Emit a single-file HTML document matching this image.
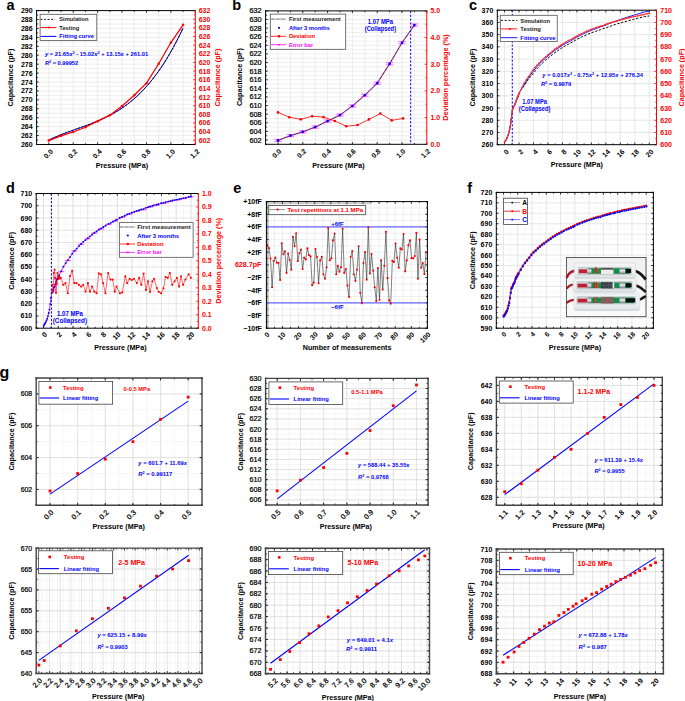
<!DOCTYPE html>
<html><head><meta charset="utf-8"><style>
html,body{margin:0;padding:0;background:#fff;}
svg{display:block;font-family:"Liberation Sans", sans-serif;}
</style></head><body>
<svg width="685" height="701" viewBox="0 0 685 701">
<rect width="685" height="701" fill="#fff"/>
<line x1="48.81" y1="10.6" x2="48.81" y2="144.5" stroke="#e2e2e2" stroke-width="0.6"/>
<line x1="61.02" y1="10.6" x2="61.02" y2="144.5" stroke="#e2e2e2" stroke-width="0.6"/>
<line x1="73.22" y1="10.6" x2="73.22" y2="144.5" stroke="#e2e2e2" stroke-width="0.6"/>
<line x1="85.43" y1="10.6" x2="85.43" y2="144.5" stroke="#e2e2e2" stroke-width="0.6"/>
<line x1="97.64" y1="10.6" x2="97.64" y2="144.5" stroke="#e2e2e2" stroke-width="0.6"/>
<line x1="109.85" y1="10.6" x2="109.85" y2="144.5" stroke="#e2e2e2" stroke-width="0.6"/>
<line x1="122.05" y1="10.6" x2="122.05" y2="144.5" stroke="#e2e2e2" stroke-width="0.6"/>
<line x1="134.26" y1="10.6" x2="134.26" y2="144.5" stroke="#e2e2e2" stroke-width="0.6"/>
<line x1="146.47" y1="10.6" x2="146.47" y2="144.5" stroke="#e2e2e2" stroke-width="0.6"/>
<line x1="158.68" y1="10.6" x2="158.68" y2="144.5" stroke="#e2e2e2" stroke-width="0.6"/>
<line x1="170.88" y1="10.6" x2="170.88" y2="144.5" stroke="#e2e2e2" stroke-width="0.6"/>
<line x1="183.09" y1="10.6" x2="183.09" y2="144.5" stroke="#e2e2e2" stroke-width="0.6"/>
<line x1="36.6" y1="140.04" x2="195.3" y2="140.04" stroke="#e2e2e2" stroke-width="0.6"/>
<line x1="36.6" y1="135.57" x2="195.3" y2="135.57" stroke="#e2e2e2" stroke-width="0.6"/>
<line x1="36.6" y1="131.11" x2="195.3" y2="131.11" stroke="#e2e2e2" stroke-width="0.6"/>
<line x1="36.6" y1="126.65" x2="195.3" y2="126.65" stroke="#e2e2e2" stroke-width="0.6"/>
<line x1="36.6" y1="122.18" x2="195.3" y2="122.18" stroke="#e2e2e2" stroke-width="0.6"/>
<line x1="36.6" y1="117.72" x2="195.3" y2="117.72" stroke="#e2e2e2" stroke-width="0.6"/>
<line x1="36.6" y1="113.26" x2="195.3" y2="113.26" stroke="#e2e2e2" stroke-width="0.6"/>
<line x1="36.6" y1="108.79" x2="195.3" y2="108.79" stroke="#e2e2e2" stroke-width="0.6"/>
<line x1="36.6" y1="104.33" x2="195.3" y2="104.33" stroke="#e2e2e2" stroke-width="0.6"/>
<line x1="36.6" y1="99.87" x2="195.3" y2="99.87" stroke="#e2e2e2" stroke-width="0.6"/>
<line x1="36.6" y1="95.4" x2="195.3" y2="95.4" stroke="#e2e2e2" stroke-width="0.6"/>
<line x1="36.6" y1="90.94" x2="195.3" y2="90.94" stroke="#e2e2e2" stroke-width="0.6"/>
<line x1="36.6" y1="86.48" x2="195.3" y2="86.48" stroke="#e2e2e2" stroke-width="0.6"/>
<line x1="36.6" y1="82.01" x2="195.3" y2="82.01" stroke="#e2e2e2" stroke-width="0.6"/>
<line x1="36.6" y1="77.55" x2="195.3" y2="77.55" stroke="#e2e2e2" stroke-width="0.6"/>
<line x1="36.6" y1="73.09" x2="195.3" y2="73.09" stroke="#e2e2e2" stroke-width="0.6"/>
<line x1="36.6" y1="68.62" x2="195.3" y2="68.62" stroke="#e2e2e2" stroke-width="0.6"/>
<line x1="36.6" y1="64.16" x2="195.3" y2="64.16" stroke="#e2e2e2" stroke-width="0.6"/>
<line x1="36.6" y1="59.7" x2="195.3" y2="59.7" stroke="#e2e2e2" stroke-width="0.6"/>
<line x1="36.6" y1="55.23" x2="195.3" y2="55.23" stroke="#e2e2e2" stroke-width="0.6"/>
<line x1="36.6" y1="50.77" x2="195.3" y2="50.77" stroke="#e2e2e2" stroke-width="0.6"/>
<line x1="36.6" y1="46.31" x2="195.3" y2="46.31" stroke="#e2e2e2" stroke-width="0.6"/>
<line x1="36.6" y1="41.84" x2="195.3" y2="41.84" stroke="#e2e2e2" stroke-width="0.6"/>
<line x1="36.6" y1="37.38" x2="195.3" y2="37.38" stroke="#e2e2e2" stroke-width="0.6"/>
<line x1="36.6" y1="32.92" x2="195.3" y2="32.92" stroke="#e2e2e2" stroke-width="0.6"/>
<line x1="36.6" y1="28.45" x2="195.3" y2="28.45" stroke="#e2e2e2" stroke-width="0.6"/>
<line x1="36.6" y1="23.99" x2="195.3" y2="23.99" stroke="#e2e2e2" stroke-width="0.6"/>
<line x1="36.6" y1="19.53" x2="195.3" y2="19.53" stroke="#e2e2e2" stroke-width="0.6"/>
<line x1="36.6" y1="15.06" x2="195.3" y2="15.06" stroke="#e2e2e2" stroke-width="0.6"/>
<line x1="48.81" y1="144.5" x2="48.81" y2="142.3" stroke="#000" stroke-width="0.8"/>
<line x1="48.81" y1="10.6" x2="48.81" y2="12.8" stroke="#000" stroke-width="0.8"/>
<line x1="73.22" y1="144.5" x2="73.22" y2="142.3" stroke="#000" stroke-width="0.8"/>
<line x1="73.22" y1="10.6" x2="73.22" y2="12.8" stroke="#000" stroke-width="0.8"/>
<line x1="97.64" y1="144.5" x2="97.64" y2="142.3" stroke="#000" stroke-width="0.8"/>
<line x1="97.64" y1="10.6" x2="97.64" y2="12.8" stroke="#000" stroke-width="0.8"/>
<line x1="122.05" y1="144.5" x2="122.05" y2="142.3" stroke="#000" stroke-width="0.8"/>
<line x1="122.05" y1="10.6" x2="122.05" y2="12.8" stroke="#000" stroke-width="0.8"/>
<line x1="146.47" y1="144.5" x2="146.47" y2="142.3" stroke="#000" stroke-width="0.8"/>
<line x1="146.47" y1="10.6" x2="146.47" y2="12.8" stroke="#000" stroke-width="0.8"/>
<line x1="170.88" y1="144.5" x2="170.88" y2="142.3" stroke="#000" stroke-width="0.8"/>
<line x1="170.88" y1="10.6" x2="170.88" y2="12.8" stroke="#000" stroke-width="0.8"/>
<line x1="195.3" y1="144.5" x2="195.3" y2="142.3" stroke="#000" stroke-width="0.8"/>
<line x1="195.3" y1="10.6" x2="195.3" y2="12.8" stroke="#000" stroke-width="0.8"/>
<line x1="61.02" y1="144.5" x2="61.02" y2="143.2" stroke="#000" stroke-width="0.8"/>
<line x1="61.02" y1="10.6" x2="61.02" y2="11.9" stroke="#000" stroke-width="0.8"/>
<line x1="85.43" y1="144.5" x2="85.43" y2="143.2" stroke="#000" stroke-width="0.8"/>
<line x1="85.43" y1="10.6" x2="85.43" y2="11.9" stroke="#000" stroke-width="0.8"/>
<line x1="109.85" y1="144.5" x2="109.85" y2="143.2" stroke="#000" stroke-width="0.8"/>
<line x1="109.85" y1="10.6" x2="109.85" y2="11.9" stroke="#000" stroke-width="0.8"/>
<line x1="134.26" y1="144.5" x2="134.26" y2="143.2" stroke="#000" stroke-width="0.8"/>
<line x1="134.26" y1="10.6" x2="134.26" y2="11.9" stroke="#000" stroke-width="0.8"/>
<line x1="158.68" y1="144.5" x2="158.68" y2="143.2" stroke="#000" stroke-width="0.8"/>
<line x1="158.68" y1="10.6" x2="158.68" y2="11.9" stroke="#000" stroke-width="0.8"/>
<line x1="183.09" y1="144.5" x2="183.09" y2="143.2" stroke="#000" stroke-width="0.8"/>
<line x1="183.09" y1="10.6" x2="183.09" y2="11.9" stroke="#000" stroke-width="0.8"/>
<line x1="36.6" y1="144.5" x2="38.8" y2="144.5" stroke="#000" stroke-width="0.8"/>
<line x1="36.6" y1="135.57" x2="38.8" y2="135.57" stroke="#000" stroke-width="0.8"/>
<line x1="36.6" y1="126.65" x2="38.8" y2="126.65" stroke="#000" stroke-width="0.8"/>
<line x1="36.6" y1="117.72" x2="38.8" y2="117.72" stroke="#000" stroke-width="0.8"/>
<line x1="36.6" y1="108.79" x2="38.8" y2="108.79" stroke="#000" stroke-width="0.8"/>
<line x1="36.6" y1="99.87" x2="38.8" y2="99.87" stroke="#000" stroke-width="0.8"/>
<line x1="36.6" y1="90.94" x2="38.8" y2="90.94" stroke="#000" stroke-width="0.8"/>
<line x1="36.6" y1="82.01" x2="38.8" y2="82.01" stroke="#000" stroke-width="0.8"/>
<line x1="36.6" y1="73.09" x2="38.8" y2="73.09" stroke="#000" stroke-width="0.8"/>
<line x1="36.6" y1="64.16" x2="38.8" y2="64.16" stroke="#000" stroke-width="0.8"/>
<line x1="36.6" y1="55.23" x2="38.8" y2="55.23" stroke="#000" stroke-width="0.8"/>
<line x1="36.6" y1="46.31" x2="38.8" y2="46.31" stroke="#000" stroke-width="0.8"/>
<line x1="36.6" y1="37.38" x2="38.8" y2="37.38" stroke="#000" stroke-width="0.8"/>
<line x1="36.6" y1="28.45" x2="38.8" y2="28.45" stroke="#000" stroke-width="0.8"/>
<line x1="36.6" y1="19.53" x2="38.8" y2="19.53" stroke="#000" stroke-width="0.8"/>
<line x1="36.6" y1="10.6" x2="38.8" y2="10.6" stroke="#000" stroke-width="0.8"/>
<line x1="36.6" y1="140.04" x2="37.9" y2="140.04" stroke="#000" stroke-width="0.8"/>
<line x1="36.6" y1="131.11" x2="37.9" y2="131.11" stroke="#000" stroke-width="0.8"/>
<line x1="36.6" y1="122.18" x2="37.9" y2="122.18" stroke="#000" stroke-width="0.8"/>
<line x1="36.6" y1="113.26" x2="37.9" y2="113.26" stroke="#000" stroke-width="0.8"/>
<line x1="36.6" y1="104.33" x2="37.9" y2="104.33" stroke="#000" stroke-width="0.8"/>
<line x1="36.6" y1="95.4" x2="37.9" y2="95.4" stroke="#000" stroke-width="0.8"/>
<line x1="36.6" y1="86.48" x2="37.9" y2="86.48" stroke="#000" stroke-width="0.8"/>
<line x1="36.6" y1="77.55" x2="37.9" y2="77.55" stroke="#000" stroke-width="0.8"/>
<line x1="36.6" y1="68.62" x2="37.9" y2="68.62" stroke="#000" stroke-width="0.8"/>
<line x1="36.6" y1="59.7" x2="37.9" y2="59.7" stroke="#000" stroke-width="0.8"/>
<line x1="36.6" y1="50.77" x2="37.9" y2="50.77" stroke="#000" stroke-width="0.8"/>
<line x1="36.6" y1="41.84" x2="37.9" y2="41.84" stroke="#000" stroke-width="0.8"/>
<line x1="36.6" y1="32.92" x2="37.9" y2="32.92" stroke="#000" stroke-width="0.8"/>
<line x1="36.6" y1="23.99" x2="37.9" y2="23.99" stroke="#000" stroke-width="0.8"/>
<line x1="36.6" y1="15.06" x2="37.9" y2="15.06" stroke="#000" stroke-width="0.8"/>
<line x1="195.3" y1="140.18" x2="193.1" y2="140.18" stroke="#ff0000" stroke-width="0.8"/>
<line x1="195.3" y1="131.54" x2="193.1" y2="131.54" stroke="#ff0000" stroke-width="0.8"/>
<line x1="195.3" y1="122.9" x2="193.1" y2="122.9" stroke="#ff0000" stroke-width="0.8"/>
<line x1="195.3" y1="114.26" x2="193.1" y2="114.26" stroke="#ff0000" stroke-width="0.8"/>
<line x1="195.3" y1="105.63" x2="193.1" y2="105.63" stroke="#ff0000" stroke-width="0.8"/>
<line x1="195.3" y1="96.99" x2="193.1" y2="96.99" stroke="#ff0000" stroke-width="0.8"/>
<line x1="195.3" y1="88.35" x2="193.1" y2="88.35" stroke="#ff0000" stroke-width="0.8"/>
<line x1="195.3" y1="79.71" x2="193.1" y2="79.71" stroke="#ff0000" stroke-width="0.8"/>
<line x1="195.3" y1="71.07" x2="193.1" y2="71.07" stroke="#ff0000" stroke-width="0.8"/>
<line x1="195.3" y1="62.43" x2="193.1" y2="62.43" stroke="#ff0000" stroke-width="0.8"/>
<line x1="195.3" y1="53.79" x2="193.1" y2="53.79" stroke="#ff0000" stroke-width="0.8"/>
<line x1="195.3" y1="45.15" x2="193.1" y2="45.15" stroke="#ff0000" stroke-width="0.8"/>
<line x1="195.3" y1="36.52" x2="193.1" y2="36.52" stroke="#ff0000" stroke-width="0.8"/>
<line x1="195.3" y1="27.88" x2="193.1" y2="27.88" stroke="#ff0000" stroke-width="0.8"/>
<line x1="195.3" y1="19.24" x2="193.1" y2="19.24" stroke="#ff0000" stroke-width="0.8"/>
<line x1="195.3" y1="10.6" x2="193.1" y2="10.6" stroke="#ff0000" stroke-width="0.8"/>
<line x1="195.3" y1="144.5" x2="194" y2="144.5" stroke="#ff0000" stroke-width="0.8"/>
<line x1="195.3" y1="135.86" x2="194" y2="135.86" stroke="#ff0000" stroke-width="0.8"/>
<line x1="195.3" y1="127.22" x2="194" y2="127.22" stroke="#ff0000" stroke-width="0.8"/>
<line x1="195.3" y1="118.58" x2="194" y2="118.58" stroke="#ff0000" stroke-width="0.8"/>
<line x1="195.3" y1="109.95" x2="194" y2="109.95" stroke="#ff0000" stroke-width="0.8"/>
<line x1="195.3" y1="101.31" x2="194" y2="101.31" stroke="#ff0000" stroke-width="0.8"/>
<line x1="195.3" y1="92.67" x2="194" y2="92.67" stroke="#ff0000" stroke-width="0.8"/>
<line x1="195.3" y1="84.03" x2="194" y2="84.03" stroke="#ff0000" stroke-width="0.8"/>
<line x1="195.3" y1="75.39" x2="194" y2="75.39" stroke="#ff0000" stroke-width="0.8"/>
<line x1="195.3" y1="66.75" x2="194" y2="66.75" stroke="#ff0000" stroke-width="0.8"/>
<line x1="195.3" y1="58.11" x2="194" y2="58.11" stroke="#ff0000" stroke-width="0.8"/>
<line x1="195.3" y1="49.47" x2="194" y2="49.47" stroke="#ff0000" stroke-width="0.8"/>
<line x1="195.3" y1="40.84" x2="194" y2="40.84" stroke="#ff0000" stroke-width="0.8"/>
<line x1="195.3" y1="32.2" x2="194" y2="32.2" stroke="#ff0000" stroke-width="0.8"/>
<line x1="195.3" y1="23.56" x2="194" y2="23.56" stroke="#ff0000" stroke-width="0.8"/>
<line x1="195.3" y1="14.92" x2="194" y2="14.92" stroke="#ff0000" stroke-width="0.8"/>
<polyline points="48.81,139.99 51.25,138.84 53.69,137.75 56.13,136.69 58.57,135.68 61.02,134.7 63.46,133.75 65.9,132.82 68.34,131.92 70.78,131.04 73.22,130.16 75.66,129.3 78.11,128.43 80.55,127.57 82.99,126.69 85.43,125.81 87.87,124.91 90.31,123.99 92.76,123.04 95.2,122.07 97.64,121.06 100.08,120.01 102.52,118.91 104.96,117.77 107.4,116.58 109.85,115.33 112.29,114.01 114.73,112.63 117.17,111.18 119.61,109.65 122.05,108.04 124.5,106.34 126.94,104.56 129.38,102.68 131.82,100.7 134.26,98.61 136.7,96.42 139.14,94.11 141.59,91.69 144.03,89.14 146.47,86.47 148.91,83.66 151.35,80.72 153.79,77.64 156.24,74.41 158.68,71.03 161.12,67.49 163.56,63.8 166,59.94 168.44,55.91 170.88,51.71 173.33,47.33 175.77,42.76 178.21,38.01 180.65,33.07 183.09,27.93" fill="none" stroke="#0000ff" stroke-width="1" stroke-linejoin="round"/>
<polyline points="48.81,139.99 51.25,138.84 53.69,137.75 56.13,136.69 58.57,135.68 61.02,134.7 63.46,133.75 65.9,132.82 68.34,131.92 70.78,131.04 73.22,130.16 75.66,129.3 78.11,128.43 80.55,127.57 82.99,126.69 85.43,125.81 87.87,124.91 90.31,123.99 92.76,123.04 95.2,122.07 97.64,121.06 100.08,120.01 102.52,118.91 104.96,117.77 107.4,116.58 109.85,115.33 112.29,114.01 114.73,112.63 117.17,111.18 119.61,109.65 122.05,108.04 124.5,106.34 126.94,104.56 129.38,102.68 131.82,100.7 134.26,98.61 136.7,96.42 139.14,94.11 141.59,91.69 144.03,89.14 146.47,86.47 148.91,83.66 151.35,80.72 153.79,77.64 156.24,74.41 158.68,71.03 161.12,67.49 163.56,63.8 166,59.94 168.44,55.91 170.88,51.71 173.33,47.33 175.77,42.76 178.21,38.01 180.65,33.07 183.09,27.93" fill="none" stroke="#000" stroke-width="0.9" stroke-linejoin="round" stroke-dasharray="2,1.5"/>
<polyline points="48.81,140.61 61.02,135.86 73.22,131.97 85.43,127.22 97.64,121.18 109.85,115.13 122.05,106.06 134.26,95.26 146.47,83.17 158.68,63.73 170.88,42.56 183.09,24.85" fill="none" stroke="#ff0000" stroke-width="1.25" stroke-linejoin="round"/>
<circle cx="48.81" cy="140.61" r="1.25" fill="#ff0000"/>
<circle cx="61.02" cy="135.86" r="1.25" fill="#ff0000"/>
<circle cx="73.22" cy="131.97" r="1.25" fill="#ff0000"/>
<circle cx="85.43" cy="127.22" r="1.25" fill="#ff0000"/>
<circle cx="97.64" cy="121.18" r="1.25" fill="#ff0000"/>
<circle cx="109.85" cy="115.13" r="1.25" fill="#ff0000"/>
<circle cx="122.05" cy="106.06" r="1.25" fill="#ff0000"/>
<circle cx="134.26" cy="95.26" r="1.25" fill="#ff0000"/>
<circle cx="146.47" cy="83.17" r="1.25" fill="#ff0000"/>
<circle cx="158.68" cy="63.73" r="1.25" fill="#ff0000"/>
<circle cx="170.88" cy="42.56" r="1.25" fill="#ff0000"/>
<circle cx="183.09" cy="24.85" r="1.25" fill="#ff0000"/>
<line x1="36.6" y1="144.5" x2="195.3" y2="144.5" stroke="#000" stroke-width="1" stroke-linecap="square"/>
<line x1="36.6" y1="10.6" x2="36.6" y2="144.5" stroke="#000" stroke-width="1" stroke-linecap="square"/>
<line x1="36.6" y1="10.6" x2="195.3" y2="10.6" stroke="#000" stroke-width="1" stroke-linecap="square"/>
<line x1="195.3" y1="10.6" x2="195.3" y2="144.5" stroke="#ff0000" stroke-width="1" stroke-linecap="square"/>
<text x="32.6" y="147.02" font-size="7" font-weight="bold" text-anchor="end">260</text>
<text x="32.6" y="138.09" font-size="7" font-weight="bold" text-anchor="end">262</text>
<text x="32.6" y="129.17" font-size="7" font-weight="bold" text-anchor="end">264</text>
<text x="32.6" y="120.24" font-size="7" font-weight="bold" text-anchor="end">266</text>
<text x="32.6" y="111.31" font-size="7" font-weight="bold" text-anchor="end">268</text>
<text x="32.6" y="102.39" font-size="7" font-weight="bold" text-anchor="end">270</text>
<text x="32.6" y="93.46" font-size="7" font-weight="bold" text-anchor="end">272</text>
<text x="32.6" y="84.53" font-size="7" font-weight="bold" text-anchor="end">274</text>
<text x="32.6" y="75.61" font-size="7" font-weight="bold" text-anchor="end">276</text>
<text x="32.6" y="66.68" font-size="7" font-weight="bold" text-anchor="end">278</text>
<text x="32.6" y="57.75" font-size="7" font-weight="bold" text-anchor="end">280</text>
<text x="32.6" y="48.83" font-size="7" font-weight="bold" text-anchor="end">282</text>
<text x="32.6" y="39.9" font-size="7" font-weight="bold" text-anchor="end">284</text>
<text x="32.6" y="30.97" font-size="7" font-weight="bold" text-anchor="end">286</text>
<text x="32.6" y="22.05" font-size="7" font-weight="bold" text-anchor="end">288</text>
<text x="32.6" y="13.12" font-size="7" font-weight="bold" text-anchor="end">290</text>
<text x="198.7" y="142.7" font-size="7" font-weight="bold" fill="#ff0000">602</text>
<text x="198.7" y="134.06" font-size="7" font-weight="bold" fill="#ff0000">604</text>
<text x="198.7" y="125.42" font-size="7" font-weight="bold" fill="#ff0000">606</text>
<text x="198.7" y="116.78" font-size="7" font-weight="bold" fill="#ff0000">608</text>
<text x="198.7" y="108.15" font-size="7" font-weight="bold" fill="#ff0000">610</text>
<text x="198.7" y="99.51" font-size="7" font-weight="bold" fill="#ff0000">612</text>
<text x="198.7" y="90.87" font-size="7" font-weight="bold" fill="#ff0000">614</text>
<text x="198.7" y="82.23" font-size="7" font-weight="bold" fill="#ff0000">616</text>
<text x="198.7" y="73.59" font-size="7" font-weight="bold" fill="#ff0000">618</text>
<text x="198.7" y="64.95" font-size="7" font-weight="bold" fill="#ff0000">620</text>
<text x="198.7" y="56.31" font-size="7" font-weight="bold" fill="#ff0000">622</text>
<text x="198.7" y="47.67" font-size="7" font-weight="bold" fill="#ff0000">624</text>
<text x="198.7" y="39.04" font-size="7" font-weight="bold" fill="#ff0000">626</text>
<text x="198.7" y="30.4" font-size="7" font-weight="bold" fill="#ff0000">628</text>
<text x="198.7" y="21.76" font-size="7" font-weight="bold" fill="#ff0000">630</text>
<text x="198.7" y="13.12" font-size="7" font-weight="bold" fill="#ff0000">632</text>
<text x="51.71" y="150.3" font-size="7" font-weight="bold" text-anchor="end" dominant-baseline="central" transform="rotate(-45 51.71 150.3)">0.0</text>
<text x="76.12" y="150.3" font-size="7" font-weight="bold" text-anchor="end" dominant-baseline="central" transform="rotate(-45 76.12 150.3)">0.2</text>
<text x="100.54" y="150.3" font-size="7" font-weight="bold" text-anchor="end" dominant-baseline="central" transform="rotate(-45 100.54 150.3)">0.4</text>
<text x="124.95" y="150.3" font-size="7" font-weight="bold" text-anchor="end" dominant-baseline="central" transform="rotate(-45 124.95 150.3)">0.6</text>
<text x="149.37" y="150.3" font-size="7" font-weight="bold" text-anchor="end" dominant-baseline="central" transform="rotate(-45 149.37 150.3)">0.8</text>
<text x="173.78" y="150.3" font-size="7" font-weight="bold" text-anchor="end" dominant-baseline="central" transform="rotate(-45 173.78 150.3)">1.0</text>
<text x="198.2" y="150.3" font-size="7" font-weight="bold" text-anchor="end" dominant-baseline="central" transform="rotate(-45 198.2 150.3)">1.2</text>
<text x="13.2" y="77.6" font-size="7.2" font-weight="bold" text-anchor="middle" transform="rotate(-90 13.2 77.6)">Capacitance (pF)</text>
<text x="219.7" y="77.6" font-size="7.2" font-weight="bold" fill="#ff0000" text-anchor="middle" transform="rotate(-90 219.7 77.6)">Capacitance (pF)</text>
<text x="121.9" y="168.3" font-size="7.2" font-weight="bold" text-anchor="middle">Pressure (MPa)</text>
<rect x="40.1" y="14.3" width="56.7" height="26.2" fill="#fff" stroke="#555" stroke-width="0.8"/>
<line x1="40.6" y1="19.4" x2="55" y2="19.4" stroke="#000" stroke-width="0.9" stroke-dasharray="2,1.5"/>
<text x="59.3" y="21.4" font-size="5.8" font-weight="bold" fill="#222" textLength="29.3" lengthAdjust="spacingAndGlyphs">Simulation</text>
<line x1="40.6" y1="27.6" x2="56.4" y2="27.6" stroke="#ff0000" stroke-width="1"/>
<circle cx="48.8" cy="27.6" r="1" fill="#ff0000"/>
<text x="59.3" y="29.6" font-size="5.8" font-weight="bold" fill="#222" textLength="20.1" lengthAdjust="spacingAndGlyphs">Testing</text>
<line x1="40.6" y1="36.4" x2="56.4" y2="36.4" stroke="#0000ff" stroke-width="1"/>
<text x="59.3" y="38.4" font-size="5.8" font-weight="bold" fill="#0000ff" textLength="34.7" lengthAdjust="spacingAndGlyphs">Fitting curve</text>
<text x="44.9" y="55.6" font-size="5.6" font-weight="bold" fill="#0000ff" textLength="103.3" lengthAdjust="spacingAndGlyphs"><tspan font-style="italic">y</tspan> = 21.65<tspan font-style="italic">x</tspan><tspan font-size="3.6" dy="-2">3</tspan><tspan dy="2"> - 15.02</tspan><tspan font-style="italic">x</tspan><tspan font-size="3.6" dy="-2">2</tspan><tspan dy="2"> + 13.15</tspan><tspan font-style="italic">x</tspan> + 261.01</text>
<text x="44.9" y="65.4" font-size="5.6" font-weight="bold" fill="#0000ff" textLength="33.3" lengthAdjust="spacingAndGlyphs"><tspan font-style="italic">R</tspan><tspan font-size="3.6" dy="-2">2</tspan><tspan dy="2"> = 0.99952</tspan></text>
<text x="6.4" y="10.2" font-size="14.5" font-weight="bold">a</text>
<line x1="278" y1="10.9" x2="278" y2="144.3" stroke="#e2e2e2" stroke-width="0.6"/>
<line x1="290.4" y1="10.9" x2="290.4" y2="144.3" stroke="#e2e2e2" stroke-width="0.6"/>
<line x1="302.8" y1="10.9" x2="302.8" y2="144.3" stroke="#e2e2e2" stroke-width="0.6"/>
<line x1="315.2" y1="10.9" x2="315.2" y2="144.3" stroke="#e2e2e2" stroke-width="0.6"/>
<line x1="327.6" y1="10.9" x2="327.6" y2="144.3" stroke="#e2e2e2" stroke-width="0.6"/>
<line x1="340" y1="10.9" x2="340" y2="144.3" stroke="#e2e2e2" stroke-width="0.6"/>
<line x1="352.4" y1="10.9" x2="352.4" y2="144.3" stroke="#e2e2e2" stroke-width="0.6"/>
<line x1="364.8" y1="10.9" x2="364.8" y2="144.3" stroke="#e2e2e2" stroke-width="0.6"/>
<line x1="377.2" y1="10.9" x2="377.2" y2="144.3" stroke="#e2e2e2" stroke-width="0.6"/>
<line x1="389.6" y1="10.9" x2="389.6" y2="144.3" stroke="#e2e2e2" stroke-width="0.6"/>
<line x1="402" y1="10.9" x2="402" y2="144.3" stroke="#e2e2e2" stroke-width="0.6"/>
<line x1="414.4" y1="10.9" x2="414.4" y2="144.3" stroke="#e2e2e2" stroke-width="0.6"/>
<line x1="265.6" y1="140" x2="426.8" y2="140" stroke="#e2e2e2" stroke-width="0.6"/>
<line x1="265.6" y1="135.69" x2="426.8" y2="135.69" stroke="#e2e2e2" stroke-width="0.6"/>
<line x1="265.6" y1="131.39" x2="426.8" y2="131.39" stroke="#e2e2e2" stroke-width="0.6"/>
<line x1="265.6" y1="127.09" x2="426.8" y2="127.09" stroke="#e2e2e2" stroke-width="0.6"/>
<line x1="265.6" y1="122.78" x2="426.8" y2="122.78" stroke="#e2e2e2" stroke-width="0.6"/>
<line x1="265.6" y1="118.48" x2="426.8" y2="118.48" stroke="#e2e2e2" stroke-width="0.6"/>
<line x1="265.6" y1="114.18" x2="426.8" y2="114.18" stroke="#e2e2e2" stroke-width="0.6"/>
<line x1="265.6" y1="109.87" x2="426.8" y2="109.87" stroke="#e2e2e2" stroke-width="0.6"/>
<line x1="265.6" y1="105.57" x2="426.8" y2="105.57" stroke="#e2e2e2" stroke-width="0.6"/>
<line x1="265.6" y1="101.27" x2="426.8" y2="101.27" stroke="#e2e2e2" stroke-width="0.6"/>
<line x1="265.6" y1="96.96" x2="426.8" y2="96.96" stroke="#e2e2e2" stroke-width="0.6"/>
<line x1="265.6" y1="92.66" x2="426.8" y2="92.66" stroke="#e2e2e2" stroke-width="0.6"/>
<line x1="265.6" y1="88.36" x2="426.8" y2="88.36" stroke="#e2e2e2" stroke-width="0.6"/>
<line x1="265.6" y1="84.05" x2="426.8" y2="84.05" stroke="#e2e2e2" stroke-width="0.6"/>
<line x1="265.6" y1="79.75" x2="426.8" y2="79.75" stroke="#e2e2e2" stroke-width="0.6"/>
<line x1="265.6" y1="75.45" x2="426.8" y2="75.45" stroke="#e2e2e2" stroke-width="0.6"/>
<line x1="265.6" y1="71.15" x2="426.8" y2="71.15" stroke="#e2e2e2" stroke-width="0.6"/>
<line x1="265.6" y1="66.84" x2="426.8" y2="66.84" stroke="#e2e2e2" stroke-width="0.6"/>
<line x1="265.6" y1="62.54" x2="426.8" y2="62.54" stroke="#e2e2e2" stroke-width="0.6"/>
<line x1="265.6" y1="58.24" x2="426.8" y2="58.24" stroke="#e2e2e2" stroke-width="0.6"/>
<line x1="265.6" y1="53.93" x2="426.8" y2="53.93" stroke="#e2e2e2" stroke-width="0.6"/>
<line x1="265.6" y1="49.63" x2="426.8" y2="49.63" stroke="#e2e2e2" stroke-width="0.6"/>
<line x1="265.6" y1="45.33" x2="426.8" y2="45.33" stroke="#e2e2e2" stroke-width="0.6"/>
<line x1="265.6" y1="41.02" x2="426.8" y2="41.02" stroke="#e2e2e2" stroke-width="0.6"/>
<line x1="265.6" y1="36.72" x2="426.8" y2="36.72" stroke="#e2e2e2" stroke-width="0.6"/>
<line x1="265.6" y1="32.42" x2="426.8" y2="32.42" stroke="#e2e2e2" stroke-width="0.6"/>
<line x1="265.6" y1="28.11" x2="426.8" y2="28.11" stroke="#e2e2e2" stroke-width="0.6"/>
<line x1="265.6" y1="23.81" x2="426.8" y2="23.81" stroke="#e2e2e2" stroke-width="0.6"/>
<line x1="265.6" y1="19.51" x2="426.8" y2="19.51" stroke="#e2e2e2" stroke-width="0.6"/>
<line x1="265.6" y1="15.2" x2="426.8" y2="15.2" stroke="#e2e2e2" stroke-width="0.6"/>
<line x1="278" y1="144.3" x2="278" y2="142.1" stroke="#000" stroke-width="0.8"/>
<line x1="278" y1="10.9" x2="278" y2="13.1" stroke="#000" stroke-width="0.8"/>
<line x1="302.8" y1="144.3" x2="302.8" y2="142.1" stroke="#000" stroke-width="0.8"/>
<line x1="302.8" y1="10.9" x2="302.8" y2="13.1" stroke="#000" stroke-width="0.8"/>
<line x1="327.6" y1="144.3" x2="327.6" y2="142.1" stroke="#000" stroke-width="0.8"/>
<line x1="327.6" y1="10.9" x2="327.6" y2="13.1" stroke="#000" stroke-width="0.8"/>
<line x1="352.4" y1="144.3" x2="352.4" y2="142.1" stroke="#000" stroke-width="0.8"/>
<line x1="352.4" y1="10.9" x2="352.4" y2="13.1" stroke="#000" stroke-width="0.8"/>
<line x1="377.2" y1="144.3" x2="377.2" y2="142.1" stroke="#000" stroke-width="0.8"/>
<line x1="377.2" y1="10.9" x2="377.2" y2="13.1" stroke="#000" stroke-width="0.8"/>
<line x1="402" y1="144.3" x2="402" y2="142.1" stroke="#000" stroke-width="0.8"/>
<line x1="402" y1="10.9" x2="402" y2="13.1" stroke="#000" stroke-width="0.8"/>
<line x1="426.8" y1="144.3" x2="426.8" y2="142.1" stroke="#000" stroke-width="0.8"/>
<line x1="426.8" y1="10.9" x2="426.8" y2="13.1" stroke="#000" stroke-width="0.8"/>
<line x1="290.4" y1="144.3" x2="290.4" y2="143" stroke="#000" stroke-width="0.8"/>
<line x1="290.4" y1="10.9" x2="290.4" y2="12.2" stroke="#000" stroke-width="0.8"/>
<line x1="315.2" y1="144.3" x2="315.2" y2="143" stroke="#000" stroke-width="0.8"/>
<line x1="315.2" y1="10.9" x2="315.2" y2="12.2" stroke="#000" stroke-width="0.8"/>
<line x1="340" y1="144.3" x2="340" y2="143" stroke="#000" stroke-width="0.8"/>
<line x1="340" y1="10.9" x2="340" y2="12.2" stroke="#000" stroke-width="0.8"/>
<line x1="364.8" y1="144.3" x2="364.8" y2="143" stroke="#000" stroke-width="0.8"/>
<line x1="364.8" y1="10.9" x2="364.8" y2="12.2" stroke="#000" stroke-width="0.8"/>
<line x1="389.6" y1="144.3" x2="389.6" y2="143" stroke="#000" stroke-width="0.8"/>
<line x1="389.6" y1="10.9" x2="389.6" y2="12.2" stroke="#000" stroke-width="0.8"/>
<line x1="414.4" y1="144.3" x2="414.4" y2="143" stroke="#000" stroke-width="0.8"/>
<line x1="414.4" y1="10.9" x2="414.4" y2="12.2" stroke="#000" stroke-width="0.8"/>
<line x1="265.6" y1="140" x2="267.8" y2="140" stroke="#000" stroke-width="0.8"/>
<line x1="265.6" y1="131.39" x2="267.8" y2="131.39" stroke="#000" stroke-width="0.8"/>
<line x1="265.6" y1="122.78" x2="267.8" y2="122.78" stroke="#000" stroke-width="0.8"/>
<line x1="265.6" y1="114.18" x2="267.8" y2="114.18" stroke="#000" stroke-width="0.8"/>
<line x1="265.6" y1="105.57" x2="267.8" y2="105.57" stroke="#000" stroke-width="0.8"/>
<line x1="265.6" y1="96.96" x2="267.8" y2="96.96" stroke="#000" stroke-width="0.8"/>
<line x1="265.6" y1="88.36" x2="267.8" y2="88.36" stroke="#000" stroke-width="0.8"/>
<line x1="265.6" y1="79.75" x2="267.8" y2="79.75" stroke="#000" stroke-width="0.8"/>
<line x1="265.6" y1="71.15" x2="267.8" y2="71.15" stroke="#000" stroke-width="0.8"/>
<line x1="265.6" y1="62.54" x2="267.8" y2="62.54" stroke="#000" stroke-width="0.8"/>
<line x1="265.6" y1="53.93" x2="267.8" y2="53.93" stroke="#000" stroke-width="0.8"/>
<line x1="265.6" y1="45.33" x2="267.8" y2="45.33" stroke="#000" stroke-width="0.8"/>
<line x1="265.6" y1="36.72" x2="267.8" y2="36.72" stroke="#000" stroke-width="0.8"/>
<line x1="265.6" y1="28.11" x2="267.8" y2="28.11" stroke="#000" stroke-width="0.8"/>
<line x1="265.6" y1="19.51" x2="267.8" y2="19.51" stroke="#000" stroke-width="0.8"/>
<line x1="265.6" y1="10.9" x2="267.8" y2="10.9" stroke="#000" stroke-width="0.8"/>
<line x1="265.6" y1="144.3" x2="266.9" y2="144.3" stroke="#000" stroke-width="0.8"/>
<line x1="265.6" y1="135.69" x2="266.9" y2="135.69" stroke="#000" stroke-width="0.8"/>
<line x1="265.6" y1="127.09" x2="266.9" y2="127.09" stroke="#000" stroke-width="0.8"/>
<line x1="265.6" y1="118.48" x2="266.9" y2="118.48" stroke="#000" stroke-width="0.8"/>
<line x1="265.6" y1="109.87" x2="266.9" y2="109.87" stroke="#000" stroke-width="0.8"/>
<line x1="265.6" y1="101.27" x2="266.9" y2="101.27" stroke="#000" stroke-width="0.8"/>
<line x1="265.6" y1="92.66" x2="266.9" y2="92.66" stroke="#000" stroke-width="0.8"/>
<line x1="265.6" y1="84.05" x2="266.9" y2="84.05" stroke="#000" stroke-width="0.8"/>
<line x1="265.6" y1="75.45" x2="266.9" y2="75.45" stroke="#000" stroke-width="0.8"/>
<line x1="265.6" y1="66.84" x2="266.9" y2="66.84" stroke="#000" stroke-width="0.8"/>
<line x1="265.6" y1="58.24" x2="266.9" y2="58.24" stroke="#000" stroke-width="0.8"/>
<line x1="265.6" y1="49.63" x2="266.9" y2="49.63" stroke="#000" stroke-width="0.8"/>
<line x1="265.6" y1="41.02" x2="266.9" y2="41.02" stroke="#000" stroke-width="0.8"/>
<line x1="265.6" y1="32.42" x2="266.9" y2="32.42" stroke="#000" stroke-width="0.8"/>
<line x1="265.6" y1="23.81" x2="266.9" y2="23.81" stroke="#000" stroke-width="0.8"/>
<line x1="265.6" y1="15.2" x2="266.9" y2="15.2" stroke="#000" stroke-width="0.8"/>
<line x1="426.8" y1="144.3" x2="424.6" y2="144.3" stroke="#ff0000" stroke-width="0.8"/>
<line x1="426.8" y1="117.62" x2="424.6" y2="117.62" stroke="#ff0000" stroke-width="0.8"/>
<line x1="426.8" y1="90.94" x2="424.6" y2="90.94" stroke="#ff0000" stroke-width="0.8"/>
<line x1="426.8" y1="64.26" x2="424.6" y2="64.26" stroke="#ff0000" stroke-width="0.8"/>
<line x1="426.8" y1="37.58" x2="424.6" y2="37.58" stroke="#ff0000" stroke-width="0.8"/>
<line x1="426.8" y1="10.9" x2="424.6" y2="10.9" stroke="#ff0000" stroke-width="0.8"/>
<line x1="426.8" y1="130.96" x2="425.5" y2="130.96" stroke="#ff0000" stroke-width="0.8"/>
<line x1="426.8" y1="104.28" x2="425.5" y2="104.28" stroke="#ff0000" stroke-width="0.8"/>
<line x1="426.8" y1="77.6" x2="425.5" y2="77.6" stroke="#ff0000" stroke-width="0.8"/>
<line x1="426.8" y1="50.92" x2="425.5" y2="50.92" stroke="#ff0000" stroke-width="0.8"/>
<line x1="426.8" y1="24.24" x2="425.5" y2="24.24" stroke="#ff0000" stroke-width="0.8"/>
<line x1="410.68" y1="10.9" x2="410.68" y2="144.3" stroke="#0000ff" stroke-width="1" stroke-dasharray="2.2,1.6"/>
<polyline points="278,140.43 290.4,135.69 302.8,131.82 315.2,127.09 327.6,121.06 340,115.04 352.4,106 364.8,95.24 377.2,83.19 389.6,63.83 402,42.74 414.4,25.1" fill="none" stroke="#ff00ff" stroke-width="1.4" stroke-linejoin="round" opacity="0.45"/>
<polyline points="278,140.43 290.4,135.69 302.8,131.82 315.2,127.09 327.6,121.06 340,115.04 352.4,106 364.8,95.24 377.2,83.19 389.6,63.83 402,42.74 414.4,25.1" fill="none" stroke="#111" stroke-width="0.95" stroke-linejoin="round" stroke-dasharray="1.2,0.35"/>
<line x1="274.3" y1="139.33" x2="281.7" y2="139.33" stroke="#ff00ff" stroke-width="0.7" opacity="0.85"/>
<line x1="274.3" y1="141.53" x2="281.7" y2="141.53" stroke="#ff00ff" stroke-width="0.7" opacity="0.85"/>
<line x1="286.7" y1="134.59" x2="294.1" y2="134.59" stroke="#ff00ff" stroke-width="0.7" opacity="0.85"/>
<line x1="286.7" y1="136.79" x2="294.1" y2="136.79" stroke="#ff00ff" stroke-width="0.7" opacity="0.85"/>
<line x1="299.1" y1="130.72" x2="306.5" y2="130.72" stroke="#ff00ff" stroke-width="0.7" opacity="0.85"/>
<line x1="299.1" y1="132.92" x2="306.5" y2="132.92" stroke="#ff00ff" stroke-width="0.7" opacity="0.85"/>
<line x1="311.5" y1="125.99" x2="318.9" y2="125.99" stroke="#ff00ff" stroke-width="0.7" opacity="0.85"/>
<line x1="311.5" y1="128.19" x2="318.9" y2="128.19" stroke="#ff00ff" stroke-width="0.7" opacity="0.85"/>
<line x1="323.9" y1="119.96" x2="331.3" y2="119.96" stroke="#ff00ff" stroke-width="0.7" opacity="0.85"/>
<line x1="323.9" y1="122.16" x2="331.3" y2="122.16" stroke="#ff00ff" stroke-width="0.7" opacity="0.85"/>
<line x1="336.3" y1="113.94" x2="343.7" y2="113.94" stroke="#ff00ff" stroke-width="0.7" opacity="0.85"/>
<line x1="336.3" y1="116.14" x2="343.7" y2="116.14" stroke="#ff00ff" stroke-width="0.7" opacity="0.85"/>
<line x1="348.7" y1="104.9" x2="356.1" y2="104.9" stroke="#ff00ff" stroke-width="0.7" opacity="0.85"/>
<line x1="348.7" y1="107.1" x2="356.1" y2="107.1" stroke="#ff00ff" stroke-width="0.7" opacity="0.85"/>
<line x1="361.1" y1="94.14" x2="368.5" y2="94.14" stroke="#ff00ff" stroke-width="0.7" opacity="0.85"/>
<line x1="361.1" y1="96.34" x2="368.5" y2="96.34" stroke="#ff00ff" stroke-width="0.7" opacity="0.85"/>
<line x1="373.5" y1="82.09" x2="380.9" y2="82.09" stroke="#ff00ff" stroke-width="0.7" opacity="0.85"/>
<line x1="373.5" y1="84.29" x2="380.9" y2="84.29" stroke="#ff00ff" stroke-width="0.7" opacity="0.85"/>
<line x1="385.9" y1="62.73" x2="393.3" y2="62.73" stroke="#ff00ff" stroke-width="0.7" opacity="0.85"/>
<line x1="385.9" y1="64.93" x2="393.3" y2="64.93" stroke="#ff00ff" stroke-width="0.7" opacity="0.85"/>
<line x1="398.3" y1="41.64" x2="405.7" y2="41.64" stroke="#ff00ff" stroke-width="0.7" opacity="0.85"/>
<line x1="398.3" y1="43.84" x2="405.7" y2="43.84" stroke="#ff00ff" stroke-width="0.7" opacity="0.85"/>
<line x1="410.7" y1="24" x2="418.1" y2="24" stroke="#ff00ff" stroke-width="0.7" opacity="0.85"/>
<line x1="410.7" y1="26.2" x2="418.1" y2="26.2" stroke="#ff00ff" stroke-width="0.7" opacity="0.85"/>
<circle cx="278" cy="140.43" r="1.35" fill="#0000ff"/>
<circle cx="290.4" cy="135.69" r="1.35" fill="#0000ff"/>
<circle cx="302.8" cy="131.82" r="1.35" fill="#0000ff"/>
<circle cx="315.2" cy="127.09" r="1.35" fill="#0000ff"/>
<circle cx="327.6" cy="121.06" r="1.35" fill="#0000ff"/>
<circle cx="340" cy="115.04" r="1.35" fill="#0000ff"/>
<circle cx="352.4" cy="106" r="1.35" fill="#0000ff"/>
<circle cx="364.8" cy="95.24" r="1.35" fill="#0000ff"/>
<circle cx="377.2" cy="83.19" r="1.35" fill="#0000ff"/>
<circle cx="389.6" cy="63.83" r="1.35" fill="#0000ff"/>
<circle cx="402" cy="42.74" r="1.35" fill="#0000ff"/>
<circle cx="414.4" cy="25.1" r="1.35" fill="#0000ff"/>
<polyline points="278,112.39 289.37,117.22 300.74,119.33 312.11,116.21 323.48,117.11 334.85,121.04 346.22,126.18 357.6,125.06 368.97,119.38 380.34,113.54 391.71,120.39 403.08,118.42" fill="none" stroke="#ff0000" stroke-width="0.8" stroke-linejoin="round"/>
<circle cx="278" cy="112.39" r="1.3" fill="#ff0000"/>
<circle cx="289.37" cy="117.22" r="1.3" fill="#ff0000"/>
<circle cx="300.74" cy="119.33" r="1.3" fill="#ff0000"/>
<circle cx="312.11" cy="116.21" r="1.3" fill="#ff0000"/>
<circle cx="323.48" cy="117.11" r="1.3" fill="#ff0000"/>
<circle cx="334.85" cy="121.04" r="1.3" fill="#ff0000"/>
<circle cx="346.22" cy="126.18" r="1.3" fill="#ff0000"/>
<circle cx="357.6" cy="125.06" r="1.3" fill="#ff0000"/>
<circle cx="368.97" cy="119.38" r="1.3" fill="#ff0000"/>
<circle cx="380.34" cy="113.54" r="1.3" fill="#ff0000"/>
<circle cx="391.71" cy="120.39" r="1.3" fill="#ff0000"/>
<circle cx="403.08" cy="118.42" r="1.3" fill="#ff0000"/>
<line x1="265.6" y1="144.3" x2="426.8" y2="144.3" stroke="#000" stroke-width="1" stroke-linecap="square"/>
<line x1="265.6" y1="10.9" x2="265.6" y2="144.3" stroke="#000" stroke-width="1" stroke-linecap="square"/>
<line x1="265.6" y1="10.9" x2="426.8" y2="10.9" stroke="#000" stroke-width="1" stroke-linecap="square"/>
<line x1="426.8" y1="10.9" x2="426.8" y2="144.3" stroke="#ff0000" stroke-width="1" stroke-linecap="square"/>
<text x="261.6" y="142.52" font-size="7" stroke="#000" stroke-width="0.22" text-anchor="end" textLength="12.2" lengthAdjust="spacingAndGlyphs">602</text>
<text x="261.6" y="133.91" font-size="7" stroke="#000" stroke-width="0.22" text-anchor="end" textLength="12.2" lengthAdjust="spacingAndGlyphs">604</text>
<text x="261.6" y="125.3" font-size="7" stroke="#000" stroke-width="0.22" text-anchor="end" textLength="12.2" lengthAdjust="spacingAndGlyphs">606</text>
<text x="261.6" y="116.7" font-size="7" stroke="#000" stroke-width="0.22" text-anchor="end" textLength="12.2" lengthAdjust="spacingAndGlyphs">608</text>
<text x="261.6" y="108.09" font-size="7" stroke="#000" stroke-width="0.22" text-anchor="end" textLength="12.2" lengthAdjust="spacingAndGlyphs">610</text>
<text x="261.6" y="99.48" font-size="7" stroke="#000" stroke-width="0.22" text-anchor="end" textLength="12.2" lengthAdjust="spacingAndGlyphs">612</text>
<text x="261.6" y="90.88" font-size="7" stroke="#000" stroke-width="0.22" text-anchor="end" textLength="12.2" lengthAdjust="spacingAndGlyphs">614</text>
<text x="261.6" y="82.27" font-size="7" stroke="#000" stroke-width="0.22" text-anchor="end" textLength="12.2" lengthAdjust="spacingAndGlyphs">616</text>
<text x="261.6" y="73.67" font-size="7" stroke="#000" stroke-width="0.22" text-anchor="end" textLength="12.2" lengthAdjust="spacingAndGlyphs">618</text>
<text x="261.6" y="65.06" font-size="7" stroke="#000" stroke-width="0.22" text-anchor="end" textLength="12.2" lengthAdjust="spacingAndGlyphs">620</text>
<text x="261.6" y="56.45" font-size="7" stroke="#000" stroke-width="0.22" text-anchor="end" textLength="12.2" lengthAdjust="spacingAndGlyphs">622</text>
<text x="261.6" y="47.85" font-size="7" stroke="#000" stroke-width="0.22" text-anchor="end" textLength="12.2" lengthAdjust="spacingAndGlyphs">624</text>
<text x="261.6" y="39.24" font-size="7" stroke="#000" stroke-width="0.22" text-anchor="end" textLength="12.2" lengthAdjust="spacingAndGlyphs">626</text>
<text x="261.6" y="30.63" font-size="7" stroke="#000" stroke-width="0.22" text-anchor="end" textLength="12.2" lengthAdjust="spacingAndGlyphs">628</text>
<text x="261.6" y="22.03" font-size="7" stroke="#000" stroke-width="0.22" text-anchor="end" textLength="12.2" lengthAdjust="spacingAndGlyphs">630</text>
<text x="261.6" y="13.42" font-size="7" stroke="#000" stroke-width="0.22" text-anchor="end" textLength="12.2" lengthAdjust="spacingAndGlyphs">632</text>
<text x="430.4" y="146.82" font-size="7" font-weight="bold" fill="#ff0000">0.0</text>
<text x="430.4" y="120.14" font-size="7" font-weight="bold" fill="#ff0000">1.0</text>
<text x="430.4" y="93.46" font-size="7" font-weight="bold" fill="#ff0000">2.0</text>
<text x="430.4" y="66.78" font-size="7" font-weight="bold" fill="#ff0000">3.0</text>
<text x="430.4" y="40.1" font-size="7" font-weight="bold" fill="#ff0000">4.0</text>
<text x="430.4" y="13.42" font-size="7" font-weight="bold" fill="#ff0000">5.0</text>
<text x="280.1" y="149.9" font-size="7" font-weight="bold" text-anchor="end" dominant-baseline="central" transform="rotate(-45 280.1 149.9)">0.0</text>
<text x="304.9" y="149.9" font-size="7" font-weight="bold" text-anchor="end" dominant-baseline="central" transform="rotate(-45 304.9 149.9)">0.2</text>
<text x="329.7" y="149.9" font-size="7" font-weight="bold" text-anchor="end" dominant-baseline="central" transform="rotate(-45 329.7 149.9)">0.4</text>
<text x="354.5" y="149.9" font-size="7" font-weight="bold" text-anchor="end" dominant-baseline="central" transform="rotate(-45 354.5 149.9)">0.6</text>
<text x="379.3" y="149.9" font-size="7" font-weight="bold" text-anchor="end" dominant-baseline="central" transform="rotate(-45 379.3 149.9)">0.8</text>
<text x="404.1" y="149.9" font-size="7" font-weight="bold" text-anchor="end" dominant-baseline="central" transform="rotate(-45 404.1 149.9)">1.0</text>
<text x="428.9" y="149.9" font-size="7" font-weight="bold" text-anchor="end" dominant-baseline="central" transform="rotate(-45 428.9 149.9)">1.2</text>
<text x="242.3" y="77.1" font-size="7.2" font-weight="bold" text-anchor="middle" transform="rotate(-90 242.3 77.1)">Capacitance (pF)</text>
<text x="448.4" y="77.5" font-size="7.2" font-weight="bold" fill="#ff0000" text-anchor="middle" transform="rotate(-90 448.4 77.5)" textLength="86.5" lengthAdjust="spacingAndGlyphs">Deviation percentage (%)</text>
<text x="338.5" y="168.3" font-size="7.2" font-weight="bold" text-anchor="middle">Pressure (MPa)</text>
<rect x="270.3" y="14.1" width="75.4" height="35.2" fill="#fff" stroke="#555" stroke-width="0.8"/>
<line x1="270.8" y1="19.1" x2="286" y2="19.1" stroke="#000" stroke-width="0.9" stroke-dasharray="0.7,0.55"/>
<text x="288.9" y="21.1" font-size="5.8" font-weight="bold" fill="#222" textLength="51.8" lengthAdjust="spacingAndGlyphs">First measurement</text>
<circle cx="279" cy="27.8" r="1.1" fill="#0000ff"/>
<text x="288.9" y="29.8" font-size="5.8" font-weight="bold" fill="#0000ff" textLength="40.9" lengthAdjust="spacingAndGlyphs">After 3 months</text>
<line x1="270.8" y1="36.3" x2="286" y2="36.3" stroke="#ff0000" stroke-width="0.8"/>
<circle cx="279" cy="36.3" r="1.3" fill="#ff0000"/>
<text x="288.9" y="38.3" font-size="5.8" font-weight="bold" fill="#ff0000" textLength="26.1" lengthAdjust="spacingAndGlyphs">Deviation</text>
<line x1="270.8" y1="44.7" x2="286" y2="44.7" stroke="#ff00ff" stroke-width="0.8"/>
<circle cx="279" cy="44.7" r="0.9" fill="#ff00ff"/>
<text x="288.9" y="46.7" font-size="5.8" font-weight="bold" fill="#ff00ff" textLength="24.2" lengthAdjust="spacingAndGlyphs">Error bar</text>
<text x="380.4" y="23.8" font-size="6.3" font-weight="bold" fill="#0000ff" text-anchor="middle" textLength="25.1" lengthAdjust="spacingAndGlyphs">1.07 MPa</text>
<text x="380.4" y="30.6" font-size="6.3" font-weight="bold" fill="#0000ff" text-anchor="middle" textLength="31.3" lengthAdjust="spacingAndGlyphs">(Collapsed)</text>
<text x="232.3" y="10.4" font-size="14.5" font-weight="bold">b</text>
<line x1="504.54" y1="10.2" x2="504.54" y2="144.7" stroke="#dcdcdc" stroke-width="0.7"/>
<line x1="519.01" y1="10.2" x2="519.01" y2="144.7" stroke="#dcdcdc" stroke-width="0.7"/>
<line x1="533.48" y1="10.2" x2="533.48" y2="144.7" stroke="#dcdcdc" stroke-width="0.7"/>
<line x1="547.95" y1="10.2" x2="547.95" y2="144.7" stroke="#dcdcdc" stroke-width="0.7"/>
<line x1="562.43" y1="10.2" x2="562.43" y2="144.7" stroke="#dcdcdc" stroke-width="0.7"/>
<line x1="576.9" y1="10.2" x2="576.9" y2="144.7" stroke="#dcdcdc" stroke-width="0.7"/>
<line x1="591.37" y1="10.2" x2="591.37" y2="144.7" stroke="#dcdcdc" stroke-width="0.7"/>
<line x1="605.85" y1="10.2" x2="605.85" y2="144.7" stroke="#dcdcdc" stroke-width="0.7"/>
<line x1="620.32" y1="10.2" x2="620.32" y2="144.7" stroke="#dcdcdc" stroke-width="0.7"/>
<line x1="634.79" y1="10.2" x2="634.79" y2="144.7" stroke="#dcdcdc" stroke-width="0.7"/>
<line x1="649.26" y1="10.2" x2="649.26" y2="144.7" stroke="#dcdcdc" stroke-width="0.7"/>
<line x1="497.3" y1="132.47" x2="656.5" y2="132.47" stroke="#dcdcdc" stroke-width="0.7"/>
<line x1="497.3" y1="120.25" x2="656.5" y2="120.25" stroke="#dcdcdc" stroke-width="0.7"/>
<line x1="497.3" y1="108.02" x2="656.5" y2="108.02" stroke="#dcdcdc" stroke-width="0.7"/>
<line x1="497.3" y1="95.79" x2="656.5" y2="95.79" stroke="#dcdcdc" stroke-width="0.7"/>
<line x1="497.3" y1="83.56" x2="656.5" y2="83.56" stroke="#dcdcdc" stroke-width="0.7"/>
<line x1="497.3" y1="71.34" x2="656.5" y2="71.34" stroke="#dcdcdc" stroke-width="0.7"/>
<line x1="497.3" y1="59.11" x2="656.5" y2="59.11" stroke="#dcdcdc" stroke-width="0.7"/>
<line x1="497.3" y1="46.88" x2="656.5" y2="46.88" stroke="#dcdcdc" stroke-width="0.7"/>
<line x1="497.3" y1="34.65" x2="656.5" y2="34.65" stroke="#dcdcdc" stroke-width="0.7"/>
<line x1="497.3" y1="22.43" x2="656.5" y2="22.43" stroke="#dcdcdc" stroke-width="0.7"/>
<line x1="504.54" y1="144.7" x2="504.54" y2="142.5" stroke="#000" stroke-width="0.8"/>
<line x1="504.54" y1="10.2" x2="504.54" y2="12.4" stroke="#000" stroke-width="0.8"/>
<line x1="519.01" y1="144.7" x2="519.01" y2="142.5" stroke="#000" stroke-width="0.8"/>
<line x1="519.01" y1="10.2" x2="519.01" y2="12.4" stroke="#000" stroke-width="0.8"/>
<line x1="533.48" y1="144.7" x2="533.48" y2="142.5" stroke="#000" stroke-width="0.8"/>
<line x1="533.48" y1="10.2" x2="533.48" y2="12.4" stroke="#000" stroke-width="0.8"/>
<line x1="547.95" y1="144.7" x2="547.95" y2="142.5" stroke="#000" stroke-width="0.8"/>
<line x1="547.95" y1="10.2" x2="547.95" y2="12.4" stroke="#000" stroke-width="0.8"/>
<line x1="562.43" y1="144.7" x2="562.43" y2="142.5" stroke="#000" stroke-width="0.8"/>
<line x1="562.43" y1="10.2" x2="562.43" y2="12.4" stroke="#000" stroke-width="0.8"/>
<line x1="576.9" y1="144.7" x2="576.9" y2="142.5" stroke="#000" stroke-width="0.8"/>
<line x1="576.9" y1="10.2" x2="576.9" y2="12.4" stroke="#000" stroke-width="0.8"/>
<line x1="591.37" y1="144.7" x2="591.37" y2="142.5" stroke="#000" stroke-width="0.8"/>
<line x1="591.37" y1="10.2" x2="591.37" y2="12.4" stroke="#000" stroke-width="0.8"/>
<line x1="605.85" y1="144.7" x2="605.85" y2="142.5" stroke="#000" stroke-width="0.8"/>
<line x1="605.85" y1="10.2" x2="605.85" y2="12.4" stroke="#000" stroke-width="0.8"/>
<line x1="620.32" y1="144.7" x2="620.32" y2="142.5" stroke="#000" stroke-width="0.8"/>
<line x1="620.32" y1="10.2" x2="620.32" y2="12.4" stroke="#000" stroke-width="0.8"/>
<line x1="634.79" y1="144.7" x2="634.79" y2="142.5" stroke="#000" stroke-width="0.8"/>
<line x1="634.79" y1="10.2" x2="634.79" y2="12.4" stroke="#000" stroke-width="0.8"/>
<line x1="649.26" y1="144.7" x2="649.26" y2="142.5" stroke="#000" stroke-width="0.8"/>
<line x1="649.26" y1="10.2" x2="649.26" y2="12.4" stroke="#000" stroke-width="0.8"/>
<line x1="497.3" y1="144.7" x2="497.3" y2="143.4" stroke="#000" stroke-width="0.8"/>
<line x1="497.3" y1="10.2" x2="497.3" y2="11.5" stroke="#000" stroke-width="0.8"/>
<line x1="511.77" y1="144.7" x2="511.77" y2="143.4" stroke="#000" stroke-width="0.8"/>
<line x1="511.77" y1="10.2" x2="511.77" y2="11.5" stroke="#000" stroke-width="0.8"/>
<line x1="526.25" y1="144.7" x2="526.25" y2="143.4" stroke="#000" stroke-width="0.8"/>
<line x1="526.25" y1="10.2" x2="526.25" y2="11.5" stroke="#000" stroke-width="0.8"/>
<line x1="540.72" y1="144.7" x2="540.72" y2="143.4" stroke="#000" stroke-width="0.8"/>
<line x1="540.72" y1="10.2" x2="540.72" y2="11.5" stroke="#000" stroke-width="0.8"/>
<line x1="555.19" y1="144.7" x2="555.19" y2="143.4" stroke="#000" stroke-width="0.8"/>
<line x1="555.19" y1="10.2" x2="555.19" y2="11.5" stroke="#000" stroke-width="0.8"/>
<line x1="569.66" y1="144.7" x2="569.66" y2="143.4" stroke="#000" stroke-width="0.8"/>
<line x1="569.66" y1="10.2" x2="569.66" y2="11.5" stroke="#000" stroke-width="0.8"/>
<line x1="584.14" y1="144.7" x2="584.14" y2="143.4" stroke="#000" stroke-width="0.8"/>
<line x1="584.14" y1="10.2" x2="584.14" y2="11.5" stroke="#000" stroke-width="0.8"/>
<line x1="598.61" y1="144.7" x2="598.61" y2="143.4" stroke="#000" stroke-width="0.8"/>
<line x1="598.61" y1="10.2" x2="598.61" y2="11.5" stroke="#000" stroke-width="0.8"/>
<line x1="613.08" y1="144.7" x2="613.08" y2="143.4" stroke="#000" stroke-width="0.8"/>
<line x1="613.08" y1="10.2" x2="613.08" y2="11.5" stroke="#000" stroke-width="0.8"/>
<line x1="627.55" y1="144.7" x2="627.55" y2="143.4" stroke="#000" stroke-width="0.8"/>
<line x1="627.55" y1="10.2" x2="627.55" y2="11.5" stroke="#000" stroke-width="0.8"/>
<line x1="642.03" y1="144.7" x2="642.03" y2="143.4" stroke="#000" stroke-width="0.8"/>
<line x1="642.03" y1="10.2" x2="642.03" y2="11.5" stroke="#000" stroke-width="0.8"/>
<line x1="656.5" y1="144.7" x2="656.5" y2="143.4" stroke="#000" stroke-width="0.8"/>
<line x1="656.5" y1="10.2" x2="656.5" y2="11.5" stroke="#000" stroke-width="0.8"/>
<line x1="497.3" y1="144.7" x2="499.5" y2="144.7" stroke="#000" stroke-width="0.8"/>
<line x1="497.3" y1="132.47" x2="499.5" y2="132.47" stroke="#000" stroke-width="0.8"/>
<line x1="497.3" y1="120.25" x2="499.5" y2="120.25" stroke="#000" stroke-width="0.8"/>
<line x1="497.3" y1="108.02" x2="499.5" y2="108.02" stroke="#000" stroke-width="0.8"/>
<line x1="497.3" y1="95.79" x2="499.5" y2="95.79" stroke="#000" stroke-width="0.8"/>
<line x1="497.3" y1="83.56" x2="499.5" y2="83.56" stroke="#000" stroke-width="0.8"/>
<line x1="497.3" y1="71.34" x2="499.5" y2="71.34" stroke="#000" stroke-width="0.8"/>
<line x1="497.3" y1="59.11" x2="499.5" y2="59.11" stroke="#000" stroke-width="0.8"/>
<line x1="497.3" y1="46.88" x2="499.5" y2="46.88" stroke="#000" stroke-width="0.8"/>
<line x1="497.3" y1="34.65" x2="499.5" y2="34.65" stroke="#000" stroke-width="0.8"/>
<line x1="497.3" y1="22.43" x2="499.5" y2="22.43" stroke="#000" stroke-width="0.8"/>
<line x1="497.3" y1="10.2" x2="499.5" y2="10.2" stroke="#000" stroke-width="0.8"/>
<line x1="497.3" y1="138.59" x2="498.6" y2="138.59" stroke="#000" stroke-width="0.8"/>
<line x1="497.3" y1="126.36" x2="498.6" y2="126.36" stroke="#000" stroke-width="0.8"/>
<line x1="497.3" y1="114.13" x2="498.6" y2="114.13" stroke="#000" stroke-width="0.8"/>
<line x1="497.3" y1="101.9" x2="498.6" y2="101.9" stroke="#000" stroke-width="0.8"/>
<line x1="497.3" y1="89.68" x2="498.6" y2="89.68" stroke="#000" stroke-width="0.8"/>
<line x1="497.3" y1="77.45" x2="498.6" y2="77.45" stroke="#000" stroke-width="0.8"/>
<line x1="497.3" y1="65.22" x2="498.6" y2="65.22" stroke="#000" stroke-width="0.8"/>
<line x1="497.3" y1="53" x2="498.6" y2="53" stroke="#000" stroke-width="0.8"/>
<line x1="497.3" y1="40.77" x2="498.6" y2="40.77" stroke="#000" stroke-width="0.8"/>
<line x1="497.3" y1="28.54" x2="498.6" y2="28.54" stroke="#000" stroke-width="0.8"/>
<line x1="497.3" y1="16.31" x2="498.6" y2="16.31" stroke="#000" stroke-width="0.8"/>
<line x1="656.5" y1="144.7" x2="654.3" y2="144.7" stroke="#ff0000" stroke-width="0.8"/>
<line x1="656.5" y1="132.47" x2="654.3" y2="132.47" stroke="#ff0000" stroke-width="0.8"/>
<line x1="656.5" y1="120.25" x2="654.3" y2="120.25" stroke="#ff0000" stroke-width="0.8"/>
<line x1="656.5" y1="108.02" x2="654.3" y2="108.02" stroke="#ff0000" stroke-width="0.8"/>
<line x1="656.5" y1="95.79" x2="654.3" y2="95.79" stroke="#ff0000" stroke-width="0.8"/>
<line x1="656.5" y1="83.56" x2="654.3" y2="83.56" stroke="#ff0000" stroke-width="0.8"/>
<line x1="656.5" y1="71.34" x2="654.3" y2="71.34" stroke="#ff0000" stroke-width="0.8"/>
<line x1="656.5" y1="59.11" x2="654.3" y2="59.11" stroke="#ff0000" stroke-width="0.8"/>
<line x1="656.5" y1="46.88" x2="654.3" y2="46.88" stroke="#ff0000" stroke-width="0.8"/>
<line x1="656.5" y1="34.65" x2="654.3" y2="34.65" stroke="#ff0000" stroke-width="0.8"/>
<line x1="656.5" y1="22.43" x2="654.3" y2="22.43" stroke="#ff0000" stroke-width="0.8"/>
<line x1="656.5" y1="10.2" x2="654.3" y2="10.2" stroke="#ff0000" stroke-width="0.8"/>
<line x1="656.5" y1="138.59" x2="655.2" y2="138.59" stroke="#ff0000" stroke-width="0.8"/>
<line x1="656.5" y1="126.36" x2="655.2" y2="126.36" stroke="#ff0000" stroke-width="0.8"/>
<line x1="656.5" y1="114.13" x2="655.2" y2="114.13" stroke="#ff0000" stroke-width="0.8"/>
<line x1="656.5" y1="101.9" x2="655.2" y2="101.9" stroke="#ff0000" stroke-width="0.8"/>
<line x1="656.5" y1="89.68" x2="655.2" y2="89.68" stroke="#ff0000" stroke-width="0.8"/>
<line x1="656.5" y1="77.45" x2="655.2" y2="77.45" stroke="#ff0000" stroke-width="0.8"/>
<line x1="656.5" y1="65.22" x2="655.2" y2="65.22" stroke="#ff0000" stroke-width="0.8"/>
<line x1="656.5" y1="53" x2="655.2" y2="53" stroke="#ff0000" stroke-width="0.8"/>
<line x1="656.5" y1="40.77" x2="655.2" y2="40.77" stroke="#ff0000" stroke-width="0.8"/>
<line x1="656.5" y1="28.54" x2="655.2" y2="28.54" stroke="#ff0000" stroke-width="0.8"/>
<line x1="656.5" y1="16.31" x2="655.2" y2="16.31" stroke="#ff0000" stroke-width="0.8"/>
<line x1="512.28" y1="10.2" x2="512.28" y2="144.7" stroke="#0000ff" stroke-width="1" stroke-dasharray="2.2,1.6"/>
<polyline points="504.54,142.38 505.26,141.03 505.98,139.93 506.71,138.59 507.43,136.87 508.15,135.16 508.88,132.6 509.6,129.54 510.33,126.11 511.05,120.61 511.77,114.62 512.5,109.61 513.22,106.47 513.94,105.79 514.67,104.94 515.39,103.03 516.11,101.15 516.84,99.43 517.56,97.6 518.29,95.99 519.01,94.01 519.73,91.54 521.9,88.82 524.07,85.86 526.25,82.56 528.42,79.43 530.59,76.59 532.76,74.05 534.93,71.26 537.1,68.65 539.27,66.31 541.29,64.21 543.51,62.15 545.67,60.19 547.9,58.32 550.05,56.49 552.27,54.74 554.43,53.04 556.65,51.45 558.81,49.94 561.04,48.52 563.26,47.03 565.42,45.66 568.29,44.34 570.58,43.02 572.74,41.82 574.97,40.63 576.4,39.44 579.29,38.23 581.6,37.04 584.35,35.85 586.6,34.82 588.77,33.82 591.23,32.86 593.62,31.99 596,31.15 598.32,30.43 600.49,29.63 602.59,28.89 604.9,28.17 607.22,27.4 609.25,26.58 611.42,25.88 612.86,25.24 615.61,24.51 617.28,23.87 620.03,23.16 622.2,22.49 624.52,21.8 626.83,21.19 628.93,20.56 631.1,19.99 633.27,19.44 635.44,18.89 637.76,18.35 639.78,17.83 641.95,17.25 644.34,16.64 647.02,16.3 649.26,15.97" fill="none" stroke="#000" stroke-width="1" stroke-linejoin="round" stroke-dasharray="2.4,1.5"/>
<polyline points="504.54,142.38 505.26,141.03 505.98,139.93 506.71,138.59 507.43,136.87 508.15,135.16 508.88,132.6 509.6,129.54 510.33,126.11 511.05,120.61 511.77,114.62 512.5,109.61 513.22,106.59 513.94,106.03 514.67,105.3 515.39,103.52 516.11,101.76 516.84,99.92 517.56,97.97 518.29,96.23 519.01,94.13 519.73,91.54 521.9,88.45 524.07,85.13 526.25,81.46 528.42,77.96 530.59,74.76 532.76,71.85 534.93,69.06 537.1,66.45 539.27,64.11 541.29,62.01 543.51,59.95 545.67,57.99 547.9,56.12 550.05,54.29 552.27,52.54 554.43,50.84 556.65,49.25 558.81,47.74 561.04,46.32 563.26,44.83 565.42,43.46 568.29,42.14 570.58,40.82 572.74,39.62 574.97,38.43 576.4,37.24 579.29,35.98 581.6,34.74 584.35,33.49 586.6,32.42 588.77,31.37 591.23,30.36 593.62,29.43 596,28.54 598.32,27.78 600.49,26.93 602.59,26.15 604.9,25.37 607.22,24.53 609.25,23.6 611.42,22.8 612.86,22.09 615.61,21.23 617.28,20.51 620.03,19.67 622.2,18.89 624.52,18.09 626.83,17.37 628.93,16.64 631.1,15.97 633.27,15.32 635.44,14.66 637.76,14.01 639.78,13.39 641.95,12.71 644.34,11.98 647.02,11.52 649.26,11.08" fill="none" stroke="#0000ff" stroke-width="0.9" stroke-linejoin="round"/>
<polyline points="504.54,142.38 505.26,141.03 505.98,139.93 506.71,138.59 507.43,136.87 508.15,135.16 508.88,132.6 509.6,129.54 510.33,126.11 511.05,120.61 511.77,114.62 512.5,109.61 513.22,108.38 513.94,106.31 514.67,104.35 515.39,103.13 516.11,100.68 516.84,98.24 517.56,96.28 518.29,95.18 519.01,93.35 519.73,92 521.9,87.72 524.07,83.32 526.25,79.77 528.42,76.72 530.59,73.66 532.76,70.24 534.93,67.3 537.1,65.22 539.27,62.78 541.29,60.61 543.51,58.53 545.67,56.8 547.9,54.89 550.05,52.98 552.27,51.3 554.43,49.39 556.65,48.04 558.81,46.36 561.04,45.06 563.26,43.71 565.42,42.32 568.29,40.57 570.58,39.51 572.74,38.45 574.97,37.15 576.4,36.32 579.29,34.62 581.6,33.54 584.35,32.4 586.6,31.22 588.77,30.36 591.23,29.46 593.62,28.55 596,27.59 598.32,26.85 600.49,26.17 602.59,25.89 604.9,24.53 607.22,23.91 609.25,23.22 611.42,22.55 612.86,22.04 615.61,21.36 617.28,20.9 620.03,19.95 622.2,19.6 624.52,18.87 626.83,18.29 628.93,17.79 631.1,17.22 633.27,16.77 635.44,16.31 637.76,15.86 639.78,15.35 641.95,14.85 644.34,14.44 647.02,13.71 649.26,13.15" fill="none" stroke="#ff3030" stroke-width="1" stroke-linejoin="round"/>
<circle cx="504.54" cy="142.38" r="0.85" fill="#ff3030"/>
<circle cx="505.26" cy="141.03" r="0.85" fill="#ff3030"/>
<circle cx="505.98" cy="139.93" r="0.85" fill="#ff3030"/>
<circle cx="506.71" cy="138.59" r="0.85" fill="#ff3030"/>
<circle cx="507.43" cy="136.87" r="0.85" fill="#ff3030"/>
<circle cx="508.15" cy="135.16" r="0.85" fill="#ff3030"/>
<circle cx="508.88" cy="132.6" r="0.85" fill="#ff3030"/>
<circle cx="509.6" cy="129.54" r="0.85" fill="#ff3030"/>
<circle cx="510.33" cy="126.11" r="0.85" fill="#ff3030"/>
<circle cx="511.05" cy="120.61" r="0.85" fill="#ff3030"/>
<circle cx="511.77" cy="114.62" r="0.85" fill="#ff3030"/>
<circle cx="512.5" cy="109.61" r="0.85" fill="#ff3030"/>
<circle cx="513.22" cy="108.38" r="0.85" fill="#ff3030"/>
<circle cx="513.94" cy="106.31" r="0.85" fill="#ff3030"/>
<circle cx="514.67" cy="104.35" r="0.85" fill="#ff3030"/>
<circle cx="515.39" cy="103.13" r="0.85" fill="#ff3030"/>
<circle cx="516.11" cy="100.68" r="0.85" fill="#ff3030"/>
<circle cx="516.84" cy="98.24" r="0.85" fill="#ff3030"/>
<circle cx="517.56" cy="96.28" r="0.85" fill="#ff3030"/>
<circle cx="518.29" cy="95.18" r="0.85" fill="#ff3030"/>
<circle cx="519.01" cy="93.35" r="0.85" fill="#ff3030"/>
<circle cx="519.73" cy="92" r="0.85" fill="#ff3030"/>
<circle cx="521.9" cy="87.72" r="0.85" fill="#ff3030"/>
<circle cx="524.07" cy="83.32" r="0.85" fill="#ff3030"/>
<circle cx="526.25" cy="79.77" r="0.85" fill="#ff3030"/>
<circle cx="528.42" cy="76.72" r="0.85" fill="#ff3030"/>
<circle cx="530.59" cy="73.66" r="0.85" fill="#ff3030"/>
<circle cx="532.76" cy="70.24" r="0.85" fill="#ff3030"/>
<circle cx="534.93" cy="67.3" r="0.85" fill="#ff3030"/>
<circle cx="537.1" cy="65.22" r="0.85" fill="#ff3030"/>
<circle cx="539.27" cy="62.78" r="0.85" fill="#ff3030"/>
<circle cx="541.29" cy="60.61" r="0.85" fill="#ff3030"/>
<circle cx="543.51" cy="58.53" r="0.85" fill="#ff3030"/>
<circle cx="545.67" cy="56.8" r="0.85" fill="#ff3030"/>
<circle cx="547.9" cy="54.89" r="0.85" fill="#ff3030"/>
<circle cx="550.05" cy="52.98" r="0.85" fill="#ff3030"/>
<circle cx="552.27" cy="51.3" r="0.85" fill="#ff3030"/>
<circle cx="554.43" cy="49.39" r="0.85" fill="#ff3030"/>
<circle cx="556.65" cy="48.04" r="0.85" fill="#ff3030"/>
<circle cx="558.81" cy="46.36" r="0.85" fill="#ff3030"/>
<circle cx="561.04" cy="45.06" r="0.85" fill="#ff3030"/>
<circle cx="563.26" cy="43.71" r="0.85" fill="#ff3030"/>
<circle cx="565.42" cy="42.32" r="0.85" fill="#ff3030"/>
<circle cx="568.29" cy="40.57" r="0.85" fill="#ff3030"/>
<circle cx="570.58" cy="39.51" r="0.85" fill="#ff3030"/>
<circle cx="572.74" cy="38.45" r="0.85" fill="#ff3030"/>
<circle cx="574.97" cy="37.15" r="0.85" fill="#ff3030"/>
<circle cx="576.4" cy="36.32" r="0.85" fill="#ff3030"/>
<circle cx="579.29" cy="34.62" r="0.85" fill="#ff3030"/>
<circle cx="581.6" cy="33.54" r="0.85" fill="#ff3030"/>
<circle cx="584.35" cy="32.4" r="0.85" fill="#ff3030"/>
<circle cx="586.6" cy="31.22" r="0.85" fill="#ff3030"/>
<circle cx="588.77" cy="30.36" r="0.85" fill="#ff3030"/>
<circle cx="591.23" cy="29.46" r="0.85" fill="#ff3030"/>
<circle cx="593.62" cy="28.55" r="0.85" fill="#ff3030"/>
<circle cx="596" cy="27.59" r="0.85" fill="#ff3030"/>
<circle cx="598.32" cy="26.85" r="0.85" fill="#ff3030"/>
<circle cx="600.49" cy="26.17" r="0.85" fill="#ff3030"/>
<circle cx="602.59" cy="25.89" r="0.85" fill="#ff3030"/>
<circle cx="604.9" cy="24.53" r="0.85" fill="#ff3030"/>
<circle cx="607.22" cy="23.91" r="0.85" fill="#ff3030"/>
<circle cx="609.25" cy="23.22" r="0.85" fill="#ff3030"/>
<circle cx="611.42" cy="22.55" r="0.85" fill="#ff3030"/>
<circle cx="612.86" cy="22.04" r="0.85" fill="#ff3030"/>
<circle cx="615.61" cy="21.36" r="0.85" fill="#ff3030"/>
<circle cx="617.28" cy="20.9" r="0.85" fill="#ff3030"/>
<circle cx="620.03" cy="19.95" r="0.85" fill="#ff3030"/>
<circle cx="622.2" cy="19.6" r="0.85" fill="#ff3030"/>
<circle cx="624.52" cy="18.87" r="0.85" fill="#ff3030"/>
<circle cx="626.83" cy="18.29" r="0.85" fill="#ff3030"/>
<circle cx="628.93" cy="17.79" r="0.85" fill="#ff3030"/>
<circle cx="631.1" cy="17.22" r="0.85" fill="#ff3030"/>
<circle cx="633.27" cy="16.77" r="0.85" fill="#ff3030"/>
<circle cx="635.44" cy="16.31" r="0.85" fill="#ff3030"/>
<circle cx="637.76" cy="15.86" r="0.85" fill="#ff3030"/>
<circle cx="639.78" cy="15.35" r="0.85" fill="#ff3030"/>
<circle cx="641.95" cy="14.85" r="0.85" fill="#ff3030"/>
<circle cx="644.34" cy="14.44" r="0.85" fill="#ff3030"/>
<circle cx="647.02" cy="13.71" r="0.85" fill="#ff3030"/>
<circle cx="649.26" cy="13.15" r="0.85" fill="#ff3030"/>
<line x1="497.3" y1="144.7" x2="656.5" y2="144.7" stroke="#000" stroke-width="1" stroke-linecap="square"/>
<line x1="497.3" y1="10.2" x2="497.3" y2="144.7" stroke="#000" stroke-width="1" stroke-linecap="square"/>
<line x1="497.3" y1="10.2" x2="656.5" y2="10.2" stroke="#000" stroke-width="1" stroke-linecap="square"/>
<line x1="656.5" y1="10.2" x2="656.5" y2="144.7" stroke="#ff0000" stroke-width="1" stroke-linecap="square"/>
<text x="493.3" y="147.22" font-size="7" font-weight="bold" text-anchor="end">260</text>
<text x="493.3" y="134.99" font-size="7" font-weight="bold" text-anchor="end">270</text>
<text x="493.3" y="122.77" font-size="7" font-weight="bold" text-anchor="end">280</text>
<text x="493.3" y="110.54" font-size="7" font-weight="bold" text-anchor="end">290</text>
<text x="493.3" y="98.31" font-size="7" font-weight="bold" text-anchor="end">300</text>
<text x="493.3" y="86.08" font-size="7" font-weight="bold" text-anchor="end">310</text>
<text x="493.3" y="73.86" font-size="7" font-weight="bold" text-anchor="end">320</text>
<text x="493.3" y="61.63" font-size="7" font-weight="bold" text-anchor="end">330</text>
<text x="493.3" y="49.4" font-size="7" font-weight="bold" text-anchor="end">340</text>
<text x="493.3" y="37.17" font-size="7" font-weight="bold" text-anchor="end">350</text>
<text x="493.3" y="24.95" font-size="7" font-weight="bold" text-anchor="end">360</text>
<text x="493.3" y="12.72" font-size="7" font-weight="bold" text-anchor="end">370</text>
<text x="660.3" y="147.22" font-size="7" font-weight="bold" fill="#ff0000">600</text>
<text x="660.3" y="134.99" font-size="7" font-weight="bold" fill="#ff0000">610</text>
<text x="660.3" y="122.77" font-size="7" font-weight="bold" fill="#ff0000">620</text>
<text x="660.3" y="110.54" font-size="7" font-weight="bold" fill="#ff0000">630</text>
<text x="660.3" y="98.31" font-size="7" font-weight="bold" fill="#ff0000">640</text>
<text x="660.3" y="86.08" font-size="7" font-weight="bold" fill="#ff0000">650</text>
<text x="660.3" y="73.86" font-size="7" font-weight="bold" fill="#ff0000">660</text>
<text x="660.3" y="61.63" font-size="7" font-weight="bold" fill="#ff0000">670</text>
<text x="660.3" y="49.4" font-size="7" font-weight="bold" fill="#ff0000">680</text>
<text x="660.3" y="37.17" font-size="7" font-weight="bold" fill="#ff0000">690</text>
<text x="660.3" y="24.95" font-size="7" font-weight="bold" fill="#ff0000">700</text>
<text x="660.3" y="12.72" font-size="7" font-weight="bold" fill="#ff0000">710</text>
<text x="507.44" y="150.5" font-size="7" font-weight="bold" text-anchor="end" dominant-baseline="central" transform="rotate(-45 507.44 150.5)">0</text>
<text x="521.91" y="150.5" font-size="7" font-weight="bold" text-anchor="end" dominant-baseline="central" transform="rotate(-45 521.91 150.5)">2</text>
<text x="536.38" y="150.5" font-size="7" font-weight="bold" text-anchor="end" dominant-baseline="central" transform="rotate(-45 536.38 150.5)">4</text>
<text x="550.85" y="150.5" font-size="7" font-weight="bold" text-anchor="end" dominant-baseline="central" transform="rotate(-45 550.85 150.5)">6</text>
<text x="565.33" y="150.5" font-size="7" font-weight="bold" text-anchor="end" dominant-baseline="central" transform="rotate(-45 565.33 150.5)">8</text>
<text x="579.8" y="150.5" font-size="7" font-weight="bold" text-anchor="end" dominant-baseline="central" transform="rotate(-45 579.8 150.5)">10</text>
<text x="594.27" y="150.5" font-size="7" font-weight="bold" text-anchor="end" dominant-baseline="central" transform="rotate(-45 594.27 150.5)">12</text>
<text x="608.75" y="150.5" font-size="7" font-weight="bold" text-anchor="end" dominant-baseline="central" transform="rotate(-45 608.75 150.5)">14</text>
<text x="623.22" y="150.5" font-size="7" font-weight="bold" text-anchor="end" dominant-baseline="central" transform="rotate(-45 623.22 150.5)">16</text>
<text x="637.69" y="150.5" font-size="7" font-weight="bold" text-anchor="end" dominant-baseline="central" transform="rotate(-45 637.69 150.5)">18</text>
<text x="652.16" y="150.5" font-size="7" font-weight="bold" text-anchor="end" dominant-baseline="central" transform="rotate(-45 652.16 150.5)">20</text>
<text x="475" y="77.5" font-size="7.2" font-weight="bold" text-anchor="middle" transform="rotate(-90 475 77.5)">Capacitance (pF)</text>
<text x="684" y="77.5" font-size="7.2" font-weight="bold" fill="#ff0000" text-anchor="middle" transform="rotate(-90 684 77.5)">Capacitance (pF)</text>
<text x="576.8" y="167" font-size="7.2" font-weight="bold" text-anchor="middle">Pressure (MPa)</text>
<rect x="500.3" y="15.3" width="56.9" height="26.3" fill="#fff" stroke="#555" stroke-width="0.8"/>
<line x1="500.8" y1="20.4" x2="517.3" y2="20.4" stroke="#000" stroke-width="0.9" stroke-dasharray="2.2,1.6"/>
<text x="520.3" y="22.6" font-size="6.1" font-weight="bold" fill="#222" textLength="29.8" lengthAdjust="spacingAndGlyphs">Simulation</text>
<line x1="500.8" y1="28.9" x2="517.3" y2="28.9" stroke="#ff0000" stroke-width="0.9"/>
<circle cx="509.8" cy="28.9" r="1" fill="#ff0000"/>
<text x="520.3" y="31.1" font-size="6.1" font-weight="bold" fill="#222" textLength="20.6" lengthAdjust="spacingAndGlyphs">Testing</text>
<line x1="500.8" y1="37.7" x2="517.3" y2="37.7" stroke="#0000ff" stroke-width="0.9"/>
<text x="520.3" y="39.9" font-size="6.1" font-weight="bold" fill="#0000ff" textLength="35.2" lengthAdjust="spacingAndGlyphs">Fitting curve</text>
<text x="542.3" y="77.2" font-size="5.6" font-weight="bold" fill="#0000ff" textLength="100.7" lengthAdjust="spacingAndGlyphs"><tspan font-style="italic">y</tspan> = 0.017<tspan font-style="italic">x</tspan><tspan font-size="3.6" dy="-2">3</tspan><tspan dy="2"> - 0.75</tspan><tspan font-style="italic">x</tspan><tspan font-size="3.6" dy="-2">2</tspan><tspan dy="2"> + 12.95</tspan><tspan font-style="italic">x</tspan> + 276.34</text>
<text x="540.9" y="86.2" font-size="5.6" font-weight="bold" fill="#0000ff" textLength="30.3" lengthAdjust="spacingAndGlyphs"><tspan font-style="italic">R</tspan><tspan font-size="3.6" dy="-2">2</tspan><tspan dy="2"> = 0.9979</tspan></text>
<text x="534.6" y="103.7" font-size="6.3" font-weight="bold" fill="#0000ff" text-anchor="middle" textLength="24.8" lengthAdjust="spacingAndGlyphs">1.07 MPa</text>
<text x="534.6" y="110.5" font-size="6.3" font-weight="bold" fill="#0000ff" text-anchor="middle" textLength="31.7" lengthAdjust="spacingAndGlyphs">(Collapsed)</text>
<text x="469" y="10.4" font-size="14.5" font-weight="bold">c</text>
<line x1="43.57" y1="193.5" x2="43.57" y2="328.2" stroke="#efefef" stroke-width="0.5"/>
<line x1="50.94" y1="193.5" x2="50.94" y2="328.2" stroke="#efefef" stroke-width="0.5"/>
<line x1="58.3" y1="193.5" x2="58.3" y2="328.2" stroke="#efefef" stroke-width="0.5"/>
<line x1="65.67" y1="193.5" x2="65.67" y2="328.2" stroke="#efefef" stroke-width="0.5"/>
<line x1="73.04" y1="193.5" x2="73.04" y2="328.2" stroke="#efefef" stroke-width="0.5"/>
<line x1="80.41" y1="193.5" x2="80.41" y2="328.2" stroke="#efefef" stroke-width="0.5"/>
<line x1="87.78" y1="193.5" x2="87.78" y2="328.2" stroke="#efefef" stroke-width="0.5"/>
<line x1="95.15" y1="193.5" x2="95.15" y2="328.2" stroke="#efefef" stroke-width="0.5"/>
<line x1="102.51" y1="193.5" x2="102.51" y2="328.2" stroke="#efefef" stroke-width="0.5"/>
<line x1="109.88" y1="193.5" x2="109.88" y2="328.2" stroke="#efefef" stroke-width="0.5"/>
<line x1="117.25" y1="193.5" x2="117.25" y2="328.2" stroke="#efefef" stroke-width="0.5"/>
<line x1="124.62" y1="193.5" x2="124.62" y2="328.2" stroke="#efefef" stroke-width="0.5"/>
<line x1="131.99" y1="193.5" x2="131.99" y2="328.2" stroke="#efefef" stroke-width="0.5"/>
<line x1="139.35" y1="193.5" x2="139.35" y2="328.2" stroke="#efefef" stroke-width="0.5"/>
<line x1="146.72" y1="193.5" x2="146.72" y2="328.2" stroke="#efefef" stroke-width="0.5"/>
<line x1="154.09" y1="193.5" x2="154.09" y2="328.2" stroke="#efefef" stroke-width="0.5"/>
<line x1="161.46" y1="193.5" x2="161.46" y2="328.2" stroke="#efefef" stroke-width="0.5"/>
<line x1="168.83" y1="193.5" x2="168.83" y2="328.2" stroke="#efefef" stroke-width="0.5"/>
<line x1="176.2" y1="193.5" x2="176.2" y2="328.2" stroke="#efefef" stroke-width="0.5"/>
<line x1="183.56" y1="193.5" x2="183.56" y2="328.2" stroke="#efefef" stroke-width="0.5"/>
<line x1="190.93" y1="193.5" x2="190.93" y2="328.2" stroke="#efefef" stroke-width="0.5"/>
<line x1="36.2" y1="322.08" x2="198.3" y2="322.08" stroke="#efefef" stroke-width="0.5"/>
<line x1="36.2" y1="309.83" x2="198.3" y2="309.83" stroke="#efefef" stroke-width="0.5"/>
<line x1="36.2" y1="297.59" x2="198.3" y2="297.59" stroke="#efefef" stroke-width="0.5"/>
<line x1="36.2" y1="285.34" x2="198.3" y2="285.34" stroke="#efefef" stroke-width="0.5"/>
<line x1="36.2" y1="273.1" x2="198.3" y2="273.1" stroke="#efefef" stroke-width="0.5"/>
<line x1="36.2" y1="260.85" x2="198.3" y2="260.85" stroke="#efefef" stroke-width="0.5"/>
<line x1="36.2" y1="248.6" x2="198.3" y2="248.6" stroke="#efefef" stroke-width="0.5"/>
<line x1="36.2" y1="236.36" x2="198.3" y2="236.36" stroke="#efefef" stroke-width="0.5"/>
<line x1="36.2" y1="224.11" x2="198.3" y2="224.11" stroke="#efefef" stroke-width="0.5"/>
<line x1="36.2" y1="211.87" x2="198.3" y2="211.87" stroke="#efefef" stroke-width="0.5"/>
<line x1="36.2" y1="199.62" x2="198.3" y2="199.62" stroke="#efefef" stroke-width="0.5"/>
<line x1="43.57" y1="193.5" x2="43.57" y2="328.2" stroke="#d9d9d9" stroke-width="0.7"/>
<line x1="58.3" y1="193.5" x2="58.3" y2="328.2" stroke="#d9d9d9" stroke-width="0.7"/>
<line x1="73.04" y1="193.5" x2="73.04" y2="328.2" stroke="#d9d9d9" stroke-width="0.7"/>
<line x1="87.78" y1="193.5" x2="87.78" y2="328.2" stroke="#d9d9d9" stroke-width="0.7"/>
<line x1="102.51" y1="193.5" x2="102.51" y2="328.2" stroke="#d9d9d9" stroke-width="0.7"/>
<line x1="117.25" y1="193.5" x2="117.25" y2="328.2" stroke="#d9d9d9" stroke-width="0.7"/>
<line x1="131.99" y1="193.5" x2="131.99" y2="328.2" stroke="#d9d9d9" stroke-width="0.7"/>
<line x1="146.72" y1="193.5" x2="146.72" y2="328.2" stroke="#d9d9d9" stroke-width="0.7"/>
<line x1="161.46" y1="193.5" x2="161.46" y2="328.2" stroke="#d9d9d9" stroke-width="0.7"/>
<line x1="176.2" y1="193.5" x2="176.2" y2="328.2" stroke="#d9d9d9" stroke-width="0.7"/>
<line x1="190.93" y1="193.5" x2="190.93" y2="328.2" stroke="#d9d9d9" stroke-width="0.7"/>
<line x1="36.2" y1="315.95" x2="198.3" y2="315.95" stroke="#d9d9d9" stroke-width="0.7"/>
<line x1="36.2" y1="303.71" x2="198.3" y2="303.71" stroke="#d9d9d9" stroke-width="0.7"/>
<line x1="36.2" y1="291.46" x2="198.3" y2="291.46" stroke="#d9d9d9" stroke-width="0.7"/>
<line x1="36.2" y1="279.22" x2="198.3" y2="279.22" stroke="#d9d9d9" stroke-width="0.7"/>
<line x1="36.2" y1="266.97" x2="198.3" y2="266.97" stroke="#d9d9d9" stroke-width="0.7"/>
<line x1="36.2" y1="254.73" x2="198.3" y2="254.73" stroke="#d9d9d9" stroke-width="0.7"/>
<line x1="36.2" y1="242.48" x2="198.3" y2="242.48" stroke="#d9d9d9" stroke-width="0.7"/>
<line x1="36.2" y1="230.24" x2="198.3" y2="230.24" stroke="#d9d9d9" stroke-width="0.7"/>
<line x1="36.2" y1="217.99" x2="198.3" y2="217.99" stroke="#d9d9d9" stroke-width="0.7"/>
<line x1="36.2" y1="205.75" x2="198.3" y2="205.75" stroke="#d9d9d9" stroke-width="0.7"/>
<line x1="43.57" y1="328.2" x2="43.57" y2="326" stroke="#000" stroke-width="0.8"/>
<line x1="43.57" y1="193.5" x2="43.57" y2="195.7" stroke="#000" stroke-width="0.8"/>
<line x1="58.3" y1="328.2" x2="58.3" y2="326" stroke="#000" stroke-width="0.8"/>
<line x1="58.3" y1="193.5" x2="58.3" y2="195.7" stroke="#000" stroke-width="0.8"/>
<line x1="73.04" y1="328.2" x2="73.04" y2="326" stroke="#000" stroke-width="0.8"/>
<line x1="73.04" y1="193.5" x2="73.04" y2="195.7" stroke="#000" stroke-width="0.8"/>
<line x1="87.78" y1="328.2" x2="87.78" y2="326" stroke="#000" stroke-width="0.8"/>
<line x1="87.78" y1="193.5" x2="87.78" y2="195.7" stroke="#000" stroke-width="0.8"/>
<line x1="102.51" y1="328.2" x2="102.51" y2="326" stroke="#000" stroke-width="0.8"/>
<line x1="102.51" y1="193.5" x2="102.51" y2="195.7" stroke="#000" stroke-width="0.8"/>
<line x1="117.25" y1="328.2" x2="117.25" y2="326" stroke="#000" stroke-width="0.8"/>
<line x1="117.25" y1="193.5" x2="117.25" y2="195.7" stroke="#000" stroke-width="0.8"/>
<line x1="131.99" y1="328.2" x2="131.99" y2="326" stroke="#000" stroke-width="0.8"/>
<line x1="131.99" y1="193.5" x2="131.99" y2="195.7" stroke="#000" stroke-width="0.8"/>
<line x1="146.72" y1="328.2" x2="146.72" y2="326" stroke="#000" stroke-width="0.8"/>
<line x1="146.72" y1="193.5" x2="146.72" y2="195.7" stroke="#000" stroke-width="0.8"/>
<line x1="161.46" y1="328.2" x2="161.46" y2="326" stroke="#000" stroke-width="0.8"/>
<line x1="161.46" y1="193.5" x2="161.46" y2="195.7" stroke="#000" stroke-width="0.8"/>
<line x1="176.2" y1="328.2" x2="176.2" y2="326" stroke="#000" stroke-width="0.8"/>
<line x1="176.2" y1="193.5" x2="176.2" y2="195.7" stroke="#000" stroke-width="0.8"/>
<line x1="190.93" y1="328.2" x2="190.93" y2="326" stroke="#000" stroke-width="0.8"/>
<line x1="190.93" y1="193.5" x2="190.93" y2="195.7" stroke="#000" stroke-width="0.8"/>
<line x1="36.2" y1="328.2" x2="36.2" y2="326.9" stroke="#000" stroke-width="0.8"/>
<line x1="36.2" y1="193.5" x2="36.2" y2="194.8" stroke="#000" stroke-width="0.8"/>
<line x1="50.94" y1="328.2" x2="50.94" y2="326.9" stroke="#000" stroke-width="0.8"/>
<line x1="50.94" y1="193.5" x2="50.94" y2="194.8" stroke="#000" stroke-width="0.8"/>
<line x1="65.67" y1="328.2" x2="65.67" y2="326.9" stroke="#000" stroke-width="0.8"/>
<line x1="65.67" y1="193.5" x2="65.67" y2="194.8" stroke="#000" stroke-width="0.8"/>
<line x1="80.41" y1="328.2" x2="80.41" y2="326.9" stroke="#000" stroke-width="0.8"/>
<line x1="80.41" y1="193.5" x2="80.41" y2="194.8" stroke="#000" stroke-width="0.8"/>
<line x1="95.15" y1="328.2" x2="95.15" y2="326.9" stroke="#000" stroke-width="0.8"/>
<line x1="95.15" y1="193.5" x2="95.15" y2="194.8" stroke="#000" stroke-width="0.8"/>
<line x1="109.88" y1="328.2" x2="109.88" y2="326.9" stroke="#000" stroke-width="0.8"/>
<line x1="109.88" y1="193.5" x2="109.88" y2="194.8" stroke="#000" stroke-width="0.8"/>
<line x1="124.62" y1="328.2" x2="124.62" y2="326.9" stroke="#000" stroke-width="0.8"/>
<line x1="124.62" y1="193.5" x2="124.62" y2="194.8" stroke="#000" stroke-width="0.8"/>
<line x1="139.35" y1="328.2" x2="139.35" y2="326.9" stroke="#000" stroke-width="0.8"/>
<line x1="139.35" y1="193.5" x2="139.35" y2="194.8" stroke="#000" stroke-width="0.8"/>
<line x1="154.09" y1="328.2" x2="154.09" y2="326.9" stroke="#000" stroke-width="0.8"/>
<line x1="154.09" y1="193.5" x2="154.09" y2="194.8" stroke="#000" stroke-width="0.8"/>
<line x1="168.83" y1="328.2" x2="168.83" y2="326.9" stroke="#000" stroke-width="0.8"/>
<line x1="168.83" y1="193.5" x2="168.83" y2="194.8" stroke="#000" stroke-width="0.8"/>
<line x1="183.56" y1="328.2" x2="183.56" y2="326.9" stroke="#000" stroke-width="0.8"/>
<line x1="183.56" y1="193.5" x2="183.56" y2="194.8" stroke="#000" stroke-width="0.8"/>
<line x1="198.3" y1="328.2" x2="198.3" y2="326.9" stroke="#000" stroke-width="0.8"/>
<line x1="198.3" y1="193.5" x2="198.3" y2="194.8" stroke="#000" stroke-width="0.8"/>
<line x1="36.2" y1="328.2" x2="38.4" y2="328.2" stroke="#000" stroke-width="0.8"/>
<line x1="36.2" y1="315.95" x2="38.4" y2="315.95" stroke="#000" stroke-width="0.8"/>
<line x1="36.2" y1="303.71" x2="38.4" y2="303.71" stroke="#000" stroke-width="0.8"/>
<line x1="36.2" y1="291.46" x2="38.4" y2="291.46" stroke="#000" stroke-width="0.8"/>
<line x1="36.2" y1="279.22" x2="38.4" y2="279.22" stroke="#000" stroke-width="0.8"/>
<line x1="36.2" y1="266.97" x2="38.4" y2="266.97" stroke="#000" stroke-width="0.8"/>
<line x1="36.2" y1="254.73" x2="38.4" y2="254.73" stroke="#000" stroke-width="0.8"/>
<line x1="36.2" y1="242.48" x2="38.4" y2="242.48" stroke="#000" stroke-width="0.8"/>
<line x1="36.2" y1="230.24" x2="38.4" y2="230.24" stroke="#000" stroke-width="0.8"/>
<line x1="36.2" y1="217.99" x2="38.4" y2="217.99" stroke="#000" stroke-width="0.8"/>
<line x1="36.2" y1="205.75" x2="38.4" y2="205.75" stroke="#000" stroke-width="0.8"/>
<line x1="36.2" y1="193.5" x2="38.4" y2="193.5" stroke="#000" stroke-width="0.8"/>
<line x1="36.2" y1="322.08" x2="37.5" y2="322.08" stroke="#000" stroke-width="0.8"/>
<line x1="36.2" y1="309.83" x2="37.5" y2="309.83" stroke="#000" stroke-width="0.8"/>
<line x1="36.2" y1="297.59" x2="37.5" y2="297.59" stroke="#000" stroke-width="0.8"/>
<line x1="36.2" y1="285.34" x2="37.5" y2="285.34" stroke="#000" stroke-width="0.8"/>
<line x1="36.2" y1="273.1" x2="37.5" y2="273.1" stroke="#000" stroke-width="0.8"/>
<line x1="36.2" y1="260.85" x2="37.5" y2="260.85" stroke="#000" stroke-width="0.8"/>
<line x1="36.2" y1="248.6" x2="37.5" y2="248.6" stroke="#000" stroke-width="0.8"/>
<line x1="36.2" y1="236.36" x2="37.5" y2="236.36" stroke="#000" stroke-width="0.8"/>
<line x1="36.2" y1="224.11" x2="37.5" y2="224.11" stroke="#000" stroke-width="0.8"/>
<line x1="36.2" y1="211.87" x2="37.5" y2="211.87" stroke="#000" stroke-width="0.8"/>
<line x1="36.2" y1="199.62" x2="37.5" y2="199.62" stroke="#000" stroke-width="0.8"/>
<line x1="198.3" y1="328.2" x2="196.1" y2="328.2" stroke="#ff0000" stroke-width="0.8"/>
<line x1="198.3" y1="314.73" x2="196.1" y2="314.73" stroke="#ff0000" stroke-width="0.8"/>
<line x1="198.3" y1="301.26" x2="196.1" y2="301.26" stroke="#ff0000" stroke-width="0.8"/>
<line x1="198.3" y1="287.79" x2="196.1" y2="287.79" stroke="#ff0000" stroke-width="0.8"/>
<line x1="198.3" y1="274.32" x2="196.1" y2="274.32" stroke="#ff0000" stroke-width="0.8"/>
<line x1="198.3" y1="260.85" x2="196.1" y2="260.85" stroke="#ff0000" stroke-width="0.8"/>
<line x1="198.3" y1="247.38" x2="196.1" y2="247.38" stroke="#ff0000" stroke-width="0.8"/>
<line x1="198.3" y1="233.91" x2="196.1" y2="233.91" stroke="#ff0000" stroke-width="0.8"/>
<line x1="198.3" y1="220.44" x2="196.1" y2="220.44" stroke="#ff0000" stroke-width="0.8"/>
<line x1="198.3" y1="206.97" x2="196.1" y2="206.97" stroke="#ff0000" stroke-width="0.8"/>
<line x1="198.3" y1="193.5" x2="196.1" y2="193.5" stroke="#ff0000" stroke-width="0.8"/>
<line x1="198.3" y1="321.46" x2="197" y2="321.46" stroke="#ff0000" stroke-width="0.8"/>
<line x1="198.3" y1="308" x2="197" y2="308" stroke="#ff0000" stroke-width="0.8"/>
<line x1="198.3" y1="294.52" x2="197" y2="294.52" stroke="#ff0000" stroke-width="0.8"/>
<line x1="198.3" y1="281.06" x2="197" y2="281.06" stroke="#ff0000" stroke-width="0.8"/>
<line x1="198.3" y1="267.58" x2="197" y2="267.58" stroke="#ff0000" stroke-width="0.8"/>
<line x1="198.3" y1="254.12" x2="197" y2="254.12" stroke="#ff0000" stroke-width="0.8"/>
<line x1="198.3" y1="240.64" x2="197" y2="240.64" stroke="#ff0000" stroke-width="0.8"/>
<line x1="198.3" y1="227.17" x2="197" y2="227.17" stroke="#ff0000" stroke-width="0.8"/>
<line x1="198.3" y1="213.7" x2="197" y2="213.7" stroke="#ff0000" stroke-width="0.8"/>
<line x1="198.3" y1="200.23" x2="197" y2="200.23" stroke="#ff0000" stroke-width="0.8"/>
<line x1="51.45" y1="193.5" x2="51.45" y2="328.2" stroke="#0000ff" stroke-width="1" stroke-dasharray="2.2,1.6"/>
<polyline points="43.57,325.87 44.31,324.53 45.04,323.42 45.78,322.08 46.52,320.36 47.25,318.65 47.99,316.08 48.73,313.02 49.46,309.59 50.2,304.08 50.94,298.08 51.67,293.06 52.41,291.83 53.15,289.75 53.88,287.79 54.62,286.57 55.36,284.12 56.09,281.67 56.83,279.71 57.57,278.61 58.3,276.77 59.04,275.42 61.25,271.14 63.46,266.73 65.67,263.18 67.88,260.12 70.09,257.05 72.3,253.63 74.51,250.69 76.73,248.6 78.94,246.16 80.99,243.99 83.25,241.91 85.45,240.17 87.72,238.26 89.91,236.35 92.18,234.66 94.37,232.75 96.63,231.4 98.83,229.71 101.1,228.41 103.36,227.06 105.56,225.67 108.48,223.92 110.82,222.85 113.01,221.79 115.28,220.49 116.74,219.66 119.68,217.95 122.04,216.88 124.84,215.74 127.12,214.55 129.33,213.69 131.84,212.79 134.27,211.88 136.7,210.91 139.06,210.18 141.27,209.49 143.41,209.21 145.76,207.85 148.12,207.23 150.19,206.54 152.4,205.87 153.87,205.35 156.67,204.68 158.36,204.21 161.16,203.26 163.37,202.92 165.73,202.18 168.09,201.61 170.23,201.1 172.44,200.53 174.65,200.08 176.86,199.62 179.22,199.17 181.28,198.66 183.49,198.15 185.92,197.75 188.65,197.01 190.93,196.45" fill="none" stroke="#ff00ff" stroke-width="1.1" stroke-linejoin="round" opacity="0.55"/>
<rect x="50.15" y="289.55" width="6" height="1.3" fill="#ff00ff" opacity="0.6"/>
<rect x="52.36" y="283.92" width="6" height="1.3" fill="#ff00ff" opacity="0.6"/>
<rect x="54.57" y="278.41" width="6" height="1.3" fill="#ff00ff" opacity="0.6"/>
<rect x="58.25" y="270.94" width="6" height="1.3" fill="#ff00ff" opacity="0.6"/>
<rect x="64.88" y="259.92" width="6" height="1.3" fill="#ff00ff" opacity="0.6"/>
<rect x="71.51" y="250.49" width="6" height="1.3" fill="#ff00ff" opacity="0.6"/>
<rect x="77.99" y="243.79" width="6" height="1.3" fill="#ff00ff" opacity="0.6"/>
<rect x="84.72" y="238.06" width="6" height="1.3" fill="#ff00ff" opacity="0.6"/>
<rect x="91.37" y="232.55" width="6" height="1.3" fill="#ff00ff" opacity="0.6"/>
<rect x="98.1" y="228.21" width="6" height="1.3" fill="#ff00ff" opacity="0.6"/>
<rect x="105.48" y="223.72" width="6" height="1.3" fill="#ff00ff" opacity="0.6"/>
<rect x="112.28" y="220.29" width="6" height="1.3" fill="#ff00ff" opacity="0.6"/>
<rect x="119.04" y="216.68" width="6" height="1.3" fill="#ff00ff" opacity="0.6"/>
<rect x="126.33" y="213.49" width="6" height="1.3" fill="#ff00ff" opacity="0.6"/>
<rect x="133.7" y="210.71" width="6" height="1.3" fill="#ff00ff" opacity="0.6"/>
<rect x="140.41" y="209.01" width="6" height="1.3" fill="#ff00ff" opacity="0.6"/>
<rect x="147.19" y="206.34" width="6" height="1.3" fill="#ff00ff" opacity="0.6"/>
<rect x="153.67" y="204.48" width="6" height="1.3" fill="#ff00ff" opacity="0.6"/>
<rect x="160.37" y="202.72" width="6" height="1.3" fill="#ff00ff" opacity="0.6"/>
<rect x="167.23" y="200.9" width="6" height="1.3" fill="#ff00ff" opacity="0.6"/>
<rect x="173.86" y="199.42" width="6" height="1.3" fill="#ff00ff" opacity="0.6"/>
<rect x="180.49" y="197.95" width="6" height="1.3" fill="#ff00ff" opacity="0.6"/>
<rect x="187.93" y="196.25" width="6" height="1.3" fill="#ff00ff" opacity="0.6"/>
<polyline points="43.57,325.87 44.31,324.53 45.04,323.42 45.78,322.08 46.52,320.36 47.25,318.65 47.99,316.08 48.73,313.02 49.46,309.59 50.2,304.08 50.94,298.08 51.67,293.06 52.41,291.83 53.15,289.75 53.88,287.79 54.62,286.57 55.36,284.12 56.09,281.67 56.83,279.71 57.57,278.61 58.3,276.77 59.04,275.42 61.25,271.14 63.46,266.73 65.67,263.18 67.88,260.12 70.09,257.05 72.3,253.63 74.51,250.69 76.73,248.6 78.94,246.16 80.99,243.99 83.25,241.91 85.45,240.17 87.72,238.26 89.91,236.35 92.18,234.66 94.37,232.75 96.63,231.4 98.83,229.71 101.1,228.41 103.36,227.06 105.56,225.67 108.48,223.92 110.82,222.85 113.01,221.79 115.28,220.49 116.74,219.66 119.68,217.95 122.04,216.88 124.84,215.74 127.12,214.55 129.33,213.69 131.84,212.79 134.27,211.88 136.7,210.91 139.06,210.18 141.27,209.49 143.41,209.21 145.76,207.85 148.12,207.23 150.19,206.54 152.4,205.87 153.87,205.35 156.67,204.68 158.36,204.21 161.16,203.26 163.37,202.92 165.73,202.18 168.09,201.61 170.23,201.1 172.44,200.53 174.65,200.08 176.86,199.62 179.22,199.17 181.28,198.66 183.49,198.15 185.92,197.75 188.65,197.01 190.93,196.45" fill="none" stroke="#000" stroke-width="0.6" stroke-linejoin="round" stroke-dasharray="0.6,0.6" opacity="0.7"/>
<circle cx="43.57" cy="325.87" r="0.95" fill="#0000ff"/>
<circle cx="44.31" cy="324.53" r="0.95" fill="#0000ff"/>
<circle cx="45.04" cy="323.42" r="0.95" fill="#0000ff"/>
<circle cx="45.78" cy="322.08" r="0.95" fill="#0000ff"/>
<circle cx="46.52" cy="320.36" r="0.95" fill="#0000ff"/>
<circle cx="47.25" cy="318.65" r="0.95" fill="#0000ff"/>
<circle cx="47.99" cy="316.08" r="0.95" fill="#0000ff"/>
<circle cx="48.73" cy="313.02" r="0.95" fill="#0000ff"/>
<circle cx="49.46" cy="309.59" r="0.95" fill="#0000ff"/>
<circle cx="50.2" cy="304.08" r="0.95" fill="#0000ff"/>
<circle cx="50.94" cy="298.08" r="0.95" fill="#0000ff"/>
<circle cx="51.67" cy="293.06" r="0.95" fill="#0000ff"/>
<circle cx="52.41" cy="291.83" r="0.95" fill="#0000ff"/>
<circle cx="53.15" cy="289.75" r="0.95" fill="#0000ff"/>
<circle cx="53.88" cy="287.79" r="0.95" fill="#0000ff"/>
<circle cx="54.62" cy="286.57" r="0.95" fill="#0000ff"/>
<circle cx="55.36" cy="284.12" r="0.95" fill="#0000ff"/>
<circle cx="56.09" cy="281.67" r="0.95" fill="#0000ff"/>
<circle cx="56.83" cy="279.71" r="0.95" fill="#0000ff"/>
<circle cx="57.57" cy="278.61" r="0.95" fill="#0000ff"/>
<circle cx="58.3" cy="276.77" r="0.95" fill="#0000ff"/>
<circle cx="59.04" cy="275.42" r="0.95" fill="#0000ff"/>
<circle cx="61.25" cy="271.14" r="0.95" fill="#0000ff"/>
<circle cx="63.46" cy="266.73" r="0.95" fill="#0000ff"/>
<circle cx="65.67" cy="263.18" r="0.95" fill="#0000ff"/>
<circle cx="67.88" cy="260.12" r="0.95" fill="#0000ff"/>
<circle cx="70.09" cy="257.05" r="0.95" fill="#0000ff"/>
<circle cx="72.3" cy="253.63" r="0.95" fill="#0000ff"/>
<circle cx="74.51" cy="250.69" r="0.95" fill="#0000ff"/>
<circle cx="76.73" cy="248.6" r="0.95" fill="#0000ff"/>
<circle cx="78.94" cy="246.16" r="0.95" fill="#0000ff"/>
<circle cx="80.99" cy="243.99" r="0.95" fill="#0000ff"/>
<circle cx="83.25" cy="241.91" r="0.95" fill="#0000ff"/>
<circle cx="85.45" cy="240.17" r="0.95" fill="#0000ff"/>
<circle cx="87.72" cy="238.26" r="0.95" fill="#0000ff"/>
<circle cx="89.91" cy="236.35" r="0.95" fill="#0000ff"/>
<circle cx="92.18" cy="234.66" r="0.95" fill="#0000ff"/>
<circle cx="94.37" cy="232.75" r="0.95" fill="#0000ff"/>
<circle cx="96.63" cy="231.4" r="0.95" fill="#0000ff"/>
<circle cx="98.83" cy="229.71" r="0.95" fill="#0000ff"/>
<circle cx="101.1" cy="228.41" r="0.95" fill="#0000ff"/>
<circle cx="103.36" cy="227.06" r="0.95" fill="#0000ff"/>
<circle cx="105.56" cy="225.67" r="0.95" fill="#0000ff"/>
<circle cx="108.48" cy="223.92" r="0.95" fill="#0000ff"/>
<circle cx="110.82" cy="222.85" r="0.95" fill="#0000ff"/>
<circle cx="113.01" cy="221.79" r="0.95" fill="#0000ff"/>
<circle cx="115.28" cy="220.49" r="0.95" fill="#0000ff"/>
<circle cx="116.74" cy="219.66" r="0.95" fill="#0000ff"/>
<circle cx="119.68" cy="217.95" r="0.95" fill="#0000ff"/>
<circle cx="122.04" cy="216.88" r="0.95" fill="#0000ff"/>
<circle cx="124.84" cy="215.74" r="0.95" fill="#0000ff"/>
<circle cx="127.12" cy="214.55" r="0.95" fill="#0000ff"/>
<circle cx="129.33" cy="213.69" r="0.95" fill="#0000ff"/>
<circle cx="131.84" cy="212.79" r="0.95" fill="#0000ff"/>
<circle cx="134.27" cy="211.88" r="0.95" fill="#0000ff"/>
<circle cx="136.7" cy="210.91" r="0.95" fill="#0000ff"/>
<circle cx="139.06" cy="210.18" r="0.95" fill="#0000ff"/>
<circle cx="141.27" cy="209.49" r="0.95" fill="#0000ff"/>
<circle cx="143.41" cy="209.21" r="0.95" fill="#0000ff"/>
<circle cx="145.76" cy="207.85" r="0.95" fill="#0000ff"/>
<circle cx="148.12" cy="207.23" r="0.95" fill="#0000ff"/>
<circle cx="150.19" cy="206.54" r="0.95" fill="#0000ff"/>
<circle cx="152.4" cy="205.87" r="0.95" fill="#0000ff"/>
<circle cx="153.87" cy="205.35" r="0.95" fill="#0000ff"/>
<circle cx="156.67" cy="204.68" r="0.95" fill="#0000ff"/>
<circle cx="158.36" cy="204.21" r="0.95" fill="#0000ff"/>
<circle cx="161.16" cy="203.26" r="0.95" fill="#0000ff"/>
<circle cx="163.37" cy="202.92" r="0.95" fill="#0000ff"/>
<circle cx="165.73" cy="202.18" r="0.95" fill="#0000ff"/>
<circle cx="168.09" cy="201.61" r="0.95" fill="#0000ff"/>
<circle cx="170.23" cy="201.1" r="0.95" fill="#0000ff"/>
<circle cx="172.44" cy="200.53" r="0.95" fill="#0000ff"/>
<circle cx="174.65" cy="200.08" r="0.95" fill="#0000ff"/>
<circle cx="176.86" cy="199.62" r="0.95" fill="#0000ff"/>
<circle cx="179.22" cy="199.17" r="0.95" fill="#0000ff"/>
<circle cx="181.28" cy="198.66" r="0.95" fill="#0000ff"/>
<circle cx="183.49" cy="198.15" r="0.95" fill="#0000ff"/>
<circle cx="185.92" cy="197.75" r="0.95" fill="#0000ff"/>
<circle cx="188.65" cy="197.01" r="0.95" fill="#0000ff"/>
<circle cx="190.93" cy="196.45" r="0.95" fill="#0000ff"/>
<polyline points="52.26,284.85 53.08,291.63 53.78,272.94 54.6,269.44 55.18,277.85 56,293.03 56.7,283.1 57.52,272.94 58.34,279.01 59.04,276.45 59.85,277.85 60.79,277.85 63.36,284.85 65.46,283.1 67.8,293.26 70.01,276.09 72.12,270.84 74.22,283.1 76.55,283.1 78.89,284.85 81.11,286.61 83.21,284.85 85.55,291.63 87.88,283.1 89.99,291.63 92.09,286.61 94.31,291.63 96.64,293.26 98.74,273.41 100.96,274.34 103.07,283.1 105.4,293.26 108.09,272.94 110.42,279.6 112.64,279.6 114.74,291.63 116.5,286.61 119.91,293.26 122.24,292.45 125.28,276.33 127.26,283.1 129.6,278.78 131.7,279.95 133.92,278.78 136.84,283.1 139.18,277.85 141.28,284.85 143.61,273.53 145.95,289.88 148.05,281.35 150.04,291.86 152.37,281.35 154.12,278.78 156.81,288.12 158.8,291.86 161.13,293.26 163.47,288.36 165.57,277.03 167.79,277.85 169.89,272.94 172.23,284.85 174.56,281.35 176.9,277.85 179,286.61 180.99,276.33 183.09,284.85 185.42,279.6 188.58,274.34 190.91,277.85" fill="none" stroke="#ff0000" stroke-width="0.6" stroke-linejoin="round"/>
<circle cx="52.26" cy="284.85" r="1.05" fill="#ff0000"/>
<circle cx="53.08" cy="291.63" r="1.05" fill="#ff0000"/>
<circle cx="53.78" cy="272.94" r="1.05" fill="#ff0000"/>
<circle cx="54.6" cy="269.44" r="1.05" fill="#ff0000"/>
<circle cx="55.18" cy="277.85" r="1.05" fill="#ff0000"/>
<circle cx="56" cy="293.03" r="1.05" fill="#ff0000"/>
<circle cx="56.7" cy="283.1" r="1.05" fill="#ff0000"/>
<circle cx="57.52" cy="272.94" r="1.05" fill="#ff0000"/>
<circle cx="58.34" cy="279.01" r="1.05" fill="#ff0000"/>
<circle cx="59.04" cy="276.45" r="1.05" fill="#ff0000"/>
<circle cx="59.85" cy="277.85" r="1.05" fill="#ff0000"/>
<circle cx="60.79" cy="277.85" r="1.05" fill="#ff0000"/>
<circle cx="63.36" cy="284.85" r="1.05" fill="#ff0000"/>
<circle cx="65.46" cy="283.1" r="1.05" fill="#ff0000"/>
<circle cx="67.8" cy="293.26" r="1.05" fill="#ff0000"/>
<circle cx="70.01" cy="276.09" r="1.05" fill="#ff0000"/>
<circle cx="72.12" cy="270.84" r="1.05" fill="#ff0000"/>
<circle cx="74.22" cy="283.1" r="1.05" fill="#ff0000"/>
<circle cx="76.55" cy="283.1" r="1.05" fill="#ff0000"/>
<circle cx="78.89" cy="284.85" r="1.05" fill="#ff0000"/>
<circle cx="81.11" cy="286.61" r="1.05" fill="#ff0000"/>
<circle cx="83.21" cy="284.85" r="1.05" fill="#ff0000"/>
<circle cx="85.55" cy="291.63" r="1.05" fill="#ff0000"/>
<circle cx="87.88" cy="283.1" r="1.05" fill="#ff0000"/>
<circle cx="89.99" cy="291.63" r="1.05" fill="#ff0000"/>
<circle cx="92.09" cy="286.61" r="1.05" fill="#ff0000"/>
<circle cx="94.31" cy="291.63" r="1.05" fill="#ff0000"/>
<circle cx="96.64" cy="293.26" r="1.05" fill="#ff0000"/>
<circle cx="98.74" cy="273.41" r="1.05" fill="#ff0000"/>
<circle cx="100.96" cy="274.34" r="1.05" fill="#ff0000"/>
<circle cx="103.07" cy="283.1" r="1.05" fill="#ff0000"/>
<circle cx="105.4" cy="293.26" r="1.05" fill="#ff0000"/>
<circle cx="108.09" cy="272.94" r="1.05" fill="#ff0000"/>
<circle cx="110.42" cy="279.6" r="1.05" fill="#ff0000"/>
<circle cx="112.64" cy="279.6" r="1.05" fill="#ff0000"/>
<circle cx="114.74" cy="291.63" r="1.05" fill="#ff0000"/>
<circle cx="116.5" cy="286.61" r="1.05" fill="#ff0000"/>
<circle cx="119.91" cy="293.26" r="1.05" fill="#ff0000"/>
<circle cx="122.24" cy="292.45" r="1.05" fill="#ff0000"/>
<circle cx="125.28" cy="276.33" r="1.05" fill="#ff0000"/>
<circle cx="127.26" cy="283.1" r="1.05" fill="#ff0000"/>
<circle cx="129.6" cy="278.78" r="1.05" fill="#ff0000"/>
<circle cx="131.7" cy="279.95" r="1.05" fill="#ff0000"/>
<circle cx="133.92" cy="278.78" r="1.05" fill="#ff0000"/>
<circle cx="136.84" cy="283.1" r="1.05" fill="#ff0000"/>
<circle cx="139.18" cy="277.85" r="1.05" fill="#ff0000"/>
<circle cx="141.28" cy="284.85" r="1.05" fill="#ff0000"/>
<circle cx="143.61" cy="273.53" r="1.05" fill="#ff0000"/>
<circle cx="145.95" cy="289.88" r="1.05" fill="#ff0000"/>
<circle cx="148.05" cy="281.35" r="1.05" fill="#ff0000"/>
<circle cx="150.04" cy="291.86" r="1.05" fill="#ff0000"/>
<circle cx="152.37" cy="281.35" r="1.05" fill="#ff0000"/>
<circle cx="154.12" cy="278.78" r="1.05" fill="#ff0000"/>
<circle cx="156.81" cy="288.12" r="1.05" fill="#ff0000"/>
<circle cx="158.8" cy="291.86" r="1.05" fill="#ff0000"/>
<circle cx="161.13" cy="293.26" r="1.05" fill="#ff0000"/>
<circle cx="163.47" cy="288.36" r="1.05" fill="#ff0000"/>
<circle cx="165.57" cy="277.03" r="1.05" fill="#ff0000"/>
<circle cx="167.79" cy="277.85" r="1.05" fill="#ff0000"/>
<circle cx="169.89" cy="272.94" r="1.05" fill="#ff0000"/>
<circle cx="172.23" cy="284.85" r="1.05" fill="#ff0000"/>
<circle cx="174.56" cy="281.35" r="1.05" fill="#ff0000"/>
<circle cx="176.9" cy="277.85" r="1.05" fill="#ff0000"/>
<circle cx="179" cy="286.61" r="1.05" fill="#ff0000"/>
<circle cx="180.99" cy="276.33" r="1.05" fill="#ff0000"/>
<circle cx="183.09" cy="284.85" r="1.05" fill="#ff0000"/>
<circle cx="185.42" cy="279.6" r="1.05" fill="#ff0000"/>
<circle cx="188.58" cy="274.34" r="1.05" fill="#ff0000"/>
<circle cx="190.91" cy="277.85" r="1.05" fill="#ff0000"/>
<line x1="36.2" y1="328.2" x2="198.3" y2="328.2" stroke="#000" stroke-width="1" stroke-linecap="square"/>
<line x1="36.2" y1="193.5" x2="36.2" y2="328.2" stroke="#000" stroke-width="1" stroke-linecap="square"/>
<line x1="36.2" y1="193.5" x2="198.3" y2="193.5" stroke="#000" stroke-width="1" stroke-linecap="square"/>
<line x1="198.3" y1="193.5" x2="198.3" y2="328.2" stroke="#ff0000" stroke-width="1" stroke-linecap="square"/>
<text x="32.2" y="330.72" font-size="7" font-weight="bold" text-anchor="end">600</text>
<text x="32.2" y="318.47" font-size="7" font-weight="bold" text-anchor="end">610</text>
<text x="32.2" y="306.23" font-size="7" font-weight="bold" text-anchor="end">620</text>
<text x="32.2" y="293.98" font-size="7" font-weight="bold" text-anchor="end">630</text>
<text x="32.2" y="281.74" font-size="7" font-weight="bold" text-anchor="end">640</text>
<text x="32.2" y="269.49" font-size="7" font-weight="bold" text-anchor="end">650</text>
<text x="32.2" y="257.25" font-size="7" font-weight="bold" text-anchor="end">660</text>
<text x="32.2" y="245" font-size="7" font-weight="bold" text-anchor="end">670</text>
<text x="32.2" y="232.76" font-size="7" font-weight="bold" text-anchor="end">680</text>
<text x="32.2" y="220.51" font-size="7" font-weight="bold" text-anchor="end">690</text>
<text x="32.2" y="208.27" font-size="7" font-weight="bold" text-anchor="end">700</text>
<text x="32.2" y="196.02" font-size="7" font-weight="bold" text-anchor="end">710</text>
<text x="201.9" y="330.72" font-size="7" font-weight="bold" fill="#ff0000">0.0</text>
<text x="201.9" y="317.25" font-size="7" font-weight="bold" fill="#ff0000">0.1</text>
<text x="201.9" y="303.78" font-size="7" font-weight="bold" fill="#ff0000">0.2</text>
<text x="201.9" y="290.31" font-size="7" font-weight="bold" fill="#ff0000">0.3</text>
<text x="201.9" y="276.84" font-size="7" font-weight="bold" fill="#ff0000">0.4</text>
<text x="201.9" y="263.37" font-size="7" font-weight="bold" fill="#ff0000">0.5</text>
<text x="201.9" y="249.9" font-size="7" font-weight="bold" fill="#ff0000">0.6</text>
<text x="201.9" y="236.43" font-size="7" font-weight="bold" fill="#ff0000">0.7</text>
<text x="201.9" y="222.96" font-size="7" font-weight="bold" fill="#ff0000">0.8</text>
<text x="201.9" y="209.49" font-size="7" font-weight="bold" fill="#ff0000">0.9</text>
<text x="201.9" y="196.02" font-size="7" font-weight="bold" fill="#ff0000">1.0</text>
<text x="45.77" y="333.2" font-size="7.2" font-weight="bold" text-anchor="end" dominant-baseline="central" transform="rotate(-45 45.77 333.2)">0</text>
<text x="60.5" y="333.2" font-size="7.2" font-weight="bold" text-anchor="end" dominant-baseline="central" transform="rotate(-45 60.5 333.2)">2</text>
<text x="75.24" y="333.2" font-size="7.2" font-weight="bold" text-anchor="end" dominant-baseline="central" transform="rotate(-45 75.24 333.2)">4</text>
<text x="89.98" y="333.2" font-size="7.2" font-weight="bold" text-anchor="end" dominant-baseline="central" transform="rotate(-45 89.98 333.2)">6</text>
<text x="104.71" y="333.2" font-size="7.2" font-weight="bold" text-anchor="end" dominant-baseline="central" transform="rotate(-45 104.71 333.2)">8</text>
<text x="119.45" y="333.2" font-size="7.2" font-weight="bold" text-anchor="end" dominant-baseline="central" transform="rotate(-45 119.45 333.2)">10</text>
<text x="134.19" y="333.2" font-size="7.2" font-weight="bold" text-anchor="end" dominant-baseline="central" transform="rotate(-45 134.19 333.2)">12</text>
<text x="148.92" y="333.2" font-size="7.2" font-weight="bold" text-anchor="end" dominant-baseline="central" transform="rotate(-45 148.92 333.2)">14</text>
<text x="163.66" y="333.2" font-size="7.2" font-weight="bold" text-anchor="end" dominant-baseline="central" transform="rotate(-45 163.66 333.2)">16</text>
<text x="178.4" y="333.2" font-size="7.2" font-weight="bold" text-anchor="end" dominant-baseline="central" transform="rotate(-45 178.4 333.2)">18</text>
<text x="193.13" y="333.2" font-size="7.2" font-weight="bold" text-anchor="end" dominant-baseline="central" transform="rotate(-45 193.13 333.2)">20</text>
<text x="13.7" y="260.7" font-size="7.2" font-weight="bold" text-anchor="middle" transform="rotate(-90 13.7 260.7)">Capacitance (pF)</text>
<text x="220.6" y="260.7" font-size="7.2" font-weight="bold" fill="#ff0000" text-anchor="middle" transform="rotate(-90 220.6 260.7)">Deviation percentage (%)</text>
<text x="120.4" y="350" font-size="7.2" font-weight="bold" text-anchor="middle">Pressure (MPa)</text>
<rect x="119.4" y="222.6" width="73.7" height="34.7" fill="#fff" stroke="#555" stroke-width="0.8"/>
<line x1="119.9" y1="227" x2="135" y2="227" stroke="#000" stroke-width="0.9" stroke-dasharray="0.7,0.55"/>
<text x="137.2" y="229" font-size="5.8" font-weight="bold" fill="#222" textLength="53.5" lengthAdjust="spacingAndGlyphs">First measurement</text>
<circle cx="127.8" cy="235.5" r="1.1" fill="#0000ff"/>
<text x="137.2" y="237.5" font-size="5.8" font-weight="bold" fill="#0000ff" textLength="42" lengthAdjust="spacingAndGlyphs">After 3 months</text>
<line x1="119.9" y1="244" x2="135" y2="244" stroke="#ff0000" stroke-width="0.8"/>
<circle cx="127.8" cy="244" r="1.2" fill="#ff0000"/>
<text x="137.2" y="246" font-size="5.8" font-weight="bold" fill="#ff0000" textLength="26.5" lengthAdjust="spacingAndGlyphs">Deviation</text>
<line x1="119.9" y1="252.4" x2="135" y2="252.4" stroke="#ff00ff" stroke-width="0.8"/>
<circle cx="127.8" cy="252.4" r="0.9" fill="#ff00ff"/>
<text x="137.2" y="254.4" font-size="5.8" font-weight="bold" fill="#ff00ff" textLength="24.5" lengthAdjust="spacingAndGlyphs">Error bar</text>
<text x="70" y="315.7" font-size="6.5" font-weight="bold" fill="#0000ff" text-anchor="middle" textLength="26" lengthAdjust="spacingAndGlyphs">1.07 MPa</text>
<text x="69.9" y="322.8" font-size="6.5" font-weight="bold" fill="#0000ff" text-anchor="middle" textLength="34.3" lengthAdjust="spacingAndGlyphs">(Collapsed)</text>
<text x="5.9" y="193.3" font-size="14.5" font-weight="bold">d</text>
<line x1="274.45" y1="201.6" x2="274.45" y2="328.2" stroke="#e4e4e4" stroke-width="0.6"/>
<line x1="282.5" y1="201.6" x2="282.5" y2="328.2" stroke="#e4e4e4" stroke-width="0.6"/>
<line x1="290.55" y1="201.6" x2="290.55" y2="328.2" stroke="#e4e4e4" stroke-width="0.6"/>
<line x1="298.6" y1="201.6" x2="298.6" y2="328.2" stroke="#e4e4e4" stroke-width="0.6"/>
<line x1="306.65" y1="201.6" x2="306.65" y2="328.2" stroke="#e4e4e4" stroke-width="0.6"/>
<line x1="314.7" y1="201.6" x2="314.7" y2="328.2" stroke="#e4e4e4" stroke-width="0.6"/>
<line x1="322.75" y1="201.6" x2="322.75" y2="328.2" stroke="#e4e4e4" stroke-width="0.6"/>
<line x1="330.8" y1="201.6" x2="330.8" y2="328.2" stroke="#e4e4e4" stroke-width="0.6"/>
<line x1="338.85" y1="201.6" x2="338.85" y2="328.2" stroke="#e4e4e4" stroke-width="0.6"/>
<line x1="346.9" y1="201.6" x2="346.9" y2="328.2" stroke="#e4e4e4" stroke-width="0.6"/>
<line x1="354.95" y1="201.6" x2="354.95" y2="328.2" stroke="#e4e4e4" stroke-width="0.6"/>
<line x1="363" y1="201.6" x2="363" y2="328.2" stroke="#e4e4e4" stroke-width="0.6"/>
<line x1="371.05" y1="201.6" x2="371.05" y2="328.2" stroke="#e4e4e4" stroke-width="0.6"/>
<line x1="379.1" y1="201.6" x2="379.1" y2="328.2" stroke="#e4e4e4" stroke-width="0.6"/>
<line x1="387.15" y1="201.6" x2="387.15" y2="328.2" stroke="#e4e4e4" stroke-width="0.6"/>
<line x1="395.2" y1="201.6" x2="395.2" y2="328.2" stroke="#e4e4e4" stroke-width="0.6"/>
<line x1="403.25" y1="201.6" x2="403.25" y2="328.2" stroke="#e4e4e4" stroke-width="0.6"/>
<line x1="411.3" y1="201.6" x2="411.3" y2="328.2" stroke="#e4e4e4" stroke-width="0.6"/>
<line x1="419.35" y1="201.6" x2="419.35" y2="328.2" stroke="#e4e4e4" stroke-width="0.6"/>
<line x1="266.4" y1="321.87" x2="427.4" y2="321.87" stroke="#e4e4e4" stroke-width="0.6"/>
<line x1="266.4" y1="315.54" x2="427.4" y2="315.54" stroke="#e4e4e4" stroke-width="0.6"/>
<line x1="266.4" y1="309.21" x2="427.4" y2="309.21" stroke="#e4e4e4" stroke-width="0.6"/>
<line x1="266.4" y1="302.88" x2="427.4" y2="302.88" stroke="#e4e4e4" stroke-width="0.6"/>
<line x1="266.4" y1="296.55" x2="427.4" y2="296.55" stroke="#e4e4e4" stroke-width="0.6"/>
<line x1="266.4" y1="290.22" x2="427.4" y2="290.22" stroke="#e4e4e4" stroke-width="0.6"/>
<line x1="266.4" y1="283.89" x2="427.4" y2="283.89" stroke="#e4e4e4" stroke-width="0.6"/>
<line x1="266.4" y1="277.56" x2="427.4" y2="277.56" stroke="#e4e4e4" stroke-width="0.6"/>
<line x1="266.4" y1="271.23" x2="427.4" y2="271.23" stroke="#e4e4e4" stroke-width="0.6"/>
<line x1="266.4" y1="264.9" x2="427.4" y2="264.9" stroke="#e4e4e4" stroke-width="0.6"/>
<line x1="266.4" y1="258.57" x2="427.4" y2="258.57" stroke="#e4e4e4" stroke-width="0.6"/>
<line x1="266.4" y1="252.24" x2="427.4" y2="252.24" stroke="#e4e4e4" stroke-width="0.6"/>
<line x1="266.4" y1="245.91" x2="427.4" y2="245.91" stroke="#e4e4e4" stroke-width="0.6"/>
<line x1="266.4" y1="239.58" x2="427.4" y2="239.58" stroke="#e4e4e4" stroke-width="0.6"/>
<line x1="266.4" y1="233.25" x2="427.4" y2="233.25" stroke="#e4e4e4" stroke-width="0.6"/>
<line x1="266.4" y1="226.92" x2="427.4" y2="226.92" stroke="#e4e4e4" stroke-width="0.6"/>
<line x1="266.4" y1="220.59" x2="427.4" y2="220.59" stroke="#e4e4e4" stroke-width="0.6"/>
<line x1="266.4" y1="214.26" x2="427.4" y2="214.26" stroke="#e4e4e4" stroke-width="0.6"/>
<line x1="266.4" y1="207.93" x2="427.4" y2="207.93" stroke="#e4e4e4" stroke-width="0.6"/>
<line x1="267.7" y1="202.1" x2="267.7" y2="328.2" stroke="#b8b8b8" stroke-width="1.9"/>
<line x1="267.7" y1="203.4" x2="371" y2="203.4" stroke="#c8c8c8" stroke-width="1.9"/>
<line x1="266.4" y1="328.2" x2="266.4" y2="326" stroke="#000" stroke-width="0.8"/>
<line x1="266.4" y1="201.6" x2="266.4" y2="203.8" stroke="#000" stroke-width="0.8"/>
<line x1="282.5" y1="328.2" x2="282.5" y2="326" stroke="#000" stroke-width="0.8"/>
<line x1="282.5" y1="201.6" x2="282.5" y2="203.8" stroke="#000" stroke-width="0.8"/>
<line x1="298.6" y1="328.2" x2="298.6" y2="326" stroke="#000" stroke-width="0.8"/>
<line x1="298.6" y1="201.6" x2="298.6" y2="203.8" stroke="#000" stroke-width="0.8"/>
<line x1="314.7" y1="328.2" x2="314.7" y2="326" stroke="#000" stroke-width="0.8"/>
<line x1="314.7" y1="201.6" x2="314.7" y2="203.8" stroke="#000" stroke-width="0.8"/>
<line x1="330.8" y1="328.2" x2="330.8" y2="326" stroke="#000" stroke-width="0.8"/>
<line x1="330.8" y1="201.6" x2="330.8" y2="203.8" stroke="#000" stroke-width="0.8"/>
<line x1="346.9" y1="328.2" x2="346.9" y2="326" stroke="#000" stroke-width="0.8"/>
<line x1="346.9" y1="201.6" x2="346.9" y2="203.8" stroke="#000" stroke-width="0.8"/>
<line x1="363" y1="328.2" x2="363" y2="326" stroke="#000" stroke-width="0.8"/>
<line x1="363" y1="201.6" x2="363" y2="203.8" stroke="#000" stroke-width="0.8"/>
<line x1="379.1" y1="328.2" x2="379.1" y2="326" stroke="#000" stroke-width="0.8"/>
<line x1="379.1" y1="201.6" x2="379.1" y2="203.8" stroke="#000" stroke-width="0.8"/>
<line x1="395.2" y1="328.2" x2="395.2" y2="326" stroke="#000" stroke-width="0.8"/>
<line x1="395.2" y1="201.6" x2="395.2" y2="203.8" stroke="#000" stroke-width="0.8"/>
<line x1="411.3" y1="328.2" x2="411.3" y2="326" stroke="#000" stroke-width="0.8"/>
<line x1="411.3" y1="201.6" x2="411.3" y2="203.8" stroke="#000" stroke-width="0.8"/>
<line x1="427.4" y1="328.2" x2="427.4" y2="326" stroke="#000" stroke-width="0.8"/>
<line x1="427.4" y1="201.6" x2="427.4" y2="203.8" stroke="#000" stroke-width="0.8"/>
<line x1="274.45" y1="328.2" x2="274.45" y2="326.9" stroke="#000" stroke-width="0.8"/>
<line x1="274.45" y1="201.6" x2="274.45" y2="202.9" stroke="#000" stroke-width="0.8"/>
<line x1="290.55" y1="328.2" x2="290.55" y2="326.9" stroke="#000" stroke-width="0.8"/>
<line x1="290.55" y1="201.6" x2="290.55" y2="202.9" stroke="#000" stroke-width="0.8"/>
<line x1="306.65" y1="328.2" x2="306.65" y2="326.9" stroke="#000" stroke-width="0.8"/>
<line x1="306.65" y1="201.6" x2="306.65" y2="202.9" stroke="#000" stroke-width="0.8"/>
<line x1="322.75" y1="328.2" x2="322.75" y2="326.9" stroke="#000" stroke-width="0.8"/>
<line x1="322.75" y1="201.6" x2="322.75" y2="202.9" stroke="#000" stroke-width="0.8"/>
<line x1="338.85" y1="328.2" x2="338.85" y2="326.9" stroke="#000" stroke-width="0.8"/>
<line x1="338.85" y1="201.6" x2="338.85" y2="202.9" stroke="#000" stroke-width="0.8"/>
<line x1="354.95" y1="328.2" x2="354.95" y2="326.9" stroke="#000" stroke-width="0.8"/>
<line x1="354.95" y1="201.6" x2="354.95" y2="202.9" stroke="#000" stroke-width="0.8"/>
<line x1="371.05" y1="328.2" x2="371.05" y2="326.9" stroke="#000" stroke-width="0.8"/>
<line x1="371.05" y1="201.6" x2="371.05" y2="202.9" stroke="#000" stroke-width="0.8"/>
<line x1="387.15" y1="328.2" x2="387.15" y2="326.9" stroke="#000" stroke-width="0.8"/>
<line x1="387.15" y1="201.6" x2="387.15" y2="202.9" stroke="#000" stroke-width="0.8"/>
<line x1="403.25" y1="328.2" x2="403.25" y2="326.9" stroke="#000" stroke-width="0.8"/>
<line x1="403.25" y1="201.6" x2="403.25" y2="202.9" stroke="#000" stroke-width="0.8"/>
<line x1="419.35" y1="328.2" x2="419.35" y2="326.9" stroke="#000" stroke-width="0.8"/>
<line x1="419.35" y1="201.6" x2="419.35" y2="202.9" stroke="#000" stroke-width="0.8"/>
<line x1="266.4" y1="328.2" x2="268.6" y2="328.2" stroke="#000" stroke-width="0.8"/>
<line x1="427.4" y1="328.2" x2="425.2" y2="328.2" stroke="#000" stroke-width="0.8"/>
<line x1="266.4" y1="315.54" x2="268.6" y2="315.54" stroke="#000" stroke-width="0.8"/>
<line x1="427.4" y1="315.54" x2="425.2" y2="315.54" stroke="#000" stroke-width="0.8"/>
<line x1="266.4" y1="302.88" x2="268.6" y2="302.88" stroke="#000" stroke-width="0.8"/>
<line x1="427.4" y1="302.88" x2="425.2" y2="302.88" stroke="#000" stroke-width="0.8"/>
<line x1="266.4" y1="290.22" x2="268.6" y2="290.22" stroke="#000" stroke-width="0.8"/>
<line x1="427.4" y1="290.22" x2="425.2" y2="290.22" stroke="#000" stroke-width="0.8"/>
<line x1="266.4" y1="277.56" x2="268.6" y2="277.56" stroke="#000" stroke-width="0.8"/>
<line x1="427.4" y1="277.56" x2="425.2" y2="277.56" stroke="#000" stroke-width="0.8"/>
<line x1="266.4" y1="264.9" x2="268.6" y2="264.9" stroke="#000" stroke-width="0.8"/>
<line x1="427.4" y1="264.9" x2="425.2" y2="264.9" stroke="#000" stroke-width="0.8"/>
<line x1="266.4" y1="252.24" x2="268.6" y2="252.24" stroke="#000" stroke-width="0.8"/>
<line x1="427.4" y1="252.24" x2="425.2" y2="252.24" stroke="#000" stroke-width="0.8"/>
<line x1="266.4" y1="239.58" x2="268.6" y2="239.58" stroke="#000" stroke-width="0.8"/>
<line x1="427.4" y1="239.58" x2="425.2" y2="239.58" stroke="#000" stroke-width="0.8"/>
<line x1="266.4" y1="226.92" x2="268.6" y2="226.92" stroke="#000" stroke-width="0.8"/>
<line x1="427.4" y1="226.92" x2="425.2" y2="226.92" stroke="#000" stroke-width="0.8"/>
<line x1="266.4" y1="214.26" x2="268.6" y2="214.26" stroke="#000" stroke-width="0.8"/>
<line x1="427.4" y1="214.26" x2="425.2" y2="214.26" stroke="#000" stroke-width="0.8"/>
<line x1="266.4" y1="201.6" x2="268.6" y2="201.6" stroke="#000" stroke-width="0.8"/>
<line x1="427.4" y1="201.6" x2="425.2" y2="201.6" stroke="#000" stroke-width="0.8"/>
<line x1="266.4" y1="321.87" x2="267.7" y2="321.87" stroke="#000" stroke-width="0.8"/>
<line x1="427.4" y1="321.87" x2="426.1" y2="321.87" stroke="#000" stroke-width="0.8"/>
<line x1="266.4" y1="309.21" x2="267.7" y2="309.21" stroke="#000" stroke-width="0.8"/>
<line x1="427.4" y1="309.21" x2="426.1" y2="309.21" stroke="#000" stroke-width="0.8"/>
<line x1="266.4" y1="296.55" x2="267.7" y2="296.55" stroke="#000" stroke-width="0.8"/>
<line x1="427.4" y1="296.55" x2="426.1" y2="296.55" stroke="#000" stroke-width="0.8"/>
<line x1="266.4" y1="283.89" x2="267.7" y2="283.89" stroke="#000" stroke-width="0.8"/>
<line x1="427.4" y1="283.89" x2="426.1" y2="283.89" stroke="#000" stroke-width="0.8"/>
<line x1="266.4" y1="271.23" x2="267.7" y2="271.23" stroke="#000" stroke-width="0.8"/>
<line x1="427.4" y1="271.23" x2="426.1" y2="271.23" stroke="#000" stroke-width="0.8"/>
<line x1="266.4" y1="258.57" x2="267.7" y2="258.57" stroke="#000" stroke-width="0.8"/>
<line x1="427.4" y1="258.57" x2="426.1" y2="258.57" stroke="#000" stroke-width="0.8"/>
<line x1="266.4" y1="245.91" x2="267.7" y2="245.91" stroke="#000" stroke-width="0.8"/>
<line x1="427.4" y1="245.91" x2="426.1" y2="245.91" stroke="#000" stroke-width="0.8"/>
<line x1="266.4" y1="233.25" x2="267.7" y2="233.25" stroke="#000" stroke-width="0.8"/>
<line x1="427.4" y1="233.25" x2="426.1" y2="233.25" stroke="#000" stroke-width="0.8"/>
<line x1="266.4" y1="220.59" x2="267.7" y2="220.59" stroke="#000" stroke-width="0.8"/>
<line x1="427.4" y1="220.59" x2="426.1" y2="220.59" stroke="#000" stroke-width="0.8"/>
<line x1="266.4" y1="207.93" x2="267.7" y2="207.93" stroke="#000" stroke-width="0.8"/>
<line x1="427.4" y1="207.93" x2="426.1" y2="207.93" stroke="#000" stroke-width="0.8"/>
<line x1="266.4" y1="226.92" x2="427.4" y2="226.92" stroke="#6666ff" stroke-width="1.3"/>
<line x1="266.4" y1="302.88" x2="427.4" y2="302.88" stroke="#6666ff" stroke-width="1.3"/>
<polyline points="267.3,245.15 268.9,248.13 270.51,258.51 272.11,287.18 273.71,261.04 275.31,257.43 276.92,262.81 278.52,262.81 280.12,280.03 281.73,243.25 283.33,254.2 284.93,251.35 286.54,272.88 288.14,253.57 289.74,260.03 291.35,269.65 292.95,236.73 294.55,246.23 296.15,233.19 297.76,261.04 299.36,253.25 300.96,249.45 302.57,269.01 304.17,257.43 305.77,259.39 307.38,248.38 308.98,255.09 310.58,256.42 312.18,285.16 313.79,282.62 315.39,249.07 316.99,256.99 318.6,283.26 320.2,260.41 321.8,256.8 323.41,274.21 325.01,278.7 326.61,267.37 328.21,228.06 329.82,260.34 331.42,258.32 333.02,240.4 334.63,233.57 336.23,274.21 337.83,265.85 339.44,271.67 341.04,267.18 342.64,228.76 344.24,272.88 345.85,269.08 347.45,285.54 349.05,297.06 350.66,256.8 352.26,250.97 353.86,274.21 355.47,280.91 357.07,269.46 358.67,246.23 360.27,292.69 361.88,303.26 363.48,263.06 365.08,251.99 366.69,279.65 368.29,227.36 369.89,273.57 371.5,254.01 373.1,270.6 374.7,287.18 376.3,301.04 377.91,268.06 379.51,299.71 381.11,260.34 382.72,289.46 384.32,265.85 385.92,231.86 387.52,278.13 389.13,300.35 390.73,303.64 392.33,260.85 393.94,261.92 395.54,243.5 397.14,257.43 398.75,267.75 400.35,248.38 401.95,249.45 403.56,233.95 405.16,271.36 406.76,260.41 408.36,245.15 409.97,240.4 411.57,258.13 413.17,258.32 414.78,256.1 416.38,232.87 417.98,278.7 419.59,239.64 421.19,267.75 422.79,263.06 424.39,274.02 426,252.3" fill="none" stroke="#1a1a1a" stroke-width="0.55" stroke-linejoin="round"/>
<circle cx="267.3" cy="245.15" r="1.05" fill="#ff0000"/>
<circle cx="268.9" cy="248.13" r="1.05" fill="#ff0000"/>
<circle cx="270.51" cy="258.51" r="1.05" fill="#ff0000"/>
<circle cx="272.11" cy="287.18" r="1.05" fill="#ff0000"/>
<circle cx="273.71" cy="261.04" r="1.05" fill="#ff0000"/>
<circle cx="275.31" cy="257.43" r="1.05" fill="#ff0000"/>
<circle cx="276.92" cy="262.81" r="1.05" fill="#ff0000"/>
<circle cx="278.52" cy="262.81" r="1.05" fill="#ff0000"/>
<circle cx="280.12" cy="280.03" r="1.05" fill="#ff0000"/>
<circle cx="281.73" cy="243.25" r="1.05" fill="#ff0000"/>
<circle cx="283.33" cy="254.2" r="1.05" fill="#ff0000"/>
<circle cx="284.93" cy="251.35" r="1.05" fill="#ff0000"/>
<circle cx="286.54" cy="272.88" r="1.05" fill="#ff0000"/>
<circle cx="288.14" cy="253.57" r="1.05" fill="#ff0000"/>
<circle cx="289.74" cy="260.03" r="1.05" fill="#ff0000"/>
<circle cx="291.35" cy="269.65" r="1.05" fill="#ff0000"/>
<circle cx="292.95" cy="236.73" r="1.05" fill="#ff0000"/>
<circle cx="294.55" cy="246.23" r="1.05" fill="#ff0000"/>
<circle cx="296.15" cy="233.19" r="1.05" fill="#ff0000"/>
<circle cx="297.76" cy="261.04" r="1.05" fill="#ff0000"/>
<circle cx="299.36" cy="253.25" r="1.05" fill="#ff0000"/>
<circle cx="300.96" cy="249.45" r="1.05" fill="#ff0000"/>
<circle cx="302.57" cy="269.01" r="1.05" fill="#ff0000"/>
<circle cx="304.17" cy="257.43" r="1.05" fill="#ff0000"/>
<circle cx="305.77" cy="259.39" r="1.05" fill="#ff0000"/>
<circle cx="307.38" cy="248.38" r="1.05" fill="#ff0000"/>
<circle cx="308.98" cy="255.09" r="1.05" fill="#ff0000"/>
<circle cx="310.58" cy="256.42" r="1.05" fill="#ff0000"/>
<circle cx="312.18" cy="285.16" r="1.05" fill="#ff0000"/>
<circle cx="313.79" cy="282.62" r="1.05" fill="#ff0000"/>
<circle cx="315.39" cy="249.07" r="1.05" fill="#ff0000"/>
<circle cx="316.99" cy="256.99" r="1.05" fill="#ff0000"/>
<circle cx="318.6" cy="283.26" r="1.05" fill="#ff0000"/>
<circle cx="320.2" cy="260.41" r="1.05" fill="#ff0000"/>
<circle cx="321.8" cy="256.8" r="1.05" fill="#ff0000"/>
<circle cx="323.41" cy="274.21" r="1.05" fill="#ff0000"/>
<circle cx="325.01" cy="278.7" r="1.05" fill="#ff0000"/>
<circle cx="326.61" cy="267.37" r="1.05" fill="#ff0000"/>
<circle cx="328.21" cy="228.06" r="1.05" fill="#ff0000"/>
<circle cx="329.82" cy="260.34" r="1.05" fill="#ff0000"/>
<circle cx="331.42" cy="258.32" r="1.05" fill="#ff0000"/>
<circle cx="333.02" cy="240.4" r="1.05" fill="#ff0000"/>
<circle cx="334.63" cy="233.57" r="1.05" fill="#ff0000"/>
<circle cx="336.23" cy="274.21" r="1.05" fill="#ff0000"/>
<circle cx="337.83" cy="265.85" r="1.05" fill="#ff0000"/>
<circle cx="339.44" cy="271.67" r="1.05" fill="#ff0000"/>
<circle cx="341.04" cy="267.18" r="1.05" fill="#ff0000"/>
<circle cx="342.64" cy="228.76" r="1.05" fill="#ff0000"/>
<circle cx="344.24" cy="272.88" r="1.05" fill="#ff0000"/>
<circle cx="345.85" cy="269.08" r="1.05" fill="#ff0000"/>
<circle cx="347.45" cy="285.54" r="1.05" fill="#ff0000"/>
<circle cx="349.05" cy="297.06" r="1.05" fill="#ff0000"/>
<circle cx="350.66" cy="256.8" r="1.05" fill="#ff0000"/>
<circle cx="352.26" cy="250.97" r="1.05" fill="#ff0000"/>
<circle cx="353.86" cy="274.21" r="1.05" fill="#ff0000"/>
<circle cx="355.47" cy="280.91" r="1.05" fill="#ff0000"/>
<circle cx="357.07" cy="269.46" r="1.05" fill="#ff0000"/>
<circle cx="358.67" cy="246.23" r="1.05" fill="#ff0000"/>
<circle cx="360.27" cy="292.69" r="1.05" fill="#ff0000"/>
<circle cx="361.88" cy="303.26" r="1.05" fill="#ff0000"/>
<circle cx="363.48" cy="263.06" r="1.05" fill="#ff0000"/>
<circle cx="365.08" cy="251.99" r="1.05" fill="#ff0000"/>
<circle cx="366.69" cy="279.65" r="1.05" fill="#ff0000"/>
<circle cx="368.29" cy="227.36" r="1.05" fill="#ff0000"/>
<circle cx="369.89" cy="273.57" r="1.05" fill="#ff0000"/>
<circle cx="371.5" cy="254.01" r="1.05" fill="#ff0000"/>
<circle cx="373.1" cy="270.6" r="1.05" fill="#ff0000"/>
<circle cx="374.7" cy="287.18" r="1.05" fill="#ff0000"/>
<circle cx="376.3" cy="301.04" r="1.05" fill="#ff0000"/>
<circle cx="377.91" cy="268.06" r="1.05" fill="#ff0000"/>
<circle cx="379.51" cy="299.71" r="1.05" fill="#ff0000"/>
<circle cx="381.11" cy="260.34" r="1.05" fill="#ff0000"/>
<circle cx="382.72" cy="289.46" r="1.05" fill="#ff0000"/>
<circle cx="384.32" cy="265.85" r="1.05" fill="#ff0000"/>
<circle cx="385.92" cy="231.86" r="1.05" fill="#ff0000"/>
<circle cx="387.52" cy="278.13" r="1.05" fill="#ff0000"/>
<circle cx="389.13" cy="300.35" r="1.05" fill="#ff0000"/>
<circle cx="390.73" cy="303.64" r="1.05" fill="#ff0000"/>
<circle cx="392.33" cy="260.85" r="1.05" fill="#ff0000"/>
<circle cx="393.94" cy="261.92" r="1.05" fill="#ff0000"/>
<circle cx="395.54" cy="243.5" r="1.05" fill="#ff0000"/>
<circle cx="397.14" cy="257.43" r="1.05" fill="#ff0000"/>
<circle cx="398.75" cy="267.75" r="1.05" fill="#ff0000"/>
<circle cx="400.35" cy="248.38" r="1.05" fill="#ff0000"/>
<circle cx="401.95" cy="249.45" r="1.05" fill="#ff0000"/>
<circle cx="403.56" cy="233.95" r="1.05" fill="#ff0000"/>
<circle cx="405.16" cy="271.36" r="1.05" fill="#ff0000"/>
<circle cx="406.76" cy="260.41" r="1.05" fill="#ff0000"/>
<circle cx="408.36" cy="245.15" r="1.05" fill="#ff0000"/>
<circle cx="409.97" cy="240.4" r="1.05" fill="#ff0000"/>
<circle cx="411.57" cy="258.13" r="1.05" fill="#ff0000"/>
<circle cx="413.17" cy="258.32" r="1.05" fill="#ff0000"/>
<circle cx="414.78" cy="256.1" r="1.05" fill="#ff0000"/>
<circle cx="416.38" cy="232.87" r="1.05" fill="#ff0000"/>
<circle cx="417.98" cy="278.7" r="1.05" fill="#ff0000"/>
<circle cx="419.59" cy="239.64" r="1.05" fill="#ff0000"/>
<circle cx="421.19" cy="267.75" r="1.05" fill="#ff0000"/>
<circle cx="422.79" cy="263.06" r="1.05" fill="#ff0000"/>
<circle cx="424.39" cy="274.02" r="1.05" fill="#ff0000"/>
<circle cx="426" cy="252.3" r="1.05" fill="#ff0000"/>
<line x1="266.4" y1="328.2" x2="427.4" y2="328.2" stroke="#000" stroke-width="1" stroke-linecap="square"/>
<line x1="266.4" y1="201.6" x2="266.4" y2="328.2" stroke="#000" stroke-width="1" stroke-linecap="square"/>
<line x1="266.4" y1="201.6" x2="427.4" y2="201.6" stroke="#000" stroke-width="1" stroke-linecap="square"/>
<line x1="427.4" y1="201.6" x2="427.4" y2="328.2" stroke="#000" stroke-width="1" stroke-linecap="square"/>
<text x="261.8" y="330.7" font-size="7" font-weight="bold" text-anchor="end">&#8722;10fF</text>
<text x="261.8" y="318.04" font-size="7" font-weight="bold" text-anchor="end">&#8722;8fF</text>
<text x="261.8" y="305.38" font-size="7" font-weight="bold" text-anchor="end">&#8722;6fF</text>
<text x="261.8" y="292.72" font-size="7" font-weight="bold" text-anchor="end">&#8722;4fF</text>
<text x="261.8" y="280.06" font-size="7" font-weight="bold" text-anchor="end">&#8722;2fF</text>
<text x="261.5" y="267.4" font-size="7" font-weight="bold" fill="#ff0000" text-anchor="end" textLength="26.6" lengthAdjust="spacingAndGlyphs">628.7pF</text>
<text x="261.8" y="254.74" font-size="7" font-weight="bold" text-anchor="end">+2fF</text>
<text x="261.8" y="242.08" font-size="7" font-weight="bold" text-anchor="end">+4fF</text>
<text x="261.8" y="229.42" font-size="7" font-weight="bold" text-anchor="end">+6fF</text>
<text x="261.8" y="216.76" font-size="7" font-weight="bold" text-anchor="end">+8fF</text>
<text x="261.8" y="204.1" font-size="7" font-weight="bold" text-anchor="end">+10fF</text>
<text x="268.2" y="333.1" font-size="7" font-weight="bold" text-anchor="end" dominant-baseline="central" transform="rotate(-45 268.2 333.1)">0</text>
<text x="284.3" y="333.1" font-size="7" font-weight="bold" text-anchor="end" dominant-baseline="central" transform="rotate(-45 284.3 333.1)">10</text>
<text x="300.4" y="333.1" font-size="7" font-weight="bold" text-anchor="end" dominant-baseline="central" transform="rotate(-45 300.4 333.1)">20</text>
<text x="316.5" y="333.1" font-size="7" font-weight="bold" text-anchor="end" dominant-baseline="central" transform="rotate(-45 316.5 333.1)">30</text>
<text x="332.6" y="333.1" font-size="7" font-weight="bold" text-anchor="end" dominant-baseline="central" transform="rotate(-45 332.6 333.1)">40</text>
<text x="348.7" y="333.1" font-size="7" font-weight="bold" text-anchor="end" dominant-baseline="central" transform="rotate(-45 348.7 333.1)">50</text>
<text x="364.8" y="333.1" font-size="7" font-weight="bold" text-anchor="end" dominant-baseline="central" transform="rotate(-45 364.8 333.1)">60</text>
<text x="380.9" y="333.1" font-size="7" font-weight="bold" text-anchor="end" dominant-baseline="central" transform="rotate(-45 380.9 333.1)">70</text>
<text x="397" y="333.1" font-size="7" font-weight="bold" text-anchor="end" dominant-baseline="central" transform="rotate(-45 397 333.1)">80</text>
<text x="413.1" y="333.1" font-size="7" font-weight="bold" text-anchor="end" dominant-baseline="central" transform="rotate(-45 413.1 333.1)">90</text>
<text x="429.2" y="333.1" font-size="7" font-weight="bold" text-anchor="end" dominant-baseline="central" transform="rotate(-45 429.2 333.1)">100</text>
<text x="347.1" y="350" font-size="7.2" font-weight="bold" text-anchor="middle">Number of measurements</text>
<rect x="268.8" y="205.5" width="96.9" height="9.2" fill="#fff" stroke="#444" stroke-width="0.8"/>
<line x1="269.5" y1="209.6" x2="285" y2="209.6" stroke="#666" stroke-width="0.7"/>
<circle cx="277.6" cy="209.6" r="1.05" fill="#ff0000"/>
<text x="287.5" y="211.9" font-size="6.2" font-weight="bold" fill="#ff0000" textLength="75.5" lengthAdjust="spacingAndGlyphs">Test repetitions at 1.1 MPa</text>
<text x="337.5" y="225.7" font-size="5.8" font-weight="bold" fill="#0000ff" text-anchor="middle" textLength="12.5" lengthAdjust="spacingAndGlyphs">+6fF</text>
<text x="337.4" y="309.1" font-size="5.8" font-weight="bold" fill="#0000ff" text-anchor="middle" textLength="12.9" lengthAdjust="spacingAndGlyphs">&#8722;6fF</text>
<text x="233.2" y="193.4" font-size="14.5" font-weight="bold">e</text>
<line x1="503.44" y1="192.4" x2="503.44" y2="328.2" stroke="#f2f2f2" stroke-width="0.5"/>
<line x1="510.58" y1="192.4" x2="510.58" y2="328.2" stroke="#f2f2f2" stroke-width="0.5"/>
<line x1="517.72" y1="192.4" x2="517.72" y2="328.2" stroke="#f2f2f2" stroke-width="0.5"/>
<line x1="524.86" y1="192.4" x2="524.86" y2="328.2" stroke="#f2f2f2" stroke-width="0.5"/>
<line x1="532" y1="192.4" x2="532" y2="328.2" stroke="#f2f2f2" stroke-width="0.5"/>
<line x1="539.15" y1="192.4" x2="539.15" y2="328.2" stroke="#f2f2f2" stroke-width="0.5"/>
<line x1="546.29" y1="192.4" x2="546.29" y2="328.2" stroke="#f2f2f2" stroke-width="0.5"/>
<line x1="553.43" y1="192.4" x2="553.43" y2="328.2" stroke="#f2f2f2" stroke-width="0.5"/>
<line x1="560.57" y1="192.4" x2="560.57" y2="328.2" stroke="#f2f2f2" stroke-width="0.5"/>
<line x1="567.71" y1="192.4" x2="567.71" y2="328.2" stroke="#f2f2f2" stroke-width="0.5"/>
<line x1="574.85" y1="192.4" x2="574.85" y2="328.2" stroke="#f2f2f2" stroke-width="0.5"/>
<line x1="581.99" y1="192.4" x2="581.99" y2="328.2" stroke="#f2f2f2" stroke-width="0.5"/>
<line x1="589.13" y1="192.4" x2="589.13" y2="328.2" stroke="#f2f2f2" stroke-width="0.5"/>
<line x1="596.27" y1="192.4" x2="596.27" y2="328.2" stroke="#f2f2f2" stroke-width="0.5"/>
<line x1="603.41" y1="192.4" x2="603.41" y2="328.2" stroke="#f2f2f2" stroke-width="0.5"/>
<line x1="610.55" y1="192.4" x2="610.55" y2="328.2" stroke="#f2f2f2" stroke-width="0.5"/>
<line x1="617.7" y1="192.4" x2="617.7" y2="328.2" stroke="#f2f2f2" stroke-width="0.5"/>
<line x1="624.84" y1="192.4" x2="624.84" y2="328.2" stroke="#f2f2f2" stroke-width="0.5"/>
<line x1="631.98" y1="192.4" x2="631.98" y2="328.2" stroke="#f2f2f2" stroke-width="0.5"/>
<line x1="639.12" y1="192.4" x2="639.12" y2="328.2" stroke="#f2f2f2" stroke-width="0.5"/>
<line x1="646.26" y1="192.4" x2="646.26" y2="328.2" stroke="#f2f2f2" stroke-width="0.5"/>
<line x1="496.3" y1="322.98" x2="653.4" y2="322.98" stroke="#f2f2f2" stroke-width="0.5"/>
<line x1="496.3" y1="317.75" x2="653.4" y2="317.75" stroke="#f2f2f2" stroke-width="0.5"/>
<line x1="496.3" y1="312.53" x2="653.4" y2="312.53" stroke="#f2f2f2" stroke-width="0.5"/>
<line x1="496.3" y1="307.31" x2="653.4" y2="307.31" stroke="#f2f2f2" stroke-width="0.5"/>
<line x1="496.3" y1="302.08" x2="653.4" y2="302.08" stroke="#f2f2f2" stroke-width="0.5"/>
<line x1="496.3" y1="296.86" x2="653.4" y2="296.86" stroke="#f2f2f2" stroke-width="0.5"/>
<line x1="496.3" y1="291.64" x2="653.4" y2="291.64" stroke="#f2f2f2" stroke-width="0.5"/>
<line x1="496.3" y1="286.42" x2="653.4" y2="286.42" stroke="#f2f2f2" stroke-width="0.5"/>
<line x1="496.3" y1="281.19" x2="653.4" y2="281.19" stroke="#f2f2f2" stroke-width="0.5"/>
<line x1="496.3" y1="275.97" x2="653.4" y2="275.97" stroke="#f2f2f2" stroke-width="0.5"/>
<line x1="496.3" y1="270.75" x2="653.4" y2="270.75" stroke="#f2f2f2" stroke-width="0.5"/>
<line x1="496.3" y1="265.52" x2="653.4" y2="265.52" stroke="#f2f2f2" stroke-width="0.5"/>
<line x1="496.3" y1="260.3" x2="653.4" y2="260.3" stroke="#f2f2f2" stroke-width="0.5"/>
<line x1="496.3" y1="255.08" x2="653.4" y2="255.08" stroke="#f2f2f2" stroke-width="0.5"/>
<line x1="496.3" y1="249.85" x2="653.4" y2="249.85" stroke="#f2f2f2" stroke-width="0.5"/>
<line x1="496.3" y1="244.63" x2="653.4" y2="244.63" stroke="#f2f2f2" stroke-width="0.5"/>
<line x1="496.3" y1="239.41" x2="653.4" y2="239.41" stroke="#f2f2f2" stroke-width="0.5"/>
<line x1="496.3" y1="234.18" x2="653.4" y2="234.18" stroke="#f2f2f2" stroke-width="0.5"/>
<line x1="496.3" y1="228.96" x2="653.4" y2="228.96" stroke="#f2f2f2" stroke-width="0.5"/>
<line x1="496.3" y1="223.74" x2="653.4" y2="223.74" stroke="#f2f2f2" stroke-width="0.5"/>
<line x1="496.3" y1="218.52" x2="653.4" y2="218.52" stroke="#f2f2f2" stroke-width="0.5"/>
<line x1="496.3" y1="213.29" x2="653.4" y2="213.29" stroke="#f2f2f2" stroke-width="0.5"/>
<line x1="496.3" y1="208.07" x2="653.4" y2="208.07" stroke="#f2f2f2" stroke-width="0.5"/>
<line x1="496.3" y1="202.85" x2="653.4" y2="202.85" stroke="#f2f2f2" stroke-width="0.5"/>
<line x1="496.3" y1="197.62" x2="653.4" y2="197.62" stroke="#f2f2f2" stroke-width="0.5"/>
<line x1="503.44" y1="192.4" x2="503.44" y2="328.2" stroke="#dedede" stroke-width="0.6"/>
<line x1="517.72" y1="192.4" x2="517.72" y2="328.2" stroke="#dedede" stroke-width="0.6"/>
<line x1="532" y1="192.4" x2="532" y2="328.2" stroke="#dedede" stroke-width="0.6"/>
<line x1="546.29" y1="192.4" x2="546.29" y2="328.2" stroke="#dedede" stroke-width="0.6"/>
<line x1="560.57" y1="192.4" x2="560.57" y2="328.2" stroke="#dedede" stroke-width="0.6"/>
<line x1="574.85" y1="192.4" x2="574.85" y2="328.2" stroke="#dedede" stroke-width="0.6"/>
<line x1="589.13" y1="192.4" x2="589.13" y2="328.2" stroke="#dedede" stroke-width="0.6"/>
<line x1="603.41" y1="192.4" x2="603.41" y2="328.2" stroke="#dedede" stroke-width="0.6"/>
<line x1="617.7" y1="192.4" x2="617.7" y2="328.2" stroke="#dedede" stroke-width="0.6"/>
<line x1="631.98" y1="192.4" x2="631.98" y2="328.2" stroke="#dedede" stroke-width="0.6"/>
<line x1="646.26" y1="192.4" x2="646.26" y2="328.2" stroke="#dedede" stroke-width="0.6"/>
<line x1="496.3" y1="317.75" x2="653.4" y2="317.75" stroke="#dedede" stroke-width="0.6"/>
<line x1="496.3" y1="307.31" x2="653.4" y2="307.31" stroke="#dedede" stroke-width="0.6"/>
<line x1="496.3" y1="296.86" x2="653.4" y2="296.86" stroke="#dedede" stroke-width="0.6"/>
<line x1="496.3" y1="286.42" x2="653.4" y2="286.42" stroke="#dedede" stroke-width="0.6"/>
<line x1="496.3" y1="275.97" x2="653.4" y2="275.97" stroke="#dedede" stroke-width="0.6"/>
<line x1="496.3" y1="265.52" x2="653.4" y2="265.52" stroke="#dedede" stroke-width="0.6"/>
<line x1="496.3" y1="255.08" x2="653.4" y2="255.08" stroke="#dedede" stroke-width="0.6"/>
<line x1="496.3" y1="244.63" x2="653.4" y2="244.63" stroke="#dedede" stroke-width="0.6"/>
<line x1="496.3" y1="234.18" x2="653.4" y2="234.18" stroke="#dedede" stroke-width="0.6"/>
<line x1="496.3" y1="223.74" x2="653.4" y2="223.74" stroke="#dedede" stroke-width="0.6"/>
<line x1="496.3" y1="213.29" x2="653.4" y2="213.29" stroke="#dedede" stroke-width="0.6"/>
<line x1="496.3" y1="202.85" x2="653.4" y2="202.85" stroke="#dedede" stroke-width="0.6"/>
<line x1="503.44" y1="328.2" x2="503.44" y2="326" stroke="#000" stroke-width="0.8"/>
<line x1="503.44" y1="192.4" x2="503.44" y2="194.6" stroke="#000" stroke-width="0.8"/>
<line x1="517.72" y1="328.2" x2="517.72" y2="326" stroke="#000" stroke-width="0.8"/>
<line x1="517.72" y1="192.4" x2="517.72" y2="194.6" stroke="#000" stroke-width="0.8"/>
<line x1="532" y1="328.2" x2="532" y2="326" stroke="#000" stroke-width="0.8"/>
<line x1="532" y1="192.4" x2="532" y2="194.6" stroke="#000" stroke-width="0.8"/>
<line x1="546.29" y1="328.2" x2="546.29" y2="326" stroke="#000" stroke-width="0.8"/>
<line x1="546.29" y1="192.4" x2="546.29" y2="194.6" stroke="#000" stroke-width="0.8"/>
<line x1="560.57" y1="328.2" x2="560.57" y2="326" stroke="#000" stroke-width="0.8"/>
<line x1="560.57" y1="192.4" x2="560.57" y2="194.6" stroke="#000" stroke-width="0.8"/>
<line x1="574.85" y1="328.2" x2="574.85" y2="326" stroke="#000" stroke-width="0.8"/>
<line x1="574.85" y1="192.4" x2="574.85" y2="194.6" stroke="#000" stroke-width="0.8"/>
<line x1="589.13" y1="328.2" x2="589.13" y2="326" stroke="#000" stroke-width="0.8"/>
<line x1="589.13" y1="192.4" x2="589.13" y2="194.6" stroke="#000" stroke-width="0.8"/>
<line x1="603.41" y1="328.2" x2="603.41" y2="326" stroke="#000" stroke-width="0.8"/>
<line x1="603.41" y1="192.4" x2="603.41" y2="194.6" stroke="#000" stroke-width="0.8"/>
<line x1="617.7" y1="328.2" x2="617.7" y2="326" stroke="#000" stroke-width="0.8"/>
<line x1="617.7" y1="192.4" x2="617.7" y2="194.6" stroke="#000" stroke-width="0.8"/>
<line x1="631.98" y1="328.2" x2="631.98" y2="326" stroke="#000" stroke-width="0.8"/>
<line x1="631.98" y1="192.4" x2="631.98" y2="194.6" stroke="#000" stroke-width="0.8"/>
<line x1="646.26" y1="328.2" x2="646.26" y2="326" stroke="#000" stroke-width="0.8"/>
<line x1="646.26" y1="192.4" x2="646.26" y2="194.6" stroke="#000" stroke-width="0.8"/>
<line x1="496.3" y1="328.2" x2="496.3" y2="326.9" stroke="#000" stroke-width="0.8"/>
<line x1="496.3" y1="192.4" x2="496.3" y2="193.7" stroke="#000" stroke-width="0.8"/>
<line x1="510.58" y1="328.2" x2="510.58" y2="326.9" stroke="#000" stroke-width="0.8"/>
<line x1="510.58" y1="192.4" x2="510.58" y2="193.7" stroke="#000" stroke-width="0.8"/>
<line x1="524.86" y1="328.2" x2="524.86" y2="326.9" stroke="#000" stroke-width="0.8"/>
<line x1="524.86" y1="192.4" x2="524.86" y2="193.7" stroke="#000" stroke-width="0.8"/>
<line x1="539.15" y1="328.2" x2="539.15" y2="326.9" stroke="#000" stroke-width="0.8"/>
<line x1="539.15" y1="192.4" x2="539.15" y2="193.7" stroke="#000" stroke-width="0.8"/>
<line x1="553.43" y1="328.2" x2="553.43" y2="326.9" stroke="#000" stroke-width="0.8"/>
<line x1="553.43" y1="192.4" x2="553.43" y2="193.7" stroke="#000" stroke-width="0.8"/>
<line x1="567.71" y1="328.2" x2="567.71" y2="326.9" stroke="#000" stroke-width="0.8"/>
<line x1="567.71" y1="192.4" x2="567.71" y2="193.7" stroke="#000" stroke-width="0.8"/>
<line x1="581.99" y1="328.2" x2="581.99" y2="326.9" stroke="#000" stroke-width="0.8"/>
<line x1="581.99" y1="192.4" x2="581.99" y2="193.7" stroke="#000" stroke-width="0.8"/>
<line x1="596.27" y1="328.2" x2="596.27" y2="326.9" stroke="#000" stroke-width="0.8"/>
<line x1="596.27" y1="192.4" x2="596.27" y2="193.7" stroke="#000" stroke-width="0.8"/>
<line x1="610.55" y1="328.2" x2="610.55" y2="326.9" stroke="#000" stroke-width="0.8"/>
<line x1="610.55" y1="192.4" x2="610.55" y2="193.7" stroke="#000" stroke-width="0.8"/>
<line x1="624.84" y1="328.2" x2="624.84" y2="326.9" stroke="#000" stroke-width="0.8"/>
<line x1="624.84" y1="192.4" x2="624.84" y2="193.7" stroke="#000" stroke-width="0.8"/>
<line x1="639.12" y1="328.2" x2="639.12" y2="326.9" stroke="#000" stroke-width="0.8"/>
<line x1="639.12" y1="192.4" x2="639.12" y2="193.7" stroke="#000" stroke-width="0.8"/>
<line x1="653.4" y1="328.2" x2="653.4" y2="326.9" stroke="#000" stroke-width="0.8"/>
<line x1="653.4" y1="192.4" x2="653.4" y2="193.7" stroke="#000" stroke-width="0.8"/>
<line x1="496.3" y1="328.2" x2="498.5" y2="328.2" stroke="#000" stroke-width="0.8"/>
<line x1="653.4" y1="328.2" x2="651.2" y2="328.2" stroke="#000" stroke-width="0.8"/>
<line x1="496.3" y1="317.75" x2="498.5" y2="317.75" stroke="#000" stroke-width="0.8"/>
<line x1="653.4" y1="317.75" x2="651.2" y2="317.75" stroke="#000" stroke-width="0.8"/>
<line x1="496.3" y1="307.31" x2="498.5" y2="307.31" stroke="#000" stroke-width="0.8"/>
<line x1="653.4" y1="307.31" x2="651.2" y2="307.31" stroke="#000" stroke-width="0.8"/>
<line x1="496.3" y1="296.86" x2="498.5" y2="296.86" stroke="#000" stroke-width="0.8"/>
<line x1="653.4" y1="296.86" x2="651.2" y2="296.86" stroke="#000" stroke-width="0.8"/>
<line x1="496.3" y1="286.42" x2="498.5" y2="286.42" stroke="#000" stroke-width="0.8"/>
<line x1="653.4" y1="286.42" x2="651.2" y2="286.42" stroke="#000" stroke-width="0.8"/>
<line x1="496.3" y1="275.97" x2="498.5" y2="275.97" stroke="#000" stroke-width="0.8"/>
<line x1="653.4" y1="275.97" x2="651.2" y2="275.97" stroke="#000" stroke-width="0.8"/>
<line x1="496.3" y1="265.52" x2="498.5" y2="265.52" stroke="#000" stroke-width="0.8"/>
<line x1="653.4" y1="265.52" x2="651.2" y2="265.52" stroke="#000" stroke-width="0.8"/>
<line x1="496.3" y1="255.08" x2="498.5" y2="255.08" stroke="#000" stroke-width="0.8"/>
<line x1="653.4" y1="255.08" x2="651.2" y2="255.08" stroke="#000" stroke-width="0.8"/>
<line x1="496.3" y1="244.63" x2="498.5" y2="244.63" stroke="#000" stroke-width="0.8"/>
<line x1="653.4" y1="244.63" x2="651.2" y2="244.63" stroke="#000" stroke-width="0.8"/>
<line x1="496.3" y1="234.18" x2="498.5" y2="234.18" stroke="#000" stroke-width="0.8"/>
<line x1="653.4" y1="234.18" x2="651.2" y2="234.18" stroke="#000" stroke-width="0.8"/>
<line x1="496.3" y1="223.74" x2="498.5" y2="223.74" stroke="#000" stroke-width="0.8"/>
<line x1="653.4" y1="223.74" x2="651.2" y2="223.74" stroke="#000" stroke-width="0.8"/>
<line x1="496.3" y1="213.29" x2="498.5" y2="213.29" stroke="#000" stroke-width="0.8"/>
<line x1="653.4" y1="213.29" x2="651.2" y2="213.29" stroke="#000" stroke-width="0.8"/>
<line x1="496.3" y1="202.85" x2="498.5" y2="202.85" stroke="#000" stroke-width="0.8"/>
<line x1="653.4" y1="202.85" x2="651.2" y2="202.85" stroke="#000" stroke-width="0.8"/>
<line x1="496.3" y1="192.4" x2="498.5" y2="192.4" stroke="#000" stroke-width="0.8"/>
<line x1="653.4" y1="192.4" x2="651.2" y2="192.4" stroke="#000" stroke-width="0.8"/>
<line x1="496.3" y1="322.98" x2="497.6" y2="322.98" stroke="#000" stroke-width="0.8"/>
<line x1="653.4" y1="322.98" x2="652.1" y2="322.98" stroke="#000" stroke-width="0.8"/>
<line x1="496.3" y1="312.53" x2="497.6" y2="312.53" stroke="#000" stroke-width="0.8"/>
<line x1="653.4" y1="312.53" x2="652.1" y2="312.53" stroke="#000" stroke-width="0.8"/>
<line x1="496.3" y1="302.08" x2="497.6" y2="302.08" stroke="#000" stroke-width="0.8"/>
<line x1="653.4" y1="302.08" x2="652.1" y2="302.08" stroke="#000" stroke-width="0.8"/>
<line x1="496.3" y1="291.64" x2="497.6" y2="291.64" stroke="#000" stroke-width="0.8"/>
<line x1="653.4" y1="291.64" x2="652.1" y2="291.64" stroke="#000" stroke-width="0.8"/>
<line x1="496.3" y1="281.19" x2="497.6" y2="281.19" stroke="#000" stroke-width="0.8"/>
<line x1="653.4" y1="281.19" x2="652.1" y2="281.19" stroke="#000" stroke-width="0.8"/>
<line x1="496.3" y1="270.75" x2="497.6" y2="270.75" stroke="#000" stroke-width="0.8"/>
<line x1="653.4" y1="270.75" x2="652.1" y2="270.75" stroke="#000" stroke-width="0.8"/>
<line x1="496.3" y1="260.3" x2="497.6" y2="260.3" stroke="#000" stroke-width="0.8"/>
<line x1="653.4" y1="260.3" x2="652.1" y2="260.3" stroke="#000" stroke-width="0.8"/>
<line x1="496.3" y1="249.85" x2="497.6" y2="249.85" stroke="#000" stroke-width="0.8"/>
<line x1="653.4" y1="249.85" x2="652.1" y2="249.85" stroke="#000" stroke-width="0.8"/>
<line x1="496.3" y1="239.41" x2="497.6" y2="239.41" stroke="#000" stroke-width="0.8"/>
<line x1="653.4" y1="239.41" x2="652.1" y2="239.41" stroke="#000" stroke-width="0.8"/>
<line x1="496.3" y1="228.96" x2="497.6" y2="228.96" stroke="#000" stroke-width="0.8"/>
<line x1="653.4" y1="228.96" x2="652.1" y2="228.96" stroke="#000" stroke-width="0.8"/>
<line x1="496.3" y1="218.52" x2="497.6" y2="218.52" stroke="#000" stroke-width="0.8"/>
<line x1="653.4" y1="218.52" x2="652.1" y2="218.52" stroke="#000" stroke-width="0.8"/>
<line x1="496.3" y1="208.07" x2="497.6" y2="208.07" stroke="#000" stroke-width="0.8"/>
<line x1="653.4" y1="208.07" x2="652.1" y2="208.07" stroke="#000" stroke-width="0.8"/>
<line x1="496.3" y1="197.62" x2="497.6" y2="197.62" stroke="#000" stroke-width="0.8"/>
<line x1="653.4" y1="197.62" x2="652.1" y2="197.62" stroke="#000" stroke-width="0.8"/>
<polyline points="503.44,316.19 504.16,315.04 504.87,314.1 505.58,312.95 506.3,311.49 507.01,310.02 507.73,307.83 508.44,305.22 509.15,302.29 509.87,297.59 510.58,292.47 511.3,288.19 512.01,287.15 512.72,285.37 513.44,283.7 514.15,282.65 514.87,280.57 515.58,278.48 516.29,276.8 517.01,275.86 517.72,274.3 518.44,273.15 520.58,269.49 522.72,265.73 524.86,262.7 527.01,260.09 529.15,257.48 531.29,254.55 533.43,252.05 535.58,250.27 537.72,248.18 539.71,246.33 541.9,244.56 544.03,243.07 546.23,241.44 548.35,239.82 550.55,238.37 552.68,236.74 554.87,235.59 557,234.15 559.2,233.05 561.39,231.9 563.52,230.71 566.35,229.21 568.62,228.3 570.74,227.39 572.94,226.29 574.36,225.58 577.21,224.12 579.49,223.21 582.21,222.23 584.42,221.22 586.56,220.49 588.99,219.72 591.35,218.94 593.7,218.12 595.99,217.49 598.13,216.91 600.2,216.67 602.49,215.51 604.77,214.97 606.77,214.39 608.91,213.81 610.34,213.38 613.05,212.8 614.7,212.4 617.41,211.59 619.55,211.3 621.84,210.67 624.12,210.18 626.19,209.75 628.34,209.26 630.48,208.87 632.62,208.49 634.91,208.1 636.9,207.66 639.05,207.23 641.4,206.89 644.05,206.26 646.26,205.78" fill="none" stroke="#777" stroke-width="0.9" stroke-linejoin="round"/>
<circle cx="503.44" cy="316.19" r="0.8" fill="#000"/>
<circle cx="504.16" cy="315.04" r="0.8" fill="#000"/>
<circle cx="504.87" cy="314.1" r="0.8" fill="#000"/>
<circle cx="505.58" cy="312.95" r="0.8" fill="#000"/>
<circle cx="506.3" cy="311.49" r="0.8" fill="#000"/>
<circle cx="507.01" cy="310.02" r="0.8" fill="#000"/>
<circle cx="507.73" cy="307.83" r="0.8" fill="#000"/>
<circle cx="508.44" cy="305.22" r="0.8" fill="#000"/>
<circle cx="509.15" cy="302.29" r="0.8" fill="#000"/>
<circle cx="509.87" cy="297.59" r="0.8" fill="#000"/>
<circle cx="510.58" cy="292.47" r="0.8" fill="#000"/>
<circle cx="511.3" cy="288.19" r="0.8" fill="#000"/>
<circle cx="512.01" cy="287.15" r="0.8" fill="#000"/>
<circle cx="512.72" cy="285.37" r="0.8" fill="#000"/>
<circle cx="513.44" cy="283.7" r="0.8" fill="#000"/>
<circle cx="514.15" cy="282.65" r="0.8" fill="#000"/>
<circle cx="514.87" cy="280.57" r="0.8" fill="#000"/>
<circle cx="515.58" cy="278.48" r="0.8" fill="#000"/>
<circle cx="516.29" cy="276.8" r="0.8" fill="#000"/>
<circle cx="517.01" cy="275.86" r="0.8" fill="#000"/>
<circle cx="517.72" cy="274.3" r="0.8" fill="#000"/>
<circle cx="518.44" cy="273.15" r="0.8" fill="#000"/>
<circle cx="520.58" cy="269.49" r="0.8" fill="#000"/>
<circle cx="522.72" cy="265.73" r="0.8" fill="#000"/>
<circle cx="524.86" cy="262.7" r="0.8" fill="#000"/>
<circle cx="527.01" cy="260.09" r="0.8" fill="#000"/>
<circle cx="529.15" cy="257.48" r="0.8" fill="#000"/>
<circle cx="531.29" cy="254.55" r="0.8" fill="#000"/>
<circle cx="533.43" cy="252.05" r="0.8" fill="#000"/>
<circle cx="535.58" cy="250.27" r="0.8" fill="#000"/>
<circle cx="537.72" cy="248.18" r="0.8" fill="#000"/>
<circle cx="539.71" cy="246.33" r="0.8" fill="#000"/>
<circle cx="541.9" cy="244.56" r="0.8" fill="#000"/>
<circle cx="544.03" cy="243.07" r="0.8" fill="#000"/>
<circle cx="546.23" cy="241.44" r="0.8" fill="#000"/>
<circle cx="548.35" cy="239.82" r="0.8" fill="#000"/>
<circle cx="550.55" cy="238.37" r="0.8" fill="#000"/>
<circle cx="552.68" cy="236.74" r="0.8" fill="#000"/>
<circle cx="554.87" cy="235.59" r="0.8" fill="#000"/>
<circle cx="557" cy="234.15" r="0.8" fill="#000"/>
<circle cx="559.2" cy="233.05" r="0.8" fill="#000"/>
<circle cx="561.39" cy="231.9" r="0.8" fill="#000"/>
<circle cx="563.52" cy="230.71" r="0.8" fill="#000"/>
<circle cx="566.35" cy="229.21" r="0.8" fill="#000"/>
<circle cx="568.62" cy="228.3" r="0.8" fill="#000"/>
<circle cx="570.74" cy="227.39" r="0.8" fill="#000"/>
<circle cx="572.94" cy="226.29" r="0.8" fill="#000"/>
<circle cx="574.36" cy="225.58" r="0.8" fill="#000"/>
<circle cx="577.21" cy="224.12" r="0.8" fill="#000"/>
<circle cx="579.49" cy="223.21" r="0.8" fill="#000"/>
<circle cx="582.21" cy="222.23" r="0.8" fill="#000"/>
<circle cx="584.42" cy="221.22" r="0.8" fill="#000"/>
<circle cx="586.56" cy="220.49" r="0.8" fill="#000"/>
<circle cx="588.99" cy="219.72" r="0.8" fill="#000"/>
<circle cx="591.35" cy="218.94" r="0.8" fill="#000"/>
<circle cx="593.7" cy="218.12" r="0.8" fill="#000"/>
<circle cx="595.99" cy="217.49" r="0.8" fill="#000"/>
<circle cx="598.13" cy="216.91" r="0.8" fill="#000"/>
<circle cx="600.2" cy="216.67" r="0.8" fill="#000"/>
<circle cx="602.49" cy="215.51" r="0.8" fill="#000"/>
<circle cx="604.77" cy="214.97" r="0.8" fill="#000"/>
<circle cx="606.77" cy="214.39" r="0.8" fill="#000"/>
<circle cx="608.91" cy="213.81" r="0.8" fill="#000"/>
<circle cx="610.34" cy="213.38" r="0.8" fill="#000"/>
<circle cx="613.05" cy="212.8" r="0.8" fill="#000"/>
<circle cx="614.7" cy="212.4" r="0.8" fill="#000"/>
<circle cx="617.41" cy="211.59" r="0.8" fill="#000"/>
<circle cx="619.55" cy="211.3" r="0.8" fill="#000"/>
<circle cx="621.84" cy="210.67" r="0.8" fill="#000"/>
<circle cx="624.12" cy="210.18" r="0.8" fill="#000"/>
<circle cx="626.19" cy="209.75" r="0.8" fill="#000"/>
<circle cx="628.34" cy="209.26" r="0.8" fill="#000"/>
<circle cx="630.48" cy="208.87" r="0.8" fill="#000"/>
<circle cx="632.62" cy="208.49" r="0.8" fill="#000"/>
<circle cx="634.91" cy="208.1" r="0.8" fill="#000"/>
<circle cx="636.9" cy="207.66" r="0.8" fill="#000"/>
<circle cx="639.05" cy="207.23" r="0.8" fill="#000"/>
<circle cx="641.4" cy="206.89" r="0.8" fill="#000"/>
<circle cx="644.05" cy="206.26" r="0.8" fill="#000"/>
<circle cx="646.26" cy="205.78" r="0.8" fill="#000"/>
<polyline points="503.44,315.87 504.16,314.72 504.87,313.78 505.58,312.64 506.3,311.17 507.01,309.71 507.73,307.52 508.44,304.91 509.15,301.98 509.87,297.28 510.58,292.16 511.3,287.88 512.01,286.83 512.72,285.06 513.44,283.39 514.15,282.34 514.87,280.25 515.58,278.16 516.29,276.49 517.01,275.55 517.72,273.98 518.44,272.84 520.58,269.18 522.72,265.42 524.86,262.39 527.01,259.78 529.15,257.17 531.29,254.24 533.43,251.73 535.58,249.96 537.72,247.87 539.71,246.02 541.9,244.24 544.03,242.76 546.23,241.13 548.35,239.5 550.55,238.06 552.68,236.43 554.87,235.28 557,233.84 559.2,232.73 561.39,231.58 563.52,230.39 566.35,228.9 568.62,227.99 570.74,227.08 572.94,225.97 574.36,225.26 577.21,223.81 579.49,222.89 582.21,221.92 584.42,220.91 586.56,220.18 588.99,219.4 591.35,218.63 593.7,217.81 595.99,217.18 598.13,216.59 600.2,216.35 602.49,215.19 604.77,214.66 606.77,214.08 608.91,213.5 610.34,213.06 613.05,212.49 614.7,212.09 617.41,211.28 619.55,210.98 621.84,210.36 624.12,209.87 626.19,209.44 628.34,208.95 630.48,208.56 632.62,208.17 634.91,207.79 636.9,207.35 639.05,206.92 641.4,206.58 644.05,205.95 646.26,205.47" fill="none" stroke="#ff0000" stroke-width="0.8" stroke-linejoin="round"/>
<circle cx="503.44" cy="315.87" r="1" fill="#ff0000"/>
<circle cx="504.16" cy="314.72" r="1" fill="#ff0000"/>
<circle cx="504.87" cy="313.78" r="1" fill="#ff0000"/>
<circle cx="505.58" cy="312.64" r="1" fill="#ff0000"/>
<circle cx="506.3" cy="311.17" r="1" fill="#ff0000"/>
<circle cx="507.01" cy="309.71" r="1" fill="#ff0000"/>
<circle cx="507.73" cy="307.52" r="1" fill="#ff0000"/>
<circle cx="508.44" cy="304.91" r="1" fill="#ff0000"/>
<circle cx="509.15" cy="301.98" r="1" fill="#ff0000"/>
<circle cx="509.87" cy="297.28" r="1" fill="#ff0000"/>
<circle cx="510.58" cy="292.16" r="1" fill="#ff0000"/>
<circle cx="511.3" cy="287.88" r="1" fill="#ff0000"/>
<circle cx="512.01" cy="286.83" r="1" fill="#ff0000"/>
<circle cx="512.72" cy="285.06" r="1" fill="#ff0000"/>
<circle cx="513.44" cy="283.39" r="1" fill="#ff0000"/>
<circle cx="514.15" cy="282.34" r="1" fill="#ff0000"/>
<circle cx="514.87" cy="280.25" r="1" fill="#ff0000"/>
<circle cx="515.58" cy="278.16" r="1" fill="#ff0000"/>
<circle cx="516.29" cy="276.49" r="1" fill="#ff0000"/>
<circle cx="517.01" cy="275.55" r="1" fill="#ff0000"/>
<circle cx="517.72" cy="273.98" r="1" fill="#ff0000"/>
<circle cx="518.44" cy="272.84" r="1" fill="#ff0000"/>
<circle cx="520.58" cy="269.18" r="1" fill="#ff0000"/>
<circle cx="522.72" cy="265.42" r="1" fill="#ff0000"/>
<circle cx="524.86" cy="262.39" r="1" fill="#ff0000"/>
<circle cx="527.01" cy="259.78" r="1" fill="#ff0000"/>
<circle cx="529.15" cy="257.17" r="1" fill="#ff0000"/>
<circle cx="531.29" cy="254.24" r="1" fill="#ff0000"/>
<circle cx="533.43" cy="251.73" r="1" fill="#ff0000"/>
<circle cx="535.58" cy="249.96" r="1" fill="#ff0000"/>
<circle cx="537.72" cy="247.87" r="1" fill="#ff0000"/>
<circle cx="539.71" cy="246.02" r="1" fill="#ff0000"/>
<circle cx="541.9" cy="244.24" r="1" fill="#ff0000"/>
<circle cx="544.03" cy="242.76" r="1" fill="#ff0000"/>
<circle cx="546.23" cy="241.13" r="1" fill="#ff0000"/>
<circle cx="548.35" cy="239.5" r="1" fill="#ff0000"/>
<circle cx="550.55" cy="238.06" r="1" fill="#ff0000"/>
<circle cx="552.68" cy="236.43" r="1" fill="#ff0000"/>
<circle cx="554.87" cy="235.28" r="1" fill="#ff0000"/>
<circle cx="557" cy="233.84" r="1" fill="#ff0000"/>
<circle cx="559.2" cy="232.73" r="1" fill="#ff0000"/>
<circle cx="561.39" cy="231.58" r="1" fill="#ff0000"/>
<circle cx="563.52" cy="230.39" r="1" fill="#ff0000"/>
<circle cx="566.35" cy="228.9" r="1" fill="#ff0000"/>
<circle cx="568.62" cy="227.99" r="1" fill="#ff0000"/>
<circle cx="570.74" cy="227.08" r="1" fill="#ff0000"/>
<circle cx="572.94" cy="225.97" r="1" fill="#ff0000"/>
<circle cx="574.36" cy="225.26" r="1" fill="#ff0000"/>
<circle cx="577.21" cy="223.81" r="1" fill="#ff0000"/>
<circle cx="579.49" cy="222.89" r="1" fill="#ff0000"/>
<circle cx="582.21" cy="221.92" r="1" fill="#ff0000"/>
<circle cx="584.42" cy="220.91" r="1" fill="#ff0000"/>
<circle cx="586.56" cy="220.18" r="1" fill="#ff0000"/>
<circle cx="588.99" cy="219.4" r="1" fill="#ff0000"/>
<circle cx="591.35" cy="218.63" r="1" fill="#ff0000"/>
<circle cx="593.7" cy="217.81" r="1" fill="#ff0000"/>
<circle cx="595.99" cy="217.18" r="1" fill="#ff0000"/>
<circle cx="598.13" cy="216.59" r="1" fill="#ff0000"/>
<circle cx="600.2" cy="216.35" r="1" fill="#ff0000"/>
<circle cx="602.49" cy="215.19" r="1" fill="#ff0000"/>
<circle cx="604.77" cy="214.66" r="1" fill="#ff0000"/>
<circle cx="606.77" cy="214.08" r="1" fill="#ff0000"/>
<circle cx="608.91" cy="213.5" r="1" fill="#ff0000"/>
<circle cx="610.34" cy="213.06" r="1" fill="#ff0000"/>
<circle cx="613.05" cy="212.49" r="1" fill="#ff0000"/>
<circle cx="614.7" cy="212.09" r="1" fill="#ff0000"/>
<circle cx="617.41" cy="211.28" r="1" fill="#ff0000"/>
<circle cx="619.55" cy="210.98" r="1" fill="#ff0000"/>
<circle cx="621.84" cy="210.36" r="1" fill="#ff0000"/>
<circle cx="624.12" cy="209.87" r="1" fill="#ff0000"/>
<circle cx="626.19" cy="209.44" r="1" fill="#ff0000"/>
<circle cx="628.34" cy="208.95" r="1" fill="#ff0000"/>
<circle cx="630.48" cy="208.56" r="1" fill="#ff0000"/>
<circle cx="632.62" cy="208.17" r="1" fill="#ff0000"/>
<circle cx="634.91" cy="207.79" r="1" fill="#ff0000"/>
<circle cx="636.9" cy="207.35" r="1" fill="#ff0000"/>
<circle cx="639.05" cy="206.92" r="1" fill="#ff0000"/>
<circle cx="641.4" cy="206.58" r="1" fill="#ff0000"/>
<circle cx="644.05" cy="205.95" r="1" fill="#ff0000"/>
<circle cx="646.26" cy="205.47" r="1" fill="#ff0000"/>
<polyline points="503.73,316.81 504.44,315.66 505.15,314.72 505.87,313.58 506.58,312.11 507.3,310.65 508.01,308.46 508.73,305.85 509.44,302.92 510.15,298.22 510.87,293.1 511.58,288.82 512.3,287.77 513.01,286 513.72,284.33 514.44,283.28 515.15,281.19 515.87,279.1 516.58,277.43 517.29,276.49 518.01,274.92 518.72,273.78 520.86,270.12 523.01,266.36 525.15,263.33 527.29,260.72 529.43,258.11 531.58,255.18 533.72,252.67 535.86,250.9 538,248.81 540,246.96 542.19,245.18 544.32,243.7 546.51,242.07 548.64,240.44 550.84,239 552.96,237.37 555.16,236.22 557.28,234.78 559.48,233.67 561.68,232.52 563.8,231.33 566.64,229.84 568.9,228.93 571.03,228.02 573.23,226.91 574.64,226.2 577.49,224.75 579.78,223.83 582.49,222.86 584.7,221.85 586.85,221.12 589.27,220.34 591.63,219.57 593.99,218.75 596.27,218.12 598.41,217.53 600.49,217.29 602.77,216.13 605.06,215.6 607.06,215.02 609.2,214.44 610.63,214 613.34,213.43 614.98,213.03 617.7,212.22 619.84,211.92 622.12,211.3 624.41,210.81 626.48,210.38 628.62,209.89 630.76,209.5 632.91,209.11 635.19,208.73 637.19,208.29 639.33,207.86 641.69,207.52 644.33,206.89 646.54,206.41" fill="none" stroke="#5050ff" stroke-width="0.8" stroke-linejoin="round"/>
<circle cx="503.73" cy="316.81" r="1" fill="#0000ff"/>
<circle cx="504.44" cy="315.66" r="1" fill="#0000ff"/>
<circle cx="505.15" cy="314.72" r="1" fill="#0000ff"/>
<circle cx="505.87" cy="313.58" r="1" fill="#0000ff"/>
<circle cx="506.58" cy="312.11" r="1" fill="#0000ff"/>
<circle cx="507.3" cy="310.65" r="1" fill="#0000ff"/>
<circle cx="508.01" cy="308.46" r="1" fill="#0000ff"/>
<circle cx="508.73" cy="305.85" r="1" fill="#0000ff"/>
<circle cx="509.44" cy="302.92" r="1" fill="#0000ff"/>
<circle cx="510.15" cy="298.22" r="1" fill="#0000ff"/>
<circle cx="510.87" cy="293.1" r="1" fill="#0000ff"/>
<circle cx="511.58" cy="288.82" r="1" fill="#0000ff"/>
<circle cx="512.3" cy="287.77" r="1" fill="#0000ff"/>
<circle cx="513.01" cy="286" r="1" fill="#0000ff"/>
<circle cx="513.72" cy="284.33" r="1" fill="#0000ff"/>
<circle cx="514.44" cy="283.28" r="1" fill="#0000ff"/>
<circle cx="515.15" cy="281.19" r="1" fill="#0000ff"/>
<circle cx="515.87" cy="279.1" r="1" fill="#0000ff"/>
<circle cx="516.58" cy="277.43" r="1" fill="#0000ff"/>
<circle cx="517.29" cy="276.49" r="1" fill="#0000ff"/>
<circle cx="518.01" cy="274.92" r="1" fill="#0000ff"/>
<circle cx="518.72" cy="273.78" r="1" fill="#0000ff"/>
<circle cx="520.86" cy="270.12" r="1" fill="#0000ff"/>
<circle cx="523.01" cy="266.36" r="1" fill="#0000ff"/>
<circle cx="525.15" cy="263.33" r="1" fill="#0000ff"/>
<circle cx="527.29" cy="260.72" r="1" fill="#0000ff"/>
<circle cx="529.43" cy="258.11" r="1" fill="#0000ff"/>
<circle cx="531.58" cy="255.18" r="1" fill="#0000ff"/>
<circle cx="533.72" cy="252.67" r="1" fill="#0000ff"/>
<circle cx="535.86" cy="250.9" r="1" fill="#0000ff"/>
<circle cx="538" cy="248.81" r="1" fill="#0000ff"/>
<circle cx="540" cy="246.96" r="1" fill="#0000ff"/>
<circle cx="542.19" cy="245.18" r="1" fill="#0000ff"/>
<circle cx="544.32" cy="243.7" r="1" fill="#0000ff"/>
<circle cx="546.51" cy="242.07" r="1" fill="#0000ff"/>
<circle cx="548.64" cy="240.44" r="1" fill="#0000ff"/>
<circle cx="550.84" cy="239" r="1" fill="#0000ff"/>
<circle cx="552.96" cy="237.37" r="1" fill="#0000ff"/>
<circle cx="555.16" cy="236.22" r="1" fill="#0000ff"/>
<circle cx="557.28" cy="234.78" r="1" fill="#0000ff"/>
<circle cx="559.48" cy="233.67" r="1" fill="#0000ff"/>
<circle cx="561.68" cy="232.52" r="1" fill="#0000ff"/>
<circle cx="563.8" cy="231.33" r="1" fill="#0000ff"/>
<circle cx="566.64" cy="229.84" r="1" fill="#0000ff"/>
<circle cx="568.9" cy="228.93" r="1" fill="#0000ff"/>
<circle cx="571.03" cy="228.02" r="1" fill="#0000ff"/>
<circle cx="573.23" cy="226.91" r="1" fill="#0000ff"/>
<circle cx="574.64" cy="226.2" r="1" fill="#0000ff"/>
<circle cx="577.49" cy="224.75" r="1" fill="#0000ff"/>
<circle cx="579.78" cy="223.83" r="1" fill="#0000ff"/>
<circle cx="582.49" cy="222.86" r="1" fill="#0000ff"/>
<circle cx="584.7" cy="221.85" r="1" fill="#0000ff"/>
<circle cx="586.85" cy="221.12" r="1" fill="#0000ff"/>
<circle cx="589.27" cy="220.34" r="1" fill="#0000ff"/>
<circle cx="591.63" cy="219.57" r="1" fill="#0000ff"/>
<circle cx="593.99" cy="218.75" r="1" fill="#0000ff"/>
<circle cx="596.27" cy="218.12" r="1" fill="#0000ff"/>
<circle cx="598.41" cy="217.53" r="1" fill="#0000ff"/>
<circle cx="600.49" cy="217.29" r="1" fill="#0000ff"/>
<circle cx="602.77" cy="216.13" r="1" fill="#0000ff"/>
<circle cx="605.06" cy="215.6" r="1" fill="#0000ff"/>
<circle cx="607.06" cy="215.02" r="1" fill="#0000ff"/>
<circle cx="609.2" cy="214.44" r="1" fill="#0000ff"/>
<circle cx="610.63" cy="214" r="1" fill="#0000ff"/>
<circle cx="613.34" cy="213.43" r="1" fill="#0000ff"/>
<circle cx="614.98" cy="213.03" r="1" fill="#0000ff"/>
<circle cx="617.7" cy="212.22" r="1" fill="#0000ff"/>
<circle cx="619.84" cy="211.92" r="1" fill="#0000ff"/>
<circle cx="622.12" cy="211.3" r="1" fill="#0000ff"/>
<circle cx="624.41" cy="210.81" r="1" fill="#0000ff"/>
<circle cx="626.48" cy="210.38" r="1" fill="#0000ff"/>
<circle cx="628.62" cy="209.89" r="1" fill="#0000ff"/>
<circle cx="630.76" cy="209.5" r="1" fill="#0000ff"/>
<circle cx="632.91" cy="209.11" r="1" fill="#0000ff"/>
<circle cx="635.19" cy="208.73" r="1" fill="#0000ff"/>
<circle cx="637.19" cy="208.29" r="1" fill="#0000ff"/>
<circle cx="639.33" cy="207.86" r="1" fill="#0000ff"/>
<circle cx="641.69" cy="207.52" r="1" fill="#0000ff"/>
<circle cx="644.33" cy="206.89" r="1" fill="#0000ff"/>
<circle cx="646.54" cy="206.41" r="1" fill="#0000ff"/>
<line x1="496.3" y1="328.2" x2="653.4" y2="328.2" stroke="#000" stroke-width="1" stroke-linecap="square"/>
<line x1="496.3" y1="192.4" x2="496.3" y2="328.2" stroke="#000" stroke-width="1" stroke-linecap="square"/>
<line x1="496.3" y1="192.4" x2="653.4" y2="192.4" stroke="#000" stroke-width="1" stroke-linecap="square"/>
<line x1="653.4" y1="192.4" x2="653.4" y2="328.2" stroke="#000" stroke-width="1" stroke-linecap="square"/>
<text x="492.3" y="330.72" font-size="7" font-weight="bold" text-anchor="end">590</text>
<text x="492.3" y="320.27" font-size="7" font-weight="bold" text-anchor="end">600</text>
<text x="492.3" y="309.83" font-size="7" font-weight="bold" text-anchor="end">610</text>
<text x="492.3" y="299.38" font-size="7" font-weight="bold" text-anchor="end">620</text>
<text x="492.3" y="288.94" font-size="7" font-weight="bold" text-anchor="end">630</text>
<text x="492.3" y="278.49" font-size="7" font-weight="bold" text-anchor="end">640</text>
<text x="492.3" y="268.04" font-size="7" font-weight="bold" text-anchor="end">650</text>
<text x="492.3" y="257.6" font-size="7" font-weight="bold" text-anchor="end">660</text>
<text x="492.3" y="247.15" font-size="7" font-weight="bold" text-anchor="end">670</text>
<text x="492.3" y="236.7" font-size="7" font-weight="bold" text-anchor="end">680</text>
<text x="492.3" y="226.26" font-size="7" font-weight="bold" text-anchor="end">690</text>
<text x="492.3" y="215.81" font-size="7" font-weight="bold" text-anchor="end">700</text>
<text x="492.3" y="205.37" font-size="7" font-weight="bold" text-anchor="end">710</text>
<text x="492.3" y="194.92" font-size="7" font-weight="bold" text-anchor="end">720</text>
<text x="505.24" y="332.9" font-size="6.7" font-weight="bold" text-anchor="end" dominant-baseline="central" transform="rotate(-45 505.24 332.9)">0</text>
<text x="519.52" y="332.9" font-size="6.7" font-weight="bold" text-anchor="end" dominant-baseline="central" transform="rotate(-45 519.52 332.9)">2</text>
<text x="533.8" y="332.9" font-size="6.7" font-weight="bold" text-anchor="end" dominant-baseline="central" transform="rotate(-45 533.8 332.9)">4</text>
<text x="548.09" y="332.9" font-size="6.7" font-weight="bold" text-anchor="end" dominant-baseline="central" transform="rotate(-45 548.09 332.9)">6</text>
<text x="562.37" y="332.9" font-size="6.7" font-weight="bold" text-anchor="end" dominant-baseline="central" transform="rotate(-45 562.37 332.9)">8</text>
<text x="576.65" y="332.9" font-size="6.7" font-weight="bold" text-anchor="end" dominant-baseline="central" transform="rotate(-45 576.65 332.9)">10</text>
<text x="590.93" y="332.9" font-size="6.7" font-weight="bold" text-anchor="end" dominant-baseline="central" transform="rotate(-45 590.93 332.9)">12</text>
<text x="605.21" y="332.9" font-size="6.7" font-weight="bold" text-anchor="end" dominant-baseline="central" transform="rotate(-45 605.21 332.9)">14</text>
<text x="619.5" y="332.9" font-size="6.7" font-weight="bold" text-anchor="end" dominant-baseline="central" transform="rotate(-45 619.5 332.9)">16</text>
<text x="633.78" y="332.9" font-size="6.7" font-weight="bold" text-anchor="end" dominant-baseline="central" transform="rotate(-45 633.78 332.9)">18</text>
<text x="648.06" y="332.9" font-size="6.7" font-weight="bold" text-anchor="end" dominant-baseline="central" transform="rotate(-45 648.06 332.9)">20</text>
<text x="474.8" y="260.3" font-size="7.2" font-weight="bold" text-anchor="middle" transform="rotate(-90 474.8 260.3)">Capacitance (pF)</text>
<text x="575" y="349.6" font-size="7.2" font-weight="bold" text-anchor="middle">Pressure (MPa)</text>
<rect x="503.6" y="198.2" width="24" height="26.3" fill="#fff" stroke="#444" stroke-width="0.8"/>
<line x1="504.1" y1="202.6" x2="520" y2="202.6" stroke="#999" stroke-width="1"/>
<circle cx="512.2" cy="202.6" r="0.9" fill="#000"/>
<text x="522.2" y="205" font-size="6.6" font-weight="bold">A</text>
<line x1="504.1" y1="211.2" x2="520" y2="211.2" stroke="#ff0000" stroke-width="0.8"/>
<circle cx="512.2" cy="211.2" r="0.95" fill="#ff0000"/>
<text x="522.2" y="213.6" font-size="6.6" font-weight="bold" fill="#ff0000">B</text>
<line x1="504.1" y1="219.6" x2="520" y2="219.6" stroke="#7a7aff" stroke-width="1"/>
<circle cx="512.2" cy="219.6" r="0.95" fill="#0000ff"/>
<text x="522.2" y="222" font-size="6.6" font-weight="bold" fill="#0000ff">C</text>
<text x="467.2" y="193" font-size="14.5" font-weight="bold">f</text>
<defs>
<linearGradient id="barg" x1="0" y1="0" x2="0" y2="1"><stop offset="0" stop-color="#f3f4f5"/><stop offset="0.6" stop-color="#eeeff1"/><stop offset="0.88" stop-color="#e2e4e7"/><stop offset="1" stop-color="#c9ccd0"/></linearGradient>
<linearGradient id="bgg" x1="0" y1="0" x2="0" y2="1"><stop offset="0" stop-color="#f0f0f0"/><stop offset="1" stop-color="#fafafa"/></linearGradient>
<linearGradient id="silv" x1="0" y1="0" x2="0" y2="1"><stop offset="0" stop-color="#8a9096"/><stop offset="0.45" stop-color="#e6e8ea"/><stop offset="1" stop-color="#7a8086"/></linearGradient>
</defs>
<rect x="566.4" y="257.4" width="79.6" height="59.3" fill="url(#bgg)" stroke="#3a3a3a" stroke-width="0.8"/>
<path d="M566.6,278 C568,274 570,271.5 575,270.8" fill="none" stroke="#a81c2c" stroke-width="2.6"/>
<path d="M566.6,288.5 C568.5,286 570.5,284.5 574.5,284.3" fill="none" stroke="#a81c2c" stroke-width="2.3"/>
<path d="M566.6,303 C568.5,301 570.5,300 575,299.8" fill="none" stroke="#a81c2c" stroke-width="2.3"/>
<path d="M634.5,270.8 C640,271.5 642.5,276 645.8,279.5" fill="none" stroke="#141414" stroke-width="2.8"/>
<path d="M635.5,285.5 C640,286 642.5,289.5 645.8,292" fill="none" stroke="#141414" stroke-width="2.6"/>
<path d="M638.5,300 C641,299.5 643.5,297.5 645.8,296" fill="none" stroke="#141414" stroke-width="2.6"/>
<rect x="574.3" y="262.9" width="61.3" height="15.4" rx="2.6" fill="url(#barg)" stroke="#d4d7da" stroke-width="0.6"/>
<rect x="578.2" y="267.4" width="53.2" height="7.2" rx="0.6" fill="#d3d6d9" stroke="#a3a8ad" stroke-width="0.5"/>
<rect x="588" y="268.2" width="41.9" height="5.6" fill="#168c4a"/>
<rect x="578.8" y="269.4" width="9" height="3.8" fill="#c01e32"/>
<rect x="587.2" y="268.4" width="4.2" height="5.2" rx="0.8" fill="url(#silv)"/>
<rect x="601" y="267.9" width="12.5" height="6.2" fill="#efeeea"/>
<rect x="601" y="267.9" width="12.5" height="1.8" fill="#50505a"/>
<rect x="619.5" y="268.3" width="5.6" height="5.4" rx="0.8" fill="url(#silv)"/>
<rect x="625.8" y="269" width="5.2" height="4" fill="#0c0c0c"/>
<text x="593.3" y="273.4" font-family="Liberation Serif" font-size="7.6" font-weight="bold" fill="#f01818">A</text>
<rect x="573.1" y="278.7" width="63.1" height="13.5" rx="2.6" fill="url(#barg)" stroke="#d4d7da" stroke-width="0.6"/>
<rect x="577" y="281.7" width="55" height="7.2" rx="0.6" fill="#d3d6d9" stroke="#a3a8ad" stroke-width="0.5"/>
<rect x="588" y="282.5" width="42.5" height="5.6" fill="#168c4a"/>
<rect x="577.6" y="283.7" width="10.2" height="3.8" fill="#c01e32"/>
<rect x="587.2" y="282.7" width="4.2" height="5.2" rx="0.8" fill="url(#silv)"/>
<rect x="601" y="282.2" width="12.5" height="6.2" fill="#393b46"/>
<path d="M603.5,282.2 V288.4 M606,282.2 V288.4 M608.5,282.2 V288.4 M611,282.2 V288.4 M601,285.3 H613.5" stroke="#62646f" stroke-width="0.5"/><rect x="612.6" y="282.2" width="1.6" height="6.2" fill="#ececec"/>
<rect x="619.5" y="282.6" width="5.6" height="5.4" rx="0.8" fill="url(#silv)"/>
<rect x="625.8" y="283.3" width="5.8" height="4" fill="#0c0c0c"/>
<text x="593.3" y="287.7" font-family="Liberation Serif" font-size="7.6" font-weight="bold" fill="#f01818">B</text>
<rect x="574" y="293.7" width="65.8" height="16.9" rx="2.6" fill="url(#barg)" stroke="#d4d7da" stroke-width="0.6"/>
<rect x="577" y="296.7" width="58.6" height="7.2" rx="0.6" fill="#d3d6d9" stroke="#a3a8ad" stroke-width="0.5"/>
<rect x="588" y="297.5" width="46.1" height="5.6" fill="#168c4a"/>
<rect x="577.6" y="298.7" width="10.2" height="3.8" fill="#c01e32"/>
<rect x="587.2" y="297.7" width="4.2" height="5.2" rx="0.8" fill="url(#silv)"/>
<rect x="601" y="297.2" width="12.5" height="6.2" fill="#74524f"/>
<path d="M601,298.4 H613.5 M601,300.2 H613.5 M601,302 H613.5" stroke="#a87a74" stroke-width="0.6"/>
<rect x="619.5" y="297.6" width="5.6" height="5.4" rx="0.8" fill="url(#silv)"/>
<rect x="625.8" y="298.3" width="9.4" height="4" fill="#0c0c0c"/>
<text x="593.3" y="302.7" font-family="Liberation Serif" font-size="7.6" font-weight="bold" fill="#f01818">C</text>
<line x1="50.02" y1="378" x2="50.02" y2="505.3" stroke="#ececec" stroke-width="0.5"/>
<line x1="63.83" y1="378" x2="63.83" y2="505.3" stroke="#ececec" stroke-width="0.5"/>
<line x1="77.65" y1="378" x2="77.65" y2="505.3" stroke="#ececec" stroke-width="0.5"/>
<line x1="91.47" y1="378" x2="91.47" y2="505.3" stroke="#ececec" stroke-width="0.5"/>
<line x1="105.28" y1="378" x2="105.28" y2="505.3" stroke="#ececec" stroke-width="0.5"/>
<line x1="119.1" y1="378" x2="119.1" y2="505.3" stroke="#ececec" stroke-width="0.5"/>
<line x1="132.92" y1="378" x2="132.92" y2="505.3" stroke="#ececec" stroke-width="0.5"/>
<line x1="146.73" y1="378" x2="146.73" y2="505.3" stroke="#ececec" stroke-width="0.5"/>
<line x1="160.55" y1="378" x2="160.55" y2="505.3" stroke="#ececec" stroke-width="0.5"/>
<line x1="174.37" y1="378" x2="174.37" y2="505.3" stroke="#ececec" stroke-width="0.5"/>
<line x1="188.18" y1="378" x2="188.18" y2="505.3" stroke="#ececec" stroke-width="0.5"/>
<line x1="36.2" y1="489.39" x2="202" y2="489.39" stroke="#ececec" stroke-width="0.5"/>
<line x1="36.2" y1="473.48" x2="202" y2="473.48" stroke="#ececec" stroke-width="0.5"/>
<line x1="36.2" y1="457.56" x2="202" y2="457.56" stroke="#ececec" stroke-width="0.5"/>
<line x1="36.2" y1="441.65" x2="202" y2="441.65" stroke="#ececec" stroke-width="0.5"/>
<line x1="36.2" y1="425.74" x2="202" y2="425.74" stroke="#ececec" stroke-width="0.5"/>
<line x1="36.2" y1="409.82" x2="202" y2="409.82" stroke="#ececec" stroke-width="0.5"/>
<line x1="36.2" y1="393.91" x2="202" y2="393.91" stroke="#ececec" stroke-width="0.5"/>
<line x1="50.02" y1="378" x2="50.02" y2="505.3" stroke="#dadada" stroke-width="0.7"/>
<line x1="77.65" y1="378" x2="77.65" y2="505.3" stroke="#dadada" stroke-width="0.7"/>
<line x1="105.28" y1="378" x2="105.28" y2="505.3" stroke="#dadada" stroke-width="0.7"/>
<line x1="132.92" y1="378" x2="132.92" y2="505.3" stroke="#dadada" stroke-width="0.7"/>
<line x1="160.55" y1="378" x2="160.55" y2="505.3" stroke="#dadada" stroke-width="0.7"/>
<line x1="188.18" y1="378" x2="188.18" y2="505.3" stroke="#dadada" stroke-width="0.7"/>
<line x1="36.2" y1="489.39" x2="202" y2="489.39" stroke="#dadada" stroke-width="0.7"/>
<line x1="36.2" y1="457.56" x2="202" y2="457.56" stroke="#dadada" stroke-width="0.7"/>
<line x1="36.2" y1="425.74" x2="202" y2="425.74" stroke="#dadada" stroke-width="0.7"/>
<line x1="36.2" y1="393.91" x2="202" y2="393.91" stroke="#dadada" stroke-width="0.7"/>
<line x1="50.02" y1="505.3" x2="50.02" y2="502.9" stroke="#000" stroke-width="0.8"/>
<line x1="50.02" y1="378" x2="50.02" y2="380.4" stroke="#000" stroke-width="0.8"/>
<line x1="77.65" y1="505.3" x2="77.65" y2="502.9" stroke="#000" stroke-width="0.8"/>
<line x1="77.65" y1="378" x2="77.65" y2="380.4" stroke="#000" stroke-width="0.8"/>
<line x1="105.28" y1="505.3" x2="105.28" y2="502.9" stroke="#000" stroke-width="0.8"/>
<line x1="105.28" y1="378" x2="105.28" y2="380.4" stroke="#000" stroke-width="0.8"/>
<line x1="132.92" y1="505.3" x2="132.92" y2="502.9" stroke="#000" stroke-width="0.8"/>
<line x1="132.92" y1="378" x2="132.92" y2="380.4" stroke="#000" stroke-width="0.8"/>
<line x1="160.55" y1="505.3" x2="160.55" y2="502.9" stroke="#000" stroke-width="0.8"/>
<line x1="160.55" y1="378" x2="160.55" y2="380.4" stroke="#000" stroke-width="0.8"/>
<line x1="188.18" y1="505.3" x2="188.18" y2="502.9" stroke="#000" stroke-width="0.8"/>
<line x1="188.18" y1="378" x2="188.18" y2="380.4" stroke="#000" stroke-width="0.8"/>
<line x1="36.2" y1="505.3" x2="36.2" y2="503.9" stroke="#000" stroke-width="0.8"/>
<line x1="36.2" y1="378" x2="36.2" y2="379.4" stroke="#000" stroke-width="0.8"/>
<line x1="50.02" y1="505.3" x2="50.02" y2="503.9" stroke="#000" stroke-width="0.8"/>
<line x1="50.02" y1="378" x2="50.02" y2="379.4" stroke="#000" stroke-width="0.8"/>
<line x1="63.83" y1="505.3" x2="63.83" y2="503.9" stroke="#000" stroke-width="0.8"/>
<line x1="63.83" y1="378" x2="63.83" y2="379.4" stroke="#000" stroke-width="0.8"/>
<line x1="77.65" y1="505.3" x2="77.65" y2="503.9" stroke="#000" stroke-width="0.8"/>
<line x1="77.65" y1="378" x2="77.65" y2="379.4" stroke="#000" stroke-width="0.8"/>
<line x1="91.47" y1="505.3" x2="91.47" y2="503.9" stroke="#000" stroke-width="0.8"/>
<line x1="91.47" y1="378" x2="91.47" y2="379.4" stroke="#000" stroke-width="0.8"/>
<line x1="105.28" y1="505.3" x2="105.28" y2="503.9" stroke="#000" stroke-width="0.8"/>
<line x1="105.28" y1="378" x2="105.28" y2="379.4" stroke="#000" stroke-width="0.8"/>
<line x1="119.1" y1="505.3" x2="119.1" y2="503.9" stroke="#000" stroke-width="0.8"/>
<line x1="119.1" y1="378" x2="119.1" y2="379.4" stroke="#000" stroke-width="0.8"/>
<line x1="132.92" y1="505.3" x2="132.92" y2="503.9" stroke="#000" stroke-width="0.8"/>
<line x1="132.92" y1="378" x2="132.92" y2="379.4" stroke="#000" stroke-width="0.8"/>
<line x1="146.73" y1="505.3" x2="146.73" y2="503.9" stroke="#000" stroke-width="0.8"/>
<line x1="146.73" y1="378" x2="146.73" y2="379.4" stroke="#000" stroke-width="0.8"/>
<line x1="160.55" y1="505.3" x2="160.55" y2="503.9" stroke="#000" stroke-width="0.8"/>
<line x1="160.55" y1="378" x2="160.55" y2="379.4" stroke="#000" stroke-width="0.8"/>
<line x1="174.37" y1="505.3" x2="174.37" y2="503.9" stroke="#000" stroke-width="0.8"/>
<line x1="174.37" y1="378" x2="174.37" y2="379.4" stroke="#000" stroke-width="0.8"/>
<line x1="188.18" y1="505.3" x2="188.18" y2="503.9" stroke="#000" stroke-width="0.8"/>
<line x1="188.18" y1="378" x2="188.18" y2="379.4" stroke="#000" stroke-width="0.8"/>
<line x1="202" y1="505.3" x2="202" y2="503.9" stroke="#000" stroke-width="0.8"/>
<line x1="202" y1="378" x2="202" y2="379.4" stroke="#000" stroke-width="0.8"/>
<line x1="36.2" y1="489.39" x2="38.6" y2="489.39" stroke="#000" stroke-width="0.8"/>
<line x1="202" y1="489.39" x2="199.6" y2="489.39" stroke="#000" stroke-width="0.8"/>
<line x1="36.2" y1="457.56" x2="38.6" y2="457.56" stroke="#000" stroke-width="0.8"/>
<line x1="202" y1="457.56" x2="199.6" y2="457.56" stroke="#000" stroke-width="0.8"/>
<line x1="36.2" y1="425.74" x2="38.6" y2="425.74" stroke="#000" stroke-width="0.8"/>
<line x1="202" y1="425.74" x2="199.6" y2="425.74" stroke="#000" stroke-width="0.8"/>
<line x1="36.2" y1="393.91" x2="38.6" y2="393.91" stroke="#000" stroke-width="0.8"/>
<line x1="202" y1="393.91" x2="199.6" y2="393.91" stroke="#000" stroke-width="0.8"/>
<line x1="36.2" y1="505.3" x2="37.6" y2="505.3" stroke="#000" stroke-width="0.8"/>
<line x1="202" y1="505.3" x2="200.6" y2="505.3" stroke="#000" stroke-width="0.8"/>
<line x1="36.2" y1="489.39" x2="37.6" y2="489.39" stroke="#000" stroke-width="0.8"/>
<line x1="202" y1="489.39" x2="200.6" y2="489.39" stroke="#000" stroke-width="0.8"/>
<line x1="36.2" y1="473.48" x2="37.6" y2="473.48" stroke="#000" stroke-width="0.8"/>
<line x1="202" y1="473.48" x2="200.6" y2="473.48" stroke="#000" stroke-width="0.8"/>
<line x1="36.2" y1="457.56" x2="37.6" y2="457.56" stroke="#000" stroke-width="0.8"/>
<line x1="202" y1="457.56" x2="200.6" y2="457.56" stroke="#000" stroke-width="0.8"/>
<line x1="36.2" y1="441.65" x2="37.6" y2="441.65" stroke="#000" stroke-width="0.8"/>
<line x1="202" y1="441.65" x2="200.6" y2="441.65" stroke="#000" stroke-width="0.8"/>
<line x1="36.2" y1="425.74" x2="37.6" y2="425.74" stroke="#000" stroke-width="0.8"/>
<line x1="202" y1="425.74" x2="200.6" y2="425.74" stroke="#000" stroke-width="0.8"/>
<line x1="36.2" y1="409.82" x2="37.6" y2="409.82" stroke="#000" stroke-width="0.8"/>
<line x1="202" y1="409.82" x2="200.6" y2="409.82" stroke="#000" stroke-width="0.8"/>
<line x1="36.2" y1="393.91" x2="37.6" y2="393.91" stroke="#000" stroke-width="0.8"/>
<line x1="202" y1="393.91" x2="200.6" y2="393.91" stroke="#000" stroke-width="0.8"/>
<line x1="36.2" y1="378" x2="37.6" y2="378" stroke="#000" stroke-width="0.8"/>
<line x1="202" y1="378" x2="200.6" y2="378" stroke="#000" stroke-width="0.8"/>
<line x1="50.02" y1="494.16" x2="188.18" y2="401.15" stroke="#0000ff" stroke-width="1.1"/>
<rect x="48.62" y="489.58" width="2.8" height="2.8" fill="#ff0000"/>
<rect x="76.25" y="472.08" width="2.8" height="2.8" fill="#ff0000"/>
<rect x="103.88" y="457.75" width="2.8" height="2.8" fill="#ff0000"/>
<rect x="131.52" y="440.25" width="2.8" height="2.8" fill="#ff0000"/>
<rect x="159.15" y="417.97" width="2.8" height="2.8" fill="#ff0000"/>
<rect x="186.78" y="395.7" width="2.8" height="2.8" fill="#ff0000"/>
<line x1="36.2" y1="505.3" x2="202" y2="505.3" stroke="#444" stroke-width="1.4" stroke-linecap="square"/>
<line x1="36.2" y1="378" x2="36.2" y2="505.3" stroke="#444" stroke-width="1.4" stroke-linecap="square"/>
<line x1="36.2" y1="378" x2="202" y2="378" stroke="#444" stroke-width="1.4" stroke-linecap="square"/>
<line x1="202" y1="378" x2="202" y2="505.3" stroke="#444" stroke-width="1.4" stroke-linecap="square"/>
<text x="32.2" y="491.91" font-size="7" stroke="#000" stroke-width="0.22" text-anchor="end" textLength="11.5" lengthAdjust="spacingAndGlyphs">602</text>
<text x="32.2" y="460.08" font-size="7" stroke="#000" stroke-width="0.22" text-anchor="end" textLength="11.5" lengthAdjust="spacingAndGlyphs">604</text>
<text x="32.2" y="428.26" font-size="7" stroke="#000" stroke-width="0.22" text-anchor="end" textLength="11.5" lengthAdjust="spacingAndGlyphs">606</text>
<text x="32.2" y="396.43" font-size="7" stroke="#000" stroke-width="0.22" text-anchor="end" textLength="11.5" lengthAdjust="spacingAndGlyphs">608</text>
<text x="52.02" y="511.1" font-size="7.2" stroke="#000" stroke-width="0.22" text-anchor="end" dominant-baseline="central" transform="rotate(-45 52.02 511.1)">0.0</text>
<text x="79.65" y="511.1" font-size="7.2" stroke="#000" stroke-width="0.22" text-anchor="end" dominant-baseline="central" transform="rotate(-45 79.65 511.1)">0.1</text>
<text x="107.28" y="511.1" font-size="7.2" stroke="#000" stroke-width="0.22" text-anchor="end" dominant-baseline="central" transform="rotate(-45 107.28 511.1)">0.2</text>
<text x="134.92" y="511.1" font-size="7.2" stroke="#000" stroke-width="0.22" text-anchor="end" dominant-baseline="central" transform="rotate(-45 134.92 511.1)">0.3</text>
<text x="162.55" y="511.1" font-size="7.2" stroke="#000" stroke-width="0.22" text-anchor="end" dominant-baseline="central" transform="rotate(-45 162.55 511.1)">0.4</text>
<text x="190.18" y="511.1" font-size="7.2" stroke="#000" stroke-width="0.22" text-anchor="end" dominant-baseline="central" transform="rotate(-45 190.18 511.1)">0.5</text>
<text x="13.9" y="441.65" font-size="7.2" font-weight="bold" text-anchor="middle" transform="rotate(-90 13.9 441.65)">Capacitance (pF)</text>
<text x="118.7" y="529" font-size="7.2" font-weight="bold" text-anchor="middle">Pressure (MPa)</text>
<rect x="38.9" y="381.4" width="73.7" height="22.8" fill="#fff" stroke="#444" stroke-width="0.8"/>
<rect x="49" y="386.2" width="2.6" height="2.6" fill="#ff0000"/>
<text x="63" y="389.6" font-size="5.8" font-weight="bold" fill="#ff0000" textLength="20.5" lengthAdjust="spacingAndGlyphs">Testing</text>
<line x1="39.6" y1="398" x2="59.2" y2="398" stroke="#0000ff" stroke-width="1.1"/>
<text x="63" y="400.1" font-size="5.8" font-weight="bold" fill="#0000ff" textLength="35.2" lengthAdjust="spacingAndGlyphs">Linear fitting</text>
<text x="123.6" y="390.8" font-size="5.8" font-weight="bold" fill="#ff0000" textLength="26.5" lengthAdjust="spacingAndGlyphs">0-0.5 MPa</text>
<text x="138.3" y="464.6" font-size="5.6" font-weight="bold" fill="#0000ff" textLength="48.7" lengthAdjust="spacingAndGlyphs"><tspan font-style="italic">y</tspan> = 601.7 + 11.69<tspan font-style="italic">x</tspan></text>
<text x="138.3" y="475.6" font-size="5.6" font-weight="bold" fill="#0000ff" textLength="34" lengthAdjust="spacingAndGlyphs"><tspan font-style="italic">R</tspan><tspan font-size="3.6" dy="-2">2</tspan><tspan dy="2"> = 0.99117</tspan></text>
<line x1="277.21" y1="378.4" x2="277.21" y2="505" stroke="#ececec" stroke-width="0.5"/>
<line x1="288.81" y1="378.4" x2="288.81" y2="505" stroke="#ececec" stroke-width="0.5"/>
<line x1="300.42" y1="378.4" x2="300.42" y2="505" stroke="#ececec" stroke-width="0.5"/>
<line x1="312.03" y1="378.4" x2="312.03" y2="505" stroke="#ececec" stroke-width="0.5"/>
<line x1="323.64" y1="378.4" x2="323.64" y2="505" stroke="#ececec" stroke-width="0.5"/>
<line x1="335.24" y1="378.4" x2="335.24" y2="505" stroke="#ececec" stroke-width="0.5"/>
<line x1="346.85" y1="378.4" x2="346.85" y2="505" stroke="#ececec" stroke-width="0.5"/>
<line x1="358.46" y1="378.4" x2="358.46" y2="505" stroke="#ececec" stroke-width="0.5"/>
<line x1="370.06" y1="378.4" x2="370.06" y2="505" stroke="#ececec" stroke-width="0.5"/>
<line x1="381.67" y1="378.4" x2="381.67" y2="505" stroke="#ececec" stroke-width="0.5"/>
<line x1="393.28" y1="378.4" x2="393.28" y2="505" stroke="#ececec" stroke-width="0.5"/>
<line x1="404.89" y1="378.4" x2="404.89" y2="505" stroke="#ececec" stroke-width="0.5"/>
<line x1="416.49" y1="378.4" x2="416.49" y2="505" stroke="#ececec" stroke-width="0.5"/>
<line x1="265.6" y1="499.94" x2="428.1" y2="499.94" stroke="#ececec" stroke-width="0.5"/>
<line x1="265.6" y1="494.87" x2="428.1" y2="494.87" stroke="#ececec" stroke-width="0.5"/>
<line x1="265.6" y1="489.81" x2="428.1" y2="489.81" stroke="#ececec" stroke-width="0.5"/>
<line x1="265.6" y1="484.74" x2="428.1" y2="484.74" stroke="#ececec" stroke-width="0.5"/>
<line x1="265.6" y1="479.68" x2="428.1" y2="479.68" stroke="#ececec" stroke-width="0.5"/>
<line x1="265.6" y1="474.62" x2="428.1" y2="474.62" stroke="#ececec" stroke-width="0.5"/>
<line x1="265.6" y1="469.55" x2="428.1" y2="469.55" stroke="#ececec" stroke-width="0.5"/>
<line x1="265.6" y1="464.49" x2="428.1" y2="464.49" stroke="#ececec" stroke-width="0.5"/>
<line x1="265.6" y1="459.42" x2="428.1" y2="459.42" stroke="#ececec" stroke-width="0.5"/>
<line x1="265.6" y1="454.36" x2="428.1" y2="454.36" stroke="#ececec" stroke-width="0.5"/>
<line x1="265.6" y1="449.3" x2="428.1" y2="449.3" stroke="#ececec" stroke-width="0.5"/>
<line x1="265.6" y1="444.23" x2="428.1" y2="444.23" stroke="#ececec" stroke-width="0.5"/>
<line x1="265.6" y1="439.17" x2="428.1" y2="439.17" stroke="#ececec" stroke-width="0.5"/>
<line x1="265.6" y1="434.1" x2="428.1" y2="434.1" stroke="#ececec" stroke-width="0.5"/>
<line x1="265.6" y1="429.04" x2="428.1" y2="429.04" stroke="#ececec" stroke-width="0.5"/>
<line x1="265.6" y1="423.98" x2="428.1" y2="423.98" stroke="#ececec" stroke-width="0.5"/>
<line x1="265.6" y1="418.91" x2="428.1" y2="418.91" stroke="#ececec" stroke-width="0.5"/>
<line x1="265.6" y1="413.85" x2="428.1" y2="413.85" stroke="#ececec" stroke-width="0.5"/>
<line x1="265.6" y1="408.78" x2="428.1" y2="408.78" stroke="#ececec" stroke-width="0.5"/>
<line x1="265.6" y1="403.72" x2="428.1" y2="403.72" stroke="#ececec" stroke-width="0.5"/>
<line x1="265.6" y1="398.66" x2="428.1" y2="398.66" stroke="#ececec" stroke-width="0.5"/>
<line x1="265.6" y1="393.59" x2="428.1" y2="393.59" stroke="#ececec" stroke-width="0.5"/>
<line x1="265.6" y1="388.53" x2="428.1" y2="388.53" stroke="#ececec" stroke-width="0.5"/>
<line x1="265.6" y1="383.46" x2="428.1" y2="383.46" stroke="#ececec" stroke-width="0.5"/>
<line x1="277.21" y1="378.4" x2="277.21" y2="505" stroke="#dadada" stroke-width="0.7"/>
<line x1="300.42" y1="378.4" x2="300.42" y2="505" stroke="#dadada" stroke-width="0.7"/>
<line x1="323.64" y1="378.4" x2="323.64" y2="505" stroke="#dadada" stroke-width="0.7"/>
<line x1="346.85" y1="378.4" x2="346.85" y2="505" stroke="#dadada" stroke-width="0.7"/>
<line x1="370.06" y1="378.4" x2="370.06" y2="505" stroke="#dadada" stroke-width="0.7"/>
<line x1="393.28" y1="378.4" x2="393.28" y2="505" stroke="#dadada" stroke-width="0.7"/>
<line x1="416.49" y1="378.4" x2="416.49" y2="505" stroke="#dadada" stroke-width="0.7"/>
<line x1="265.6" y1="499.94" x2="428.1" y2="499.94" stroke="#dadada" stroke-width="0.7"/>
<line x1="265.6" y1="489.81" x2="428.1" y2="489.81" stroke="#dadada" stroke-width="0.7"/>
<line x1="265.6" y1="479.68" x2="428.1" y2="479.68" stroke="#dadada" stroke-width="0.7"/>
<line x1="265.6" y1="469.55" x2="428.1" y2="469.55" stroke="#dadada" stroke-width="0.7"/>
<line x1="265.6" y1="459.42" x2="428.1" y2="459.42" stroke="#dadada" stroke-width="0.7"/>
<line x1="265.6" y1="449.3" x2="428.1" y2="449.3" stroke="#dadada" stroke-width="0.7"/>
<line x1="265.6" y1="439.17" x2="428.1" y2="439.17" stroke="#dadada" stroke-width="0.7"/>
<line x1="265.6" y1="429.04" x2="428.1" y2="429.04" stroke="#dadada" stroke-width="0.7"/>
<line x1="265.6" y1="418.91" x2="428.1" y2="418.91" stroke="#dadada" stroke-width="0.7"/>
<line x1="265.6" y1="408.78" x2="428.1" y2="408.78" stroke="#dadada" stroke-width="0.7"/>
<line x1="265.6" y1="398.66" x2="428.1" y2="398.66" stroke="#dadada" stroke-width="0.7"/>
<line x1="265.6" y1="388.53" x2="428.1" y2="388.53" stroke="#dadada" stroke-width="0.7"/>
<line x1="277.21" y1="505" x2="277.21" y2="502.6" stroke="#000" stroke-width="0.8"/>
<line x1="277.21" y1="378.4" x2="277.21" y2="380.8" stroke="#000" stroke-width="0.8"/>
<line x1="300.42" y1="505" x2="300.42" y2="502.6" stroke="#000" stroke-width="0.8"/>
<line x1="300.42" y1="378.4" x2="300.42" y2="380.8" stroke="#000" stroke-width="0.8"/>
<line x1="323.64" y1="505" x2="323.64" y2="502.6" stroke="#000" stroke-width="0.8"/>
<line x1="323.64" y1="378.4" x2="323.64" y2="380.8" stroke="#000" stroke-width="0.8"/>
<line x1="346.85" y1="505" x2="346.85" y2="502.6" stroke="#000" stroke-width="0.8"/>
<line x1="346.85" y1="378.4" x2="346.85" y2="380.8" stroke="#000" stroke-width="0.8"/>
<line x1="370.06" y1="505" x2="370.06" y2="502.6" stroke="#000" stroke-width="0.8"/>
<line x1="370.06" y1="378.4" x2="370.06" y2="380.8" stroke="#000" stroke-width="0.8"/>
<line x1="393.28" y1="505" x2="393.28" y2="502.6" stroke="#000" stroke-width="0.8"/>
<line x1="393.28" y1="378.4" x2="393.28" y2="380.8" stroke="#000" stroke-width="0.8"/>
<line x1="416.49" y1="505" x2="416.49" y2="502.6" stroke="#000" stroke-width="0.8"/>
<line x1="416.49" y1="378.4" x2="416.49" y2="380.8" stroke="#000" stroke-width="0.8"/>
<line x1="265.6" y1="505" x2="265.6" y2="503.6" stroke="#000" stroke-width="0.8"/>
<line x1="265.6" y1="378.4" x2="265.6" y2="379.8" stroke="#000" stroke-width="0.8"/>
<line x1="277.21" y1="505" x2="277.21" y2="503.6" stroke="#000" stroke-width="0.8"/>
<line x1="277.21" y1="378.4" x2="277.21" y2="379.8" stroke="#000" stroke-width="0.8"/>
<line x1="288.81" y1="505" x2="288.81" y2="503.6" stroke="#000" stroke-width="0.8"/>
<line x1="288.81" y1="378.4" x2="288.81" y2="379.8" stroke="#000" stroke-width="0.8"/>
<line x1="300.42" y1="505" x2="300.42" y2="503.6" stroke="#000" stroke-width="0.8"/>
<line x1="300.42" y1="378.4" x2="300.42" y2="379.8" stroke="#000" stroke-width="0.8"/>
<line x1="312.03" y1="505" x2="312.03" y2="503.6" stroke="#000" stroke-width="0.8"/>
<line x1="312.03" y1="378.4" x2="312.03" y2="379.8" stroke="#000" stroke-width="0.8"/>
<line x1="323.64" y1="505" x2="323.64" y2="503.6" stroke="#000" stroke-width="0.8"/>
<line x1="323.64" y1="378.4" x2="323.64" y2="379.8" stroke="#000" stroke-width="0.8"/>
<line x1="335.24" y1="505" x2="335.24" y2="503.6" stroke="#000" stroke-width="0.8"/>
<line x1="335.24" y1="378.4" x2="335.24" y2="379.8" stroke="#000" stroke-width="0.8"/>
<line x1="346.85" y1="505" x2="346.85" y2="503.6" stroke="#000" stroke-width="0.8"/>
<line x1="346.85" y1="378.4" x2="346.85" y2="379.8" stroke="#000" stroke-width="0.8"/>
<line x1="358.46" y1="505" x2="358.46" y2="503.6" stroke="#000" stroke-width="0.8"/>
<line x1="358.46" y1="378.4" x2="358.46" y2="379.8" stroke="#000" stroke-width="0.8"/>
<line x1="370.06" y1="505" x2="370.06" y2="503.6" stroke="#000" stroke-width="0.8"/>
<line x1="370.06" y1="378.4" x2="370.06" y2="379.8" stroke="#000" stroke-width="0.8"/>
<line x1="381.67" y1="505" x2="381.67" y2="503.6" stroke="#000" stroke-width="0.8"/>
<line x1="381.67" y1="378.4" x2="381.67" y2="379.8" stroke="#000" stroke-width="0.8"/>
<line x1="393.28" y1="505" x2="393.28" y2="503.6" stroke="#000" stroke-width="0.8"/>
<line x1="393.28" y1="378.4" x2="393.28" y2="379.8" stroke="#000" stroke-width="0.8"/>
<line x1="404.89" y1="505" x2="404.89" y2="503.6" stroke="#000" stroke-width="0.8"/>
<line x1="404.89" y1="378.4" x2="404.89" y2="379.8" stroke="#000" stroke-width="0.8"/>
<line x1="416.49" y1="505" x2="416.49" y2="503.6" stroke="#000" stroke-width="0.8"/>
<line x1="416.49" y1="378.4" x2="416.49" y2="379.8" stroke="#000" stroke-width="0.8"/>
<line x1="428.1" y1="505" x2="428.1" y2="503.6" stroke="#000" stroke-width="0.8"/>
<line x1="428.1" y1="378.4" x2="428.1" y2="379.8" stroke="#000" stroke-width="0.8"/>
<line x1="265.6" y1="499.94" x2="268" y2="499.94" stroke="#000" stroke-width="0.8"/>
<line x1="428.1" y1="499.94" x2="425.7" y2="499.94" stroke="#000" stroke-width="0.8"/>
<line x1="265.6" y1="489.81" x2="268" y2="489.81" stroke="#000" stroke-width="0.8"/>
<line x1="428.1" y1="489.81" x2="425.7" y2="489.81" stroke="#000" stroke-width="0.8"/>
<line x1="265.6" y1="479.68" x2="268" y2="479.68" stroke="#000" stroke-width="0.8"/>
<line x1="428.1" y1="479.68" x2="425.7" y2="479.68" stroke="#000" stroke-width="0.8"/>
<line x1="265.6" y1="469.55" x2="268" y2="469.55" stroke="#000" stroke-width="0.8"/>
<line x1="428.1" y1="469.55" x2="425.7" y2="469.55" stroke="#000" stroke-width="0.8"/>
<line x1="265.6" y1="459.42" x2="268" y2="459.42" stroke="#000" stroke-width="0.8"/>
<line x1="428.1" y1="459.42" x2="425.7" y2="459.42" stroke="#000" stroke-width="0.8"/>
<line x1="265.6" y1="449.3" x2="268" y2="449.3" stroke="#000" stroke-width="0.8"/>
<line x1="428.1" y1="449.3" x2="425.7" y2="449.3" stroke="#000" stroke-width="0.8"/>
<line x1="265.6" y1="439.17" x2="268" y2="439.17" stroke="#000" stroke-width="0.8"/>
<line x1="428.1" y1="439.17" x2="425.7" y2="439.17" stroke="#000" stroke-width="0.8"/>
<line x1="265.6" y1="429.04" x2="268" y2="429.04" stroke="#000" stroke-width="0.8"/>
<line x1="428.1" y1="429.04" x2="425.7" y2="429.04" stroke="#000" stroke-width="0.8"/>
<line x1="265.6" y1="418.91" x2="268" y2="418.91" stroke="#000" stroke-width="0.8"/>
<line x1="428.1" y1="418.91" x2="425.7" y2="418.91" stroke="#000" stroke-width="0.8"/>
<line x1="265.6" y1="408.78" x2="268" y2="408.78" stroke="#000" stroke-width="0.8"/>
<line x1="428.1" y1="408.78" x2="425.7" y2="408.78" stroke="#000" stroke-width="0.8"/>
<line x1="265.6" y1="398.66" x2="268" y2="398.66" stroke="#000" stroke-width="0.8"/>
<line x1="428.1" y1="398.66" x2="425.7" y2="398.66" stroke="#000" stroke-width="0.8"/>
<line x1="265.6" y1="388.53" x2="268" y2="388.53" stroke="#000" stroke-width="0.8"/>
<line x1="428.1" y1="388.53" x2="425.7" y2="388.53" stroke="#000" stroke-width="0.8"/>
<line x1="265.6" y1="378.4" x2="268" y2="378.4" stroke="#000" stroke-width="0.8"/>
<line x1="428.1" y1="378.4" x2="425.7" y2="378.4" stroke="#000" stroke-width="0.8"/>
<line x1="265.6" y1="505" x2="267" y2="505" stroke="#000" stroke-width="0.8"/>
<line x1="428.1" y1="505" x2="426.7" y2="505" stroke="#000" stroke-width="0.8"/>
<line x1="265.6" y1="499.94" x2="267" y2="499.94" stroke="#000" stroke-width="0.8"/>
<line x1="428.1" y1="499.94" x2="426.7" y2="499.94" stroke="#000" stroke-width="0.8"/>
<line x1="265.6" y1="494.87" x2="267" y2="494.87" stroke="#000" stroke-width="0.8"/>
<line x1="428.1" y1="494.87" x2="426.7" y2="494.87" stroke="#000" stroke-width="0.8"/>
<line x1="265.6" y1="489.81" x2="267" y2="489.81" stroke="#000" stroke-width="0.8"/>
<line x1="428.1" y1="489.81" x2="426.7" y2="489.81" stroke="#000" stroke-width="0.8"/>
<line x1="265.6" y1="484.74" x2="267" y2="484.74" stroke="#000" stroke-width="0.8"/>
<line x1="428.1" y1="484.74" x2="426.7" y2="484.74" stroke="#000" stroke-width="0.8"/>
<line x1="265.6" y1="479.68" x2="267" y2="479.68" stroke="#000" stroke-width="0.8"/>
<line x1="428.1" y1="479.68" x2="426.7" y2="479.68" stroke="#000" stroke-width="0.8"/>
<line x1="265.6" y1="474.62" x2="267" y2="474.62" stroke="#000" stroke-width="0.8"/>
<line x1="428.1" y1="474.62" x2="426.7" y2="474.62" stroke="#000" stroke-width="0.8"/>
<line x1="265.6" y1="469.55" x2="267" y2="469.55" stroke="#000" stroke-width="0.8"/>
<line x1="428.1" y1="469.55" x2="426.7" y2="469.55" stroke="#000" stroke-width="0.8"/>
<line x1="265.6" y1="464.49" x2="267" y2="464.49" stroke="#000" stroke-width="0.8"/>
<line x1="428.1" y1="464.49" x2="426.7" y2="464.49" stroke="#000" stroke-width="0.8"/>
<line x1="265.6" y1="459.42" x2="267" y2="459.42" stroke="#000" stroke-width="0.8"/>
<line x1="428.1" y1="459.42" x2="426.7" y2="459.42" stroke="#000" stroke-width="0.8"/>
<line x1="265.6" y1="454.36" x2="267" y2="454.36" stroke="#000" stroke-width="0.8"/>
<line x1="428.1" y1="454.36" x2="426.7" y2="454.36" stroke="#000" stroke-width="0.8"/>
<line x1="265.6" y1="449.3" x2="267" y2="449.3" stroke="#000" stroke-width="0.8"/>
<line x1="428.1" y1="449.3" x2="426.7" y2="449.3" stroke="#000" stroke-width="0.8"/>
<line x1="265.6" y1="444.23" x2="267" y2="444.23" stroke="#000" stroke-width="0.8"/>
<line x1="428.1" y1="444.23" x2="426.7" y2="444.23" stroke="#000" stroke-width="0.8"/>
<line x1="265.6" y1="439.17" x2="267" y2="439.17" stroke="#000" stroke-width="0.8"/>
<line x1="428.1" y1="439.17" x2="426.7" y2="439.17" stroke="#000" stroke-width="0.8"/>
<line x1="265.6" y1="434.1" x2="267" y2="434.1" stroke="#000" stroke-width="0.8"/>
<line x1="428.1" y1="434.1" x2="426.7" y2="434.1" stroke="#000" stroke-width="0.8"/>
<line x1="265.6" y1="429.04" x2="267" y2="429.04" stroke="#000" stroke-width="0.8"/>
<line x1="428.1" y1="429.04" x2="426.7" y2="429.04" stroke="#000" stroke-width="0.8"/>
<line x1="265.6" y1="423.98" x2="267" y2="423.98" stroke="#000" stroke-width="0.8"/>
<line x1="428.1" y1="423.98" x2="426.7" y2="423.98" stroke="#000" stroke-width="0.8"/>
<line x1="265.6" y1="418.91" x2="267" y2="418.91" stroke="#000" stroke-width="0.8"/>
<line x1="428.1" y1="418.91" x2="426.7" y2="418.91" stroke="#000" stroke-width="0.8"/>
<line x1="265.6" y1="413.85" x2="267" y2="413.85" stroke="#000" stroke-width="0.8"/>
<line x1="428.1" y1="413.85" x2="426.7" y2="413.85" stroke="#000" stroke-width="0.8"/>
<line x1="265.6" y1="408.78" x2="267" y2="408.78" stroke="#000" stroke-width="0.8"/>
<line x1="428.1" y1="408.78" x2="426.7" y2="408.78" stroke="#000" stroke-width="0.8"/>
<line x1="265.6" y1="403.72" x2="267" y2="403.72" stroke="#000" stroke-width="0.8"/>
<line x1="428.1" y1="403.72" x2="426.7" y2="403.72" stroke="#000" stroke-width="0.8"/>
<line x1="265.6" y1="398.66" x2="267" y2="398.66" stroke="#000" stroke-width="0.8"/>
<line x1="428.1" y1="398.66" x2="426.7" y2="398.66" stroke="#000" stroke-width="0.8"/>
<line x1="265.6" y1="393.59" x2="267" y2="393.59" stroke="#000" stroke-width="0.8"/>
<line x1="428.1" y1="393.59" x2="426.7" y2="393.59" stroke="#000" stroke-width="0.8"/>
<line x1="265.6" y1="388.53" x2="267" y2="388.53" stroke="#000" stroke-width="0.8"/>
<line x1="428.1" y1="388.53" x2="426.7" y2="388.53" stroke="#000" stroke-width="0.8"/>
<line x1="265.6" y1="383.46" x2="267" y2="383.46" stroke="#000" stroke-width="0.8"/>
<line x1="428.1" y1="383.46" x2="426.7" y2="383.46" stroke="#000" stroke-width="0.8"/>
<line x1="265.6" y1="378.4" x2="267" y2="378.4" stroke="#000" stroke-width="0.8"/>
<line x1="428.1" y1="378.4" x2="426.7" y2="378.4" stroke="#000" stroke-width="0.8"/>
<line x1="277.21" y1="498.85" x2="416.49" y2="390.83" stroke="#0000ff" stroke-width="1.1"/>
<rect x="275.81" y="489.42" width="2.8" height="2.8" fill="#ff0000"/>
<rect x="299.02" y="478.79" width="2.8" height="2.8" fill="#ff0000"/>
<rect x="322.24" y="466.13" width="2.8" height="2.8" fill="#ff0000"/>
<rect x="345.45" y="451.95" width="2.8" height="2.8" fill="#ff0000"/>
<rect x="368.66" y="429.16" width="2.8" height="2.8" fill="#ff0000"/>
<rect x="391.88" y="404.35" width="2.8" height="2.8" fill="#ff0000"/>
<rect x="415.09" y="383.58" width="2.8" height="2.8" fill="#ff0000"/>
<line x1="265.6" y1="505" x2="428.1" y2="505" stroke="#444" stroke-width="1.4" stroke-linecap="square"/>
<line x1="265.6" y1="378.4" x2="265.6" y2="505" stroke="#444" stroke-width="1.4" stroke-linecap="square"/>
<line x1="265.6" y1="378.4" x2="428.1" y2="378.4" stroke="#444" stroke-width="1.4" stroke-linecap="square"/>
<line x1="428.1" y1="378.4" x2="428.1" y2="505" stroke="#444" stroke-width="1.4" stroke-linecap="square"/>
<text x="261.6" y="502.46" font-size="7" stroke="#000" stroke-width="0.22" text-anchor="end" textLength="12" lengthAdjust="spacingAndGlyphs">606</text>
<text x="261.6" y="492.33" font-size="7" stroke="#000" stroke-width="0.22" text-anchor="end" textLength="12" lengthAdjust="spacingAndGlyphs">608</text>
<text x="261.6" y="482.2" font-size="7" stroke="#000" stroke-width="0.22" text-anchor="end" textLength="12" lengthAdjust="spacingAndGlyphs">610</text>
<text x="261.6" y="472.07" font-size="7" stroke="#000" stroke-width="0.22" text-anchor="end" textLength="12" lengthAdjust="spacingAndGlyphs">612</text>
<text x="261.6" y="461.94" font-size="7" stroke="#000" stroke-width="0.22" text-anchor="end" textLength="12" lengthAdjust="spacingAndGlyphs">614</text>
<text x="261.6" y="451.82" font-size="7" stroke="#000" stroke-width="0.22" text-anchor="end" textLength="12" lengthAdjust="spacingAndGlyphs">616</text>
<text x="261.6" y="441.69" font-size="7" stroke="#000" stroke-width="0.22" text-anchor="end" textLength="12" lengthAdjust="spacingAndGlyphs">618</text>
<text x="261.6" y="431.56" font-size="7" stroke="#000" stroke-width="0.22" text-anchor="end" textLength="12" lengthAdjust="spacingAndGlyphs">620</text>
<text x="261.6" y="421.43" font-size="7" stroke="#000" stroke-width="0.22" text-anchor="end" textLength="12" lengthAdjust="spacingAndGlyphs">622</text>
<text x="261.6" y="411.3" font-size="7" stroke="#000" stroke-width="0.22" text-anchor="end" textLength="12" lengthAdjust="spacingAndGlyphs">624</text>
<text x="261.6" y="401.18" font-size="7" stroke="#000" stroke-width="0.22" text-anchor="end" textLength="12" lengthAdjust="spacingAndGlyphs">626</text>
<text x="261.6" y="391.05" font-size="7" stroke="#000" stroke-width="0.22" text-anchor="end" textLength="12" lengthAdjust="spacingAndGlyphs">628</text>
<text x="261.6" y="380.92" font-size="7" stroke="#000" stroke-width="0.22" text-anchor="end" textLength="12" lengthAdjust="spacingAndGlyphs">630</text>
<text x="279.21" y="510.8" font-size="7.2" stroke="#000" stroke-width="0.22" text-anchor="end" dominant-baseline="central" transform="rotate(-45 279.21 510.8)">0.5</text>
<text x="302.42" y="510.8" font-size="7.2" stroke="#000" stroke-width="0.22" text-anchor="end" dominant-baseline="central" transform="rotate(-45 302.42 510.8)">0.6</text>
<text x="325.64" y="510.8" font-size="7.2" stroke="#000" stroke-width="0.22" text-anchor="end" dominant-baseline="central" transform="rotate(-45 325.64 510.8)">0.7</text>
<text x="348.85" y="510.8" font-size="7.2" stroke="#000" stroke-width="0.22" text-anchor="end" dominant-baseline="central" transform="rotate(-45 348.85 510.8)">0.8</text>
<text x="372.06" y="510.8" font-size="7.2" stroke="#000" stroke-width="0.22" text-anchor="end" dominant-baseline="central" transform="rotate(-45 372.06 510.8)">0.9</text>
<text x="395.28" y="510.8" font-size="7.2" stroke="#000" stroke-width="0.22" text-anchor="end" dominant-baseline="central" transform="rotate(-45 395.28 510.8)">1.0</text>
<text x="418.49" y="510.8" font-size="7.2" stroke="#000" stroke-width="0.22" text-anchor="end" dominant-baseline="central" transform="rotate(-45 418.49 510.8)">1.1</text>
<text x="242.6" y="441.7" font-size="7.2" font-weight="bold" text-anchor="middle" transform="rotate(-90 242.6 441.7)">Capacitance (pF)</text>
<text x="345.8" y="529" font-size="7.2" font-weight="bold" text-anchor="middle">Pressure (MPa)</text>
<rect x="268.9" y="381.9" width="73.8" height="22.6" fill="#fff" stroke="#444" stroke-width="0.8"/>
<rect x="278.6" y="386.4" width="2.6" height="2.6" fill="#ff0000"/>
<text x="293.6" y="389.8" font-size="5.8" font-weight="bold" fill="#ff0000" textLength="20.5" lengthAdjust="spacingAndGlyphs">Testing</text>
<line x1="269.6" y1="399" x2="289.2" y2="399" stroke="#0000ff" stroke-width="1.1"/>
<text x="293.6" y="401.1" font-size="5.8" font-weight="bold" fill="#0000ff" textLength="35.2" lengthAdjust="spacingAndGlyphs">Linear fitting</text>
<text x="351.2" y="393.6" font-size="5.8" font-weight="bold" fill="#ff0000" textLength="31.6" lengthAdjust="spacingAndGlyphs">0.5-1.1 MPa</text>
<text x="358.1" y="466.5" font-size="5.6" font-weight="bold" fill="#0000ff" textLength="51.5" lengthAdjust="spacingAndGlyphs"><tspan font-style="italic">y</tspan> = 588.44 + 35.55<tspan font-style="italic">x</tspan></text>
<text x="358.1" y="479.2" font-size="5.6" font-weight="bold" fill="#0000ff" textLength="30.5" lengthAdjust="spacingAndGlyphs"><tspan font-style="italic">R</tspan><tspan font-size="3.6" dy="-2">2</tspan><tspan dy="2"> = 0.9768</tspan></text>
<line x1="504.69" y1="377.4" x2="504.69" y2="505.3" stroke="#ececec" stroke-width="0.5"/>
<line x1="512.99" y1="377.4" x2="512.99" y2="505.3" stroke="#ececec" stroke-width="0.5"/>
<line x1="521.28" y1="377.4" x2="521.28" y2="505.3" stroke="#ececec" stroke-width="0.5"/>
<line x1="529.58" y1="377.4" x2="529.58" y2="505.3" stroke="#ececec" stroke-width="0.5"/>
<line x1="537.88" y1="377.4" x2="537.88" y2="505.3" stroke="#ececec" stroke-width="0.5"/>
<line x1="546.17" y1="377.4" x2="546.17" y2="505.3" stroke="#ececec" stroke-width="0.5"/>
<line x1="554.47" y1="377.4" x2="554.47" y2="505.3" stroke="#ececec" stroke-width="0.5"/>
<line x1="562.76" y1="377.4" x2="562.76" y2="505.3" stroke="#ececec" stroke-width="0.5"/>
<line x1="571.05" y1="377.4" x2="571.05" y2="505.3" stroke="#ececec" stroke-width="0.5"/>
<line x1="579.35" y1="377.4" x2="579.35" y2="505.3" stroke="#ececec" stroke-width="0.5"/>
<line x1="587.64" y1="377.4" x2="587.64" y2="505.3" stroke="#ececec" stroke-width="0.5"/>
<line x1="595.94" y1="377.4" x2="595.94" y2="505.3" stroke="#ececec" stroke-width="0.5"/>
<line x1="604.24" y1="377.4" x2="604.24" y2="505.3" stroke="#ececec" stroke-width="0.5"/>
<line x1="612.53" y1="377.4" x2="612.53" y2="505.3" stroke="#ececec" stroke-width="0.5"/>
<line x1="620.83" y1="377.4" x2="620.83" y2="505.3" stroke="#ececec" stroke-width="0.5"/>
<line x1="629.12" y1="377.4" x2="629.12" y2="505.3" stroke="#ececec" stroke-width="0.5"/>
<line x1="637.41" y1="377.4" x2="637.41" y2="505.3" stroke="#ececec" stroke-width="0.5"/>
<line x1="645.71" y1="377.4" x2="645.71" y2="505.3" stroke="#ececec" stroke-width="0.5"/>
<line x1="654" y1="377.4" x2="654" y2="505.3" stroke="#ececec" stroke-width="0.5"/>
<line x1="496.4" y1="497.31" x2="662.3" y2="497.31" stroke="#ececec" stroke-width="0.5"/>
<line x1="496.4" y1="489.31" x2="662.3" y2="489.31" stroke="#ececec" stroke-width="0.5"/>
<line x1="496.4" y1="481.32" x2="662.3" y2="481.32" stroke="#ececec" stroke-width="0.5"/>
<line x1="496.4" y1="473.32" x2="662.3" y2="473.32" stroke="#ececec" stroke-width="0.5"/>
<line x1="496.4" y1="465.33" x2="662.3" y2="465.33" stroke="#ececec" stroke-width="0.5"/>
<line x1="496.4" y1="457.34" x2="662.3" y2="457.34" stroke="#ececec" stroke-width="0.5"/>
<line x1="496.4" y1="449.34" x2="662.3" y2="449.34" stroke="#ececec" stroke-width="0.5"/>
<line x1="496.4" y1="441.35" x2="662.3" y2="441.35" stroke="#ececec" stroke-width="0.5"/>
<line x1="496.4" y1="433.36" x2="662.3" y2="433.36" stroke="#ececec" stroke-width="0.5"/>
<line x1="496.4" y1="425.36" x2="662.3" y2="425.36" stroke="#ececec" stroke-width="0.5"/>
<line x1="496.4" y1="417.37" x2="662.3" y2="417.37" stroke="#ececec" stroke-width="0.5"/>
<line x1="496.4" y1="409.38" x2="662.3" y2="409.38" stroke="#ececec" stroke-width="0.5"/>
<line x1="496.4" y1="401.38" x2="662.3" y2="401.38" stroke="#ececec" stroke-width="0.5"/>
<line x1="496.4" y1="393.39" x2="662.3" y2="393.39" stroke="#ececec" stroke-width="0.5"/>
<line x1="496.4" y1="385.39" x2="662.3" y2="385.39" stroke="#ececec" stroke-width="0.5"/>
<line x1="504.69" y1="377.4" x2="504.69" y2="505.3" stroke="#dadada" stroke-width="0.7"/>
<line x1="521.28" y1="377.4" x2="521.28" y2="505.3" stroke="#dadada" stroke-width="0.7"/>
<line x1="537.88" y1="377.4" x2="537.88" y2="505.3" stroke="#dadada" stroke-width="0.7"/>
<line x1="554.47" y1="377.4" x2="554.47" y2="505.3" stroke="#dadada" stroke-width="0.7"/>
<line x1="571.05" y1="377.4" x2="571.05" y2="505.3" stroke="#dadada" stroke-width="0.7"/>
<line x1="587.64" y1="377.4" x2="587.64" y2="505.3" stroke="#dadada" stroke-width="0.7"/>
<line x1="604.24" y1="377.4" x2="604.24" y2="505.3" stroke="#dadada" stroke-width="0.7"/>
<line x1="620.83" y1="377.4" x2="620.83" y2="505.3" stroke="#dadada" stroke-width="0.7"/>
<line x1="637.41" y1="377.4" x2="637.41" y2="505.3" stroke="#dadada" stroke-width="0.7"/>
<line x1="654" y1="377.4" x2="654" y2="505.3" stroke="#dadada" stroke-width="0.7"/>
<line x1="496.4" y1="497.31" x2="662.3" y2="497.31" stroke="#dadada" stroke-width="0.7"/>
<line x1="496.4" y1="481.32" x2="662.3" y2="481.32" stroke="#dadada" stroke-width="0.7"/>
<line x1="496.4" y1="465.33" x2="662.3" y2="465.33" stroke="#dadada" stroke-width="0.7"/>
<line x1="496.4" y1="449.34" x2="662.3" y2="449.34" stroke="#dadada" stroke-width="0.7"/>
<line x1="496.4" y1="433.36" x2="662.3" y2="433.36" stroke="#dadada" stroke-width="0.7"/>
<line x1="496.4" y1="417.37" x2="662.3" y2="417.37" stroke="#dadada" stroke-width="0.7"/>
<line x1="496.4" y1="401.38" x2="662.3" y2="401.38" stroke="#dadada" stroke-width="0.7"/>
<line x1="496.4" y1="385.39" x2="662.3" y2="385.39" stroke="#dadada" stroke-width="0.7"/>
<line x1="504.69" y1="505.3" x2="504.69" y2="502.9" stroke="#000" stroke-width="0.8"/>
<line x1="504.69" y1="377.4" x2="504.69" y2="379.8" stroke="#000" stroke-width="0.8"/>
<line x1="521.28" y1="505.3" x2="521.28" y2="502.9" stroke="#000" stroke-width="0.8"/>
<line x1="521.28" y1="377.4" x2="521.28" y2="379.8" stroke="#000" stroke-width="0.8"/>
<line x1="537.88" y1="505.3" x2="537.88" y2="502.9" stroke="#000" stroke-width="0.8"/>
<line x1="537.88" y1="377.4" x2="537.88" y2="379.8" stroke="#000" stroke-width="0.8"/>
<line x1="554.47" y1="505.3" x2="554.47" y2="502.9" stroke="#000" stroke-width="0.8"/>
<line x1="554.47" y1="377.4" x2="554.47" y2="379.8" stroke="#000" stroke-width="0.8"/>
<line x1="571.05" y1="505.3" x2="571.05" y2="502.9" stroke="#000" stroke-width="0.8"/>
<line x1="571.05" y1="377.4" x2="571.05" y2="379.8" stroke="#000" stroke-width="0.8"/>
<line x1="587.64" y1="505.3" x2="587.64" y2="502.9" stroke="#000" stroke-width="0.8"/>
<line x1="587.64" y1="377.4" x2="587.64" y2="379.8" stroke="#000" stroke-width="0.8"/>
<line x1="604.24" y1="505.3" x2="604.24" y2="502.9" stroke="#000" stroke-width="0.8"/>
<line x1="604.24" y1="377.4" x2="604.24" y2="379.8" stroke="#000" stroke-width="0.8"/>
<line x1="620.83" y1="505.3" x2="620.83" y2="502.9" stroke="#000" stroke-width="0.8"/>
<line x1="620.83" y1="377.4" x2="620.83" y2="379.8" stroke="#000" stroke-width="0.8"/>
<line x1="637.41" y1="505.3" x2="637.41" y2="502.9" stroke="#000" stroke-width="0.8"/>
<line x1="637.41" y1="377.4" x2="637.41" y2="379.8" stroke="#000" stroke-width="0.8"/>
<line x1="654" y1="505.3" x2="654" y2="502.9" stroke="#000" stroke-width="0.8"/>
<line x1="654" y1="377.4" x2="654" y2="379.8" stroke="#000" stroke-width="0.8"/>
<line x1="496.4" y1="505.3" x2="496.4" y2="503.9" stroke="#000" stroke-width="0.8"/>
<line x1="496.4" y1="377.4" x2="496.4" y2="378.8" stroke="#000" stroke-width="0.8"/>
<line x1="504.69" y1="505.3" x2="504.69" y2="503.9" stroke="#000" stroke-width="0.8"/>
<line x1="504.69" y1="377.4" x2="504.69" y2="378.8" stroke="#000" stroke-width="0.8"/>
<line x1="512.99" y1="505.3" x2="512.99" y2="503.9" stroke="#000" stroke-width="0.8"/>
<line x1="512.99" y1="377.4" x2="512.99" y2="378.8" stroke="#000" stroke-width="0.8"/>
<line x1="521.28" y1="505.3" x2="521.28" y2="503.9" stroke="#000" stroke-width="0.8"/>
<line x1="521.28" y1="377.4" x2="521.28" y2="378.8" stroke="#000" stroke-width="0.8"/>
<line x1="529.58" y1="505.3" x2="529.58" y2="503.9" stroke="#000" stroke-width="0.8"/>
<line x1="529.58" y1="377.4" x2="529.58" y2="378.8" stroke="#000" stroke-width="0.8"/>
<line x1="537.88" y1="505.3" x2="537.88" y2="503.9" stroke="#000" stroke-width="0.8"/>
<line x1="537.88" y1="377.4" x2="537.88" y2="378.8" stroke="#000" stroke-width="0.8"/>
<line x1="546.17" y1="505.3" x2="546.17" y2="503.9" stroke="#000" stroke-width="0.8"/>
<line x1="546.17" y1="377.4" x2="546.17" y2="378.8" stroke="#000" stroke-width="0.8"/>
<line x1="554.47" y1="505.3" x2="554.47" y2="503.9" stroke="#000" stroke-width="0.8"/>
<line x1="554.47" y1="377.4" x2="554.47" y2="378.8" stroke="#000" stroke-width="0.8"/>
<line x1="562.76" y1="505.3" x2="562.76" y2="503.9" stroke="#000" stroke-width="0.8"/>
<line x1="562.76" y1="377.4" x2="562.76" y2="378.8" stroke="#000" stroke-width="0.8"/>
<line x1="571.05" y1="505.3" x2="571.05" y2="503.9" stroke="#000" stroke-width="0.8"/>
<line x1="571.05" y1="377.4" x2="571.05" y2="378.8" stroke="#000" stroke-width="0.8"/>
<line x1="579.35" y1="505.3" x2="579.35" y2="503.9" stroke="#000" stroke-width="0.8"/>
<line x1="579.35" y1="377.4" x2="579.35" y2="378.8" stroke="#000" stroke-width="0.8"/>
<line x1="587.64" y1="505.3" x2="587.64" y2="503.9" stroke="#000" stroke-width="0.8"/>
<line x1="587.64" y1="377.4" x2="587.64" y2="378.8" stroke="#000" stroke-width="0.8"/>
<line x1="595.94" y1="505.3" x2="595.94" y2="503.9" stroke="#000" stroke-width="0.8"/>
<line x1="595.94" y1="377.4" x2="595.94" y2="378.8" stroke="#000" stroke-width="0.8"/>
<line x1="604.24" y1="505.3" x2="604.24" y2="503.9" stroke="#000" stroke-width="0.8"/>
<line x1="604.24" y1="377.4" x2="604.24" y2="378.8" stroke="#000" stroke-width="0.8"/>
<line x1="612.53" y1="505.3" x2="612.53" y2="503.9" stroke="#000" stroke-width="0.8"/>
<line x1="612.53" y1="377.4" x2="612.53" y2="378.8" stroke="#000" stroke-width="0.8"/>
<line x1="620.83" y1="505.3" x2="620.83" y2="503.9" stroke="#000" stroke-width="0.8"/>
<line x1="620.83" y1="377.4" x2="620.83" y2="378.8" stroke="#000" stroke-width="0.8"/>
<line x1="629.12" y1="505.3" x2="629.12" y2="503.9" stroke="#000" stroke-width="0.8"/>
<line x1="629.12" y1="377.4" x2="629.12" y2="378.8" stroke="#000" stroke-width="0.8"/>
<line x1="637.41" y1="505.3" x2="637.41" y2="503.9" stroke="#000" stroke-width="0.8"/>
<line x1="637.41" y1="377.4" x2="637.41" y2="378.8" stroke="#000" stroke-width="0.8"/>
<line x1="645.71" y1="505.3" x2="645.71" y2="503.9" stroke="#000" stroke-width="0.8"/>
<line x1="645.71" y1="377.4" x2="645.71" y2="378.8" stroke="#000" stroke-width="0.8"/>
<line x1="654" y1="505.3" x2="654" y2="503.9" stroke="#000" stroke-width="0.8"/>
<line x1="654" y1="377.4" x2="654" y2="378.8" stroke="#000" stroke-width="0.8"/>
<line x1="662.3" y1="505.3" x2="662.3" y2="503.9" stroke="#000" stroke-width="0.8"/>
<line x1="662.3" y1="377.4" x2="662.3" y2="378.8" stroke="#000" stroke-width="0.8"/>
<line x1="496.4" y1="497.31" x2="498.8" y2="497.31" stroke="#000" stroke-width="0.8"/>
<line x1="662.3" y1="497.31" x2="659.9" y2="497.31" stroke="#000" stroke-width="0.8"/>
<line x1="496.4" y1="481.32" x2="498.8" y2="481.32" stroke="#000" stroke-width="0.8"/>
<line x1="662.3" y1="481.32" x2="659.9" y2="481.32" stroke="#000" stroke-width="0.8"/>
<line x1="496.4" y1="465.33" x2="498.8" y2="465.33" stroke="#000" stroke-width="0.8"/>
<line x1="662.3" y1="465.33" x2="659.9" y2="465.33" stroke="#000" stroke-width="0.8"/>
<line x1="496.4" y1="449.34" x2="498.8" y2="449.34" stroke="#000" stroke-width="0.8"/>
<line x1="662.3" y1="449.34" x2="659.9" y2="449.34" stroke="#000" stroke-width="0.8"/>
<line x1="496.4" y1="433.36" x2="498.8" y2="433.36" stroke="#000" stroke-width="0.8"/>
<line x1="662.3" y1="433.36" x2="659.9" y2="433.36" stroke="#000" stroke-width="0.8"/>
<line x1="496.4" y1="417.37" x2="498.8" y2="417.37" stroke="#000" stroke-width="0.8"/>
<line x1="662.3" y1="417.37" x2="659.9" y2="417.37" stroke="#000" stroke-width="0.8"/>
<line x1="496.4" y1="401.38" x2="498.8" y2="401.38" stroke="#000" stroke-width="0.8"/>
<line x1="662.3" y1="401.38" x2="659.9" y2="401.38" stroke="#000" stroke-width="0.8"/>
<line x1="496.4" y1="385.39" x2="498.8" y2="385.39" stroke="#000" stroke-width="0.8"/>
<line x1="662.3" y1="385.39" x2="659.9" y2="385.39" stroke="#000" stroke-width="0.8"/>
<line x1="496.4" y1="505.3" x2="497.8" y2="505.3" stroke="#000" stroke-width="0.8"/>
<line x1="662.3" y1="505.3" x2="660.9" y2="505.3" stroke="#000" stroke-width="0.8"/>
<line x1="496.4" y1="497.31" x2="497.8" y2="497.31" stroke="#000" stroke-width="0.8"/>
<line x1="662.3" y1="497.31" x2="660.9" y2="497.31" stroke="#000" stroke-width="0.8"/>
<line x1="496.4" y1="489.31" x2="497.8" y2="489.31" stroke="#000" stroke-width="0.8"/>
<line x1="662.3" y1="489.31" x2="660.9" y2="489.31" stroke="#000" stroke-width="0.8"/>
<line x1="496.4" y1="481.32" x2="497.8" y2="481.32" stroke="#000" stroke-width="0.8"/>
<line x1="662.3" y1="481.32" x2="660.9" y2="481.32" stroke="#000" stroke-width="0.8"/>
<line x1="496.4" y1="473.32" x2="497.8" y2="473.32" stroke="#000" stroke-width="0.8"/>
<line x1="662.3" y1="473.32" x2="660.9" y2="473.32" stroke="#000" stroke-width="0.8"/>
<line x1="496.4" y1="465.33" x2="497.8" y2="465.33" stroke="#000" stroke-width="0.8"/>
<line x1="662.3" y1="465.33" x2="660.9" y2="465.33" stroke="#000" stroke-width="0.8"/>
<line x1="496.4" y1="457.34" x2="497.8" y2="457.34" stroke="#000" stroke-width="0.8"/>
<line x1="662.3" y1="457.34" x2="660.9" y2="457.34" stroke="#000" stroke-width="0.8"/>
<line x1="496.4" y1="449.34" x2="497.8" y2="449.34" stroke="#000" stroke-width="0.8"/>
<line x1="662.3" y1="449.34" x2="660.9" y2="449.34" stroke="#000" stroke-width="0.8"/>
<line x1="496.4" y1="441.35" x2="497.8" y2="441.35" stroke="#000" stroke-width="0.8"/>
<line x1="662.3" y1="441.35" x2="660.9" y2="441.35" stroke="#000" stroke-width="0.8"/>
<line x1="496.4" y1="433.36" x2="497.8" y2="433.36" stroke="#000" stroke-width="0.8"/>
<line x1="662.3" y1="433.36" x2="660.9" y2="433.36" stroke="#000" stroke-width="0.8"/>
<line x1="496.4" y1="425.36" x2="497.8" y2="425.36" stroke="#000" stroke-width="0.8"/>
<line x1="662.3" y1="425.36" x2="660.9" y2="425.36" stroke="#000" stroke-width="0.8"/>
<line x1="496.4" y1="417.37" x2="497.8" y2="417.37" stroke="#000" stroke-width="0.8"/>
<line x1="662.3" y1="417.37" x2="660.9" y2="417.37" stroke="#000" stroke-width="0.8"/>
<line x1="496.4" y1="409.38" x2="497.8" y2="409.38" stroke="#000" stroke-width="0.8"/>
<line x1="662.3" y1="409.38" x2="660.9" y2="409.38" stroke="#000" stroke-width="0.8"/>
<line x1="496.4" y1="401.38" x2="497.8" y2="401.38" stroke="#000" stroke-width="0.8"/>
<line x1="662.3" y1="401.38" x2="660.9" y2="401.38" stroke="#000" stroke-width="0.8"/>
<line x1="496.4" y1="393.39" x2="497.8" y2="393.39" stroke="#000" stroke-width="0.8"/>
<line x1="662.3" y1="393.39" x2="660.9" y2="393.39" stroke="#000" stroke-width="0.8"/>
<line x1="496.4" y1="385.39" x2="497.8" y2="385.39" stroke="#000" stroke-width="0.8"/>
<line x1="662.3" y1="385.39" x2="660.9" y2="385.39" stroke="#000" stroke-width="0.8"/>
<line x1="496.4" y1="377.4" x2="497.8" y2="377.4" stroke="#000" stroke-width="0.8"/>
<line x1="662.3" y1="377.4" x2="660.9" y2="377.4" stroke="#000" stroke-width="0.8"/>
<line x1="504.69" y1="494.67" x2="654" y2="383.87" stroke="#0000ff" stroke-width="1.1"/>
<rect x="503.3" y="490.31" width="2.8" height="2.8" fill="#ff0000"/>
<rect x="519.88" y="482.32" width="2.8" height="2.8" fill="#ff0000"/>
<rect x="536.48" y="468.73" width="2.8" height="2.8" fill="#ff0000"/>
<rect x="553.06" y="455.94" width="2.8" height="2.8" fill="#ff0000"/>
<rect x="569.65" y="447.94" width="2.8" height="2.8" fill="#ff0000"/>
<rect x="586.25" y="431.96" width="2.8" height="2.8" fill="#ff0000"/>
<rect x="602.84" y="415.97" width="2.8" height="2.8" fill="#ff0000"/>
<rect x="619.43" y="403.18" width="2.8" height="2.8" fill="#ff0000"/>
<rect x="636.01" y="395.98" width="2.8" height="2.8" fill="#ff0000"/>
<rect x="652.61" y="383.99" width="2.8" height="2.8" fill="#ff0000"/>
<line x1="496.4" y1="505.3" x2="662.3" y2="505.3" stroke="#444" stroke-width="1.4" stroke-linecap="square"/>
<line x1="496.4" y1="377.4" x2="496.4" y2="505.3" stroke="#444" stroke-width="1.4" stroke-linecap="square"/>
<line x1="496.4" y1="377.4" x2="662.3" y2="377.4" stroke="#444" stroke-width="1.4" stroke-linecap="square"/>
<line x1="662.3" y1="377.4" x2="662.3" y2="505.3" stroke="#444" stroke-width="1.4" stroke-linecap="square"/>
<text x="492.4" y="499.83" font-size="7" font-weight="bold" text-anchor="end">628</text>
<text x="492.4" y="483.84" font-size="7" font-weight="bold" text-anchor="end">630</text>
<text x="492.4" y="467.85" font-size="7" font-weight="bold" text-anchor="end">632</text>
<text x="492.4" y="451.86" font-size="7" font-weight="bold" text-anchor="end">634</text>
<text x="492.4" y="435.88" font-size="7" font-weight="bold" text-anchor="end">636</text>
<text x="492.4" y="419.89" font-size="7" font-weight="bold" text-anchor="end">638</text>
<text x="492.4" y="403.9" font-size="7" font-weight="bold" text-anchor="end">640</text>
<text x="492.4" y="387.91" font-size="7" font-weight="bold" text-anchor="end">642</text>
<text x="506.69" y="511.1" font-size="7.2" font-weight="bold" text-anchor="end" dominant-baseline="central" transform="rotate(-45 506.69 511.1)">1.1</text>
<text x="523.28" y="511.1" font-size="7.2" font-weight="bold" text-anchor="end" dominant-baseline="central" transform="rotate(-45 523.28 511.1)">1.2</text>
<text x="539.88" y="511.1" font-size="7.2" font-weight="bold" text-anchor="end" dominant-baseline="central" transform="rotate(-45 539.88 511.1)">1.3</text>
<text x="556.47" y="511.1" font-size="7.2" font-weight="bold" text-anchor="end" dominant-baseline="central" transform="rotate(-45 556.47 511.1)">1.4</text>
<text x="573.05" y="511.1" font-size="7.2" font-weight="bold" text-anchor="end" dominant-baseline="central" transform="rotate(-45 573.05 511.1)">1.5</text>
<text x="589.64" y="511.1" font-size="7.2" font-weight="bold" text-anchor="end" dominant-baseline="central" transform="rotate(-45 589.64 511.1)">1.6</text>
<text x="606.24" y="511.1" font-size="7.2" font-weight="bold" text-anchor="end" dominant-baseline="central" transform="rotate(-45 606.24 511.1)">1.7</text>
<text x="622.83" y="511.1" font-size="7.2" font-weight="bold" text-anchor="end" dominant-baseline="central" transform="rotate(-45 622.83 511.1)">1.8</text>
<text x="639.41" y="511.1" font-size="7.2" font-weight="bold" text-anchor="end" dominant-baseline="central" transform="rotate(-45 639.41 511.1)">1.9</text>
<text x="656" y="511.1" font-size="7.2" font-weight="bold" text-anchor="end" dominant-baseline="central" transform="rotate(-45 656 511.1)">2.0</text>
<text x="473.4" y="441.35" font-size="7.2" font-weight="bold" text-anchor="middle" transform="rotate(-90 473.4 441.35)">Capacitance (pF)</text>
<text x="578.6" y="528.4" font-size="7.2" font-weight="bold" text-anchor="middle">Pressure (MPa)</text>
<rect x="499.3" y="381" width="73.9" height="22.1" fill="#fff" stroke="#444" stroke-width="0.8"/>
<rect x="509.1" y="385.4" width="2.6" height="2.6" fill="#ff0000"/>
<text x="524.5" y="388.8" font-size="5.8" font-weight="bold" fill="#ff0000" textLength="20.5" lengthAdjust="spacingAndGlyphs">Testing</text>
<line x1="500" y1="397.8" x2="519.6" y2="397.8" stroke="#0000ff" stroke-width="1.1"/>
<text x="524.5" y="399.9" font-size="5.8" font-weight="bold" fill="#0000ff" textLength="35.2" lengthAdjust="spacingAndGlyphs">Linear fitting</text>
<text x="577.6" y="393.6" font-size="7.1" font-weight="bold" fill="#ff0000" textLength="32.5" lengthAdjust="spacingAndGlyphs">1.1-2 MPa</text>
<text x="594.4" y="461.9" font-size="5.6" font-weight="bold" fill="#0000ff" textLength="48.6" lengthAdjust="spacingAndGlyphs"><tspan font-style="italic">y</tspan> = 611.39 + 15.4<tspan font-style="italic">x</tspan></text>
<text x="594.4" y="473" font-size="5.6" font-weight="bold" fill="#0000ff" textLength="30.2" lengthAdjust="spacingAndGlyphs"><tspan font-style="italic">R</tspan><tspan font-size="3.6" dy="-2">2</tspan><tspan dy="2"> = 0.9955</tspan></text>
<line x1="41.55" y1="548.1" x2="41.55" y2="673.5" stroke="#ececec" stroke-width="0.5"/>
<line x1="46.9" y1="548.1" x2="46.9" y2="673.5" stroke="#ececec" stroke-width="0.5"/>
<line x1="52.25" y1="548.1" x2="52.25" y2="673.5" stroke="#ececec" stroke-width="0.5"/>
<line x1="57.59" y1="548.1" x2="57.59" y2="673.5" stroke="#ececec" stroke-width="0.5"/>
<line x1="62.94" y1="548.1" x2="62.94" y2="673.5" stroke="#ececec" stroke-width="0.5"/>
<line x1="68.29" y1="548.1" x2="68.29" y2="673.5" stroke="#ececec" stroke-width="0.5"/>
<line x1="73.64" y1="548.1" x2="73.64" y2="673.5" stroke="#ececec" stroke-width="0.5"/>
<line x1="78.99" y1="548.1" x2="78.99" y2="673.5" stroke="#ececec" stroke-width="0.5"/>
<line x1="84.34" y1="548.1" x2="84.34" y2="673.5" stroke="#ececec" stroke-width="0.5"/>
<line x1="89.68" y1="548.1" x2="89.68" y2="673.5" stroke="#ececec" stroke-width="0.5"/>
<line x1="95.03" y1="548.1" x2="95.03" y2="673.5" stroke="#ececec" stroke-width="0.5"/>
<line x1="100.38" y1="548.1" x2="100.38" y2="673.5" stroke="#ececec" stroke-width="0.5"/>
<line x1="105.73" y1="548.1" x2="105.73" y2="673.5" stroke="#ececec" stroke-width="0.5"/>
<line x1="111.08" y1="548.1" x2="111.08" y2="673.5" stroke="#ececec" stroke-width="0.5"/>
<line x1="116.43" y1="548.1" x2="116.43" y2="673.5" stroke="#ececec" stroke-width="0.5"/>
<line x1="121.77" y1="548.1" x2="121.77" y2="673.5" stroke="#ececec" stroke-width="0.5"/>
<line x1="127.12" y1="548.1" x2="127.12" y2="673.5" stroke="#ececec" stroke-width="0.5"/>
<line x1="132.47" y1="548.1" x2="132.47" y2="673.5" stroke="#ececec" stroke-width="0.5"/>
<line x1="137.82" y1="548.1" x2="137.82" y2="673.5" stroke="#ececec" stroke-width="0.5"/>
<line x1="143.17" y1="548.1" x2="143.17" y2="673.5" stroke="#ececec" stroke-width="0.5"/>
<line x1="148.52" y1="548.1" x2="148.52" y2="673.5" stroke="#ececec" stroke-width="0.5"/>
<line x1="153.86" y1="548.1" x2="153.86" y2="673.5" stroke="#ececec" stroke-width="0.5"/>
<line x1="159.21" y1="548.1" x2="159.21" y2="673.5" stroke="#ececec" stroke-width="0.5"/>
<line x1="164.56" y1="548.1" x2="164.56" y2="673.5" stroke="#ececec" stroke-width="0.5"/>
<line x1="169.91" y1="548.1" x2="169.91" y2="673.5" stroke="#ececec" stroke-width="0.5"/>
<line x1="175.26" y1="548.1" x2="175.26" y2="673.5" stroke="#ececec" stroke-width="0.5"/>
<line x1="180.61" y1="548.1" x2="180.61" y2="673.5" stroke="#ececec" stroke-width="0.5"/>
<line x1="185.95" y1="548.1" x2="185.95" y2="673.5" stroke="#ececec" stroke-width="0.5"/>
<line x1="191.3" y1="548.1" x2="191.3" y2="673.5" stroke="#ececec" stroke-width="0.5"/>
<line x1="196.65" y1="548.1" x2="196.65" y2="673.5" stroke="#ececec" stroke-width="0.5"/>
<line x1="36.2" y1="663.05" x2="202" y2="663.05" stroke="#ececec" stroke-width="0.5"/>
<line x1="36.2" y1="652.6" x2="202" y2="652.6" stroke="#ececec" stroke-width="0.5"/>
<line x1="36.2" y1="642.15" x2="202" y2="642.15" stroke="#ececec" stroke-width="0.5"/>
<line x1="36.2" y1="631.7" x2="202" y2="631.7" stroke="#ececec" stroke-width="0.5"/>
<line x1="36.2" y1="621.25" x2="202" y2="621.25" stroke="#ececec" stroke-width="0.5"/>
<line x1="36.2" y1="610.8" x2="202" y2="610.8" stroke="#ececec" stroke-width="0.5"/>
<line x1="36.2" y1="600.35" x2="202" y2="600.35" stroke="#ececec" stroke-width="0.5"/>
<line x1="36.2" y1="589.9" x2="202" y2="589.9" stroke="#ececec" stroke-width="0.5"/>
<line x1="36.2" y1="579.45" x2="202" y2="579.45" stroke="#ececec" stroke-width="0.5"/>
<line x1="36.2" y1="569" x2="202" y2="569" stroke="#ececec" stroke-width="0.5"/>
<line x1="36.2" y1="558.55" x2="202" y2="558.55" stroke="#ececec" stroke-width="0.5"/>
<line x1="38.87" y1="548.1" x2="38.87" y2="673.5" stroke="#dadada" stroke-width="0.7"/>
<line x1="49.57" y1="548.1" x2="49.57" y2="673.5" stroke="#dadada" stroke-width="0.7"/>
<line x1="60.27" y1="548.1" x2="60.27" y2="673.5" stroke="#dadada" stroke-width="0.7"/>
<line x1="70.96" y1="548.1" x2="70.96" y2="673.5" stroke="#dadada" stroke-width="0.7"/>
<line x1="81.66" y1="548.1" x2="81.66" y2="673.5" stroke="#dadada" stroke-width="0.7"/>
<line x1="92.36" y1="548.1" x2="92.36" y2="673.5" stroke="#dadada" stroke-width="0.7"/>
<line x1="103.05" y1="548.1" x2="103.05" y2="673.5" stroke="#dadada" stroke-width="0.7"/>
<line x1="113.75" y1="548.1" x2="113.75" y2="673.5" stroke="#dadada" stroke-width="0.7"/>
<line x1="124.45" y1="548.1" x2="124.45" y2="673.5" stroke="#dadada" stroke-width="0.7"/>
<line x1="135.15" y1="548.1" x2="135.15" y2="673.5" stroke="#dadada" stroke-width="0.7"/>
<line x1="145.84" y1="548.1" x2="145.84" y2="673.5" stroke="#dadada" stroke-width="0.7"/>
<line x1="156.54" y1="548.1" x2="156.54" y2="673.5" stroke="#dadada" stroke-width="0.7"/>
<line x1="167.24" y1="548.1" x2="167.24" y2="673.5" stroke="#dadada" stroke-width="0.7"/>
<line x1="177.93" y1="548.1" x2="177.93" y2="673.5" stroke="#dadada" stroke-width="0.7"/>
<line x1="188.63" y1="548.1" x2="188.63" y2="673.5" stroke="#dadada" stroke-width="0.7"/>
<line x1="199.33" y1="548.1" x2="199.33" y2="673.5" stroke="#dadada" stroke-width="0.7"/>
<line x1="36.2" y1="652.6" x2="202" y2="652.6" stroke="#dadada" stroke-width="0.7"/>
<line x1="36.2" y1="631.7" x2="202" y2="631.7" stroke="#dadada" stroke-width="0.7"/>
<line x1="36.2" y1="610.8" x2="202" y2="610.8" stroke="#dadada" stroke-width="0.7"/>
<line x1="36.2" y1="589.9" x2="202" y2="589.9" stroke="#dadada" stroke-width="0.7"/>
<line x1="36.2" y1="569" x2="202" y2="569" stroke="#dadada" stroke-width="0.7"/>
<line x1="38.87" y1="673.5" x2="38.87" y2="671.1" stroke="#000" stroke-width="0.8"/>
<line x1="38.87" y1="548.1" x2="38.87" y2="550.5" stroke="#000" stroke-width="0.8"/>
<line x1="49.57" y1="673.5" x2="49.57" y2="671.1" stroke="#000" stroke-width="0.8"/>
<line x1="49.57" y1="548.1" x2="49.57" y2="550.5" stroke="#000" stroke-width="0.8"/>
<line x1="60.27" y1="673.5" x2="60.27" y2="671.1" stroke="#000" stroke-width="0.8"/>
<line x1="60.27" y1="548.1" x2="60.27" y2="550.5" stroke="#000" stroke-width="0.8"/>
<line x1="70.96" y1="673.5" x2="70.96" y2="671.1" stroke="#000" stroke-width="0.8"/>
<line x1="70.96" y1="548.1" x2="70.96" y2="550.5" stroke="#000" stroke-width="0.8"/>
<line x1="81.66" y1="673.5" x2="81.66" y2="671.1" stroke="#000" stroke-width="0.8"/>
<line x1="81.66" y1="548.1" x2="81.66" y2="550.5" stroke="#000" stroke-width="0.8"/>
<line x1="92.36" y1="673.5" x2="92.36" y2="671.1" stroke="#000" stroke-width="0.8"/>
<line x1="92.36" y1="548.1" x2="92.36" y2="550.5" stroke="#000" stroke-width="0.8"/>
<line x1="103.05" y1="673.5" x2="103.05" y2="671.1" stroke="#000" stroke-width="0.8"/>
<line x1="103.05" y1="548.1" x2="103.05" y2="550.5" stroke="#000" stroke-width="0.8"/>
<line x1="113.75" y1="673.5" x2="113.75" y2="671.1" stroke="#000" stroke-width="0.8"/>
<line x1="113.75" y1="548.1" x2="113.75" y2="550.5" stroke="#000" stroke-width="0.8"/>
<line x1="124.45" y1="673.5" x2="124.45" y2="671.1" stroke="#000" stroke-width="0.8"/>
<line x1="124.45" y1="548.1" x2="124.45" y2="550.5" stroke="#000" stroke-width="0.8"/>
<line x1="135.15" y1="673.5" x2="135.15" y2="671.1" stroke="#000" stroke-width="0.8"/>
<line x1="135.15" y1="548.1" x2="135.15" y2="550.5" stroke="#000" stroke-width="0.8"/>
<line x1="145.84" y1="673.5" x2="145.84" y2="671.1" stroke="#000" stroke-width="0.8"/>
<line x1="145.84" y1="548.1" x2="145.84" y2="550.5" stroke="#000" stroke-width="0.8"/>
<line x1="156.54" y1="673.5" x2="156.54" y2="671.1" stroke="#000" stroke-width="0.8"/>
<line x1="156.54" y1="548.1" x2="156.54" y2="550.5" stroke="#000" stroke-width="0.8"/>
<line x1="167.24" y1="673.5" x2="167.24" y2="671.1" stroke="#000" stroke-width="0.8"/>
<line x1="167.24" y1="548.1" x2="167.24" y2="550.5" stroke="#000" stroke-width="0.8"/>
<line x1="177.93" y1="673.5" x2="177.93" y2="671.1" stroke="#000" stroke-width="0.8"/>
<line x1="177.93" y1="548.1" x2="177.93" y2="550.5" stroke="#000" stroke-width="0.8"/>
<line x1="188.63" y1="673.5" x2="188.63" y2="671.1" stroke="#000" stroke-width="0.8"/>
<line x1="188.63" y1="548.1" x2="188.63" y2="550.5" stroke="#000" stroke-width="0.8"/>
<line x1="199.33" y1="673.5" x2="199.33" y2="671.1" stroke="#000" stroke-width="0.8"/>
<line x1="199.33" y1="548.1" x2="199.33" y2="550.5" stroke="#000" stroke-width="0.8"/>
<line x1="36.2" y1="673.5" x2="36.2" y2="672.1" stroke="#000" stroke-width="0.8"/>
<line x1="36.2" y1="548.1" x2="36.2" y2="549.5" stroke="#000" stroke-width="0.8"/>
<line x1="41.55" y1="673.5" x2="41.55" y2="672.1" stroke="#000" stroke-width="0.8"/>
<line x1="41.55" y1="548.1" x2="41.55" y2="549.5" stroke="#000" stroke-width="0.8"/>
<line x1="46.9" y1="673.5" x2="46.9" y2="672.1" stroke="#000" stroke-width="0.8"/>
<line x1="46.9" y1="548.1" x2="46.9" y2="549.5" stroke="#000" stroke-width="0.8"/>
<line x1="52.25" y1="673.5" x2="52.25" y2="672.1" stroke="#000" stroke-width="0.8"/>
<line x1="52.25" y1="548.1" x2="52.25" y2="549.5" stroke="#000" stroke-width="0.8"/>
<line x1="57.59" y1="673.5" x2="57.59" y2="672.1" stroke="#000" stroke-width="0.8"/>
<line x1="57.59" y1="548.1" x2="57.59" y2="549.5" stroke="#000" stroke-width="0.8"/>
<line x1="62.94" y1="673.5" x2="62.94" y2="672.1" stroke="#000" stroke-width="0.8"/>
<line x1="62.94" y1="548.1" x2="62.94" y2="549.5" stroke="#000" stroke-width="0.8"/>
<line x1="68.29" y1="673.5" x2="68.29" y2="672.1" stroke="#000" stroke-width="0.8"/>
<line x1="68.29" y1="548.1" x2="68.29" y2="549.5" stroke="#000" stroke-width="0.8"/>
<line x1="73.64" y1="673.5" x2="73.64" y2="672.1" stroke="#000" stroke-width="0.8"/>
<line x1="73.64" y1="548.1" x2="73.64" y2="549.5" stroke="#000" stroke-width="0.8"/>
<line x1="78.99" y1="673.5" x2="78.99" y2="672.1" stroke="#000" stroke-width="0.8"/>
<line x1="78.99" y1="548.1" x2="78.99" y2="549.5" stroke="#000" stroke-width="0.8"/>
<line x1="84.34" y1="673.5" x2="84.34" y2="672.1" stroke="#000" stroke-width="0.8"/>
<line x1="84.34" y1="548.1" x2="84.34" y2="549.5" stroke="#000" stroke-width="0.8"/>
<line x1="89.68" y1="673.5" x2="89.68" y2="672.1" stroke="#000" stroke-width="0.8"/>
<line x1="89.68" y1="548.1" x2="89.68" y2="549.5" stroke="#000" stroke-width="0.8"/>
<line x1="95.03" y1="673.5" x2="95.03" y2="672.1" stroke="#000" stroke-width="0.8"/>
<line x1="95.03" y1="548.1" x2="95.03" y2="549.5" stroke="#000" stroke-width="0.8"/>
<line x1="100.38" y1="673.5" x2="100.38" y2="672.1" stroke="#000" stroke-width="0.8"/>
<line x1="100.38" y1="548.1" x2="100.38" y2="549.5" stroke="#000" stroke-width="0.8"/>
<line x1="105.73" y1="673.5" x2="105.73" y2="672.1" stroke="#000" stroke-width="0.8"/>
<line x1="105.73" y1="548.1" x2="105.73" y2="549.5" stroke="#000" stroke-width="0.8"/>
<line x1="111.08" y1="673.5" x2="111.08" y2="672.1" stroke="#000" stroke-width="0.8"/>
<line x1="111.08" y1="548.1" x2="111.08" y2="549.5" stroke="#000" stroke-width="0.8"/>
<line x1="116.43" y1="673.5" x2="116.43" y2="672.1" stroke="#000" stroke-width="0.8"/>
<line x1="116.43" y1="548.1" x2="116.43" y2="549.5" stroke="#000" stroke-width="0.8"/>
<line x1="121.77" y1="673.5" x2="121.77" y2="672.1" stroke="#000" stroke-width="0.8"/>
<line x1="121.77" y1="548.1" x2="121.77" y2="549.5" stroke="#000" stroke-width="0.8"/>
<line x1="127.12" y1="673.5" x2="127.12" y2="672.1" stroke="#000" stroke-width="0.8"/>
<line x1="127.12" y1="548.1" x2="127.12" y2="549.5" stroke="#000" stroke-width="0.8"/>
<line x1="132.47" y1="673.5" x2="132.47" y2="672.1" stroke="#000" stroke-width="0.8"/>
<line x1="132.47" y1="548.1" x2="132.47" y2="549.5" stroke="#000" stroke-width="0.8"/>
<line x1="137.82" y1="673.5" x2="137.82" y2="672.1" stroke="#000" stroke-width="0.8"/>
<line x1="137.82" y1="548.1" x2="137.82" y2="549.5" stroke="#000" stroke-width="0.8"/>
<line x1="143.17" y1="673.5" x2="143.17" y2="672.1" stroke="#000" stroke-width="0.8"/>
<line x1="143.17" y1="548.1" x2="143.17" y2="549.5" stroke="#000" stroke-width="0.8"/>
<line x1="148.52" y1="673.5" x2="148.52" y2="672.1" stroke="#000" stroke-width="0.8"/>
<line x1="148.52" y1="548.1" x2="148.52" y2="549.5" stroke="#000" stroke-width="0.8"/>
<line x1="153.86" y1="673.5" x2="153.86" y2="672.1" stroke="#000" stroke-width="0.8"/>
<line x1="153.86" y1="548.1" x2="153.86" y2="549.5" stroke="#000" stroke-width="0.8"/>
<line x1="159.21" y1="673.5" x2="159.21" y2="672.1" stroke="#000" stroke-width="0.8"/>
<line x1="159.21" y1="548.1" x2="159.21" y2="549.5" stroke="#000" stroke-width="0.8"/>
<line x1="164.56" y1="673.5" x2="164.56" y2="672.1" stroke="#000" stroke-width="0.8"/>
<line x1="164.56" y1="548.1" x2="164.56" y2="549.5" stroke="#000" stroke-width="0.8"/>
<line x1="169.91" y1="673.5" x2="169.91" y2="672.1" stroke="#000" stroke-width="0.8"/>
<line x1="169.91" y1="548.1" x2="169.91" y2="549.5" stroke="#000" stroke-width="0.8"/>
<line x1="175.26" y1="673.5" x2="175.26" y2="672.1" stroke="#000" stroke-width="0.8"/>
<line x1="175.26" y1="548.1" x2="175.26" y2="549.5" stroke="#000" stroke-width="0.8"/>
<line x1="180.61" y1="673.5" x2="180.61" y2="672.1" stroke="#000" stroke-width="0.8"/>
<line x1="180.61" y1="548.1" x2="180.61" y2="549.5" stroke="#000" stroke-width="0.8"/>
<line x1="185.95" y1="673.5" x2="185.95" y2="672.1" stroke="#000" stroke-width="0.8"/>
<line x1="185.95" y1="548.1" x2="185.95" y2="549.5" stroke="#000" stroke-width="0.8"/>
<line x1="191.3" y1="673.5" x2="191.3" y2="672.1" stroke="#000" stroke-width="0.8"/>
<line x1="191.3" y1="548.1" x2="191.3" y2="549.5" stroke="#000" stroke-width="0.8"/>
<line x1="196.65" y1="673.5" x2="196.65" y2="672.1" stroke="#000" stroke-width="0.8"/>
<line x1="196.65" y1="548.1" x2="196.65" y2="549.5" stroke="#000" stroke-width="0.8"/>
<line x1="202" y1="673.5" x2="202" y2="672.1" stroke="#000" stroke-width="0.8"/>
<line x1="202" y1="548.1" x2="202" y2="549.5" stroke="#000" stroke-width="0.8"/>
<line x1="36.2" y1="673.5" x2="38.6" y2="673.5" stroke="#000" stroke-width="0.8"/>
<line x1="202" y1="673.5" x2="199.6" y2="673.5" stroke="#000" stroke-width="0.8"/>
<line x1="36.2" y1="652.6" x2="38.6" y2="652.6" stroke="#000" stroke-width="0.8"/>
<line x1="202" y1="652.6" x2="199.6" y2="652.6" stroke="#000" stroke-width="0.8"/>
<line x1="36.2" y1="631.7" x2="38.6" y2="631.7" stroke="#000" stroke-width="0.8"/>
<line x1="202" y1="631.7" x2="199.6" y2="631.7" stroke="#000" stroke-width="0.8"/>
<line x1="36.2" y1="610.8" x2="38.6" y2="610.8" stroke="#000" stroke-width="0.8"/>
<line x1="202" y1="610.8" x2="199.6" y2="610.8" stroke="#000" stroke-width="0.8"/>
<line x1="36.2" y1="589.9" x2="38.6" y2="589.9" stroke="#000" stroke-width="0.8"/>
<line x1="202" y1="589.9" x2="199.6" y2="589.9" stroke="#000" stroke-width="0.8"/>
<line x1="36.2" y1="569" x2="38.6" y2="569" stroke="#000" stroke-width="0.8"/>
<line x1="202" y1="569" x2="199.6" y2="569" stroke="#000" stroke-width="0.8"/>
<line x1="36.2" y1="548.1" x2="38.6" y2="548.1" stroke="#000" stroke-width="0.8"/>
<line x1="202" y1="548.1" x2="199.6" y2="548.1" stroke="#000" stroke-width="0.8"/>
<line x1="36.2" y1="673.5" x2="37.6" y2="673.5" stroke="#000" stroke-width="0.8"/>
<line x1="202" y1="673.5" x2="200.6" y2="673.5" stroke="#000" stroke-width="0.8"/>
<line x1="36.2" y1="663.05" x2="37.6" y2="663.05" stroke="#000" stroke-width="0.8"/>
<line x1="202" y1="663.05" x2="200.6" y2="663.05" stroke="#000" stroke-width="0.8"/>
<line x1="36.2" y1="652.6" x2="37.6" y2="652.6" stroke="#000" stroke-width="0.8"/>
<line x1="202" y1="652.6" x2="200.6" y2="652.6" stroke="#000" stroke-width="0.8"/>
<line x1="36.2" y1="642.15" x2="37.6" y2="642.15" stroke="#000" stroke-width="0.8"/>
<line x1="202" y1="642.15" x2="200.6" y2="642.15" stroke="#000" stroke-width="0.8"/>
<line x1="36.2" y1="631.7" x2="37.6" y2="631.7" stroke="#000" stroke-width="0.8"/>
<line x1="202" y1="631.7" x2="200.6" y2="631.7" stroke="#000" stroke-width="0.8"/>
<line x1="36.2" y1="621.25" x2="37.6" y2="621.25" stroke="#000" stroke-width="0.8"/>
<line x1="202" y1="621.25" x2="200.6" y2="621.25" stroke="#000" stroke-width="0.8"/>
<line x1="36.2" y1="610.8" x2="37.6" y2="610.8" stroke="#000" stroke-width="0.8"/>
<line x1="202" y1="610.8" x2="200.6" y2="610.8" stroke="#000" stroke-width="0.8"/>
<line x1="36.2" y1="600.35" x2="37.6" y2="600.35" stroke="#000" stroke-width="0.8"/>
<line x1="202" y1="600.35" x2="200.6" y2="600.35" stroke="#000" stroke-width="0.8"/>
<line x1="36.2" y1="589.9" x2="37.6" y2="589.9" stroke="#000" stroke-width="0.8"/>
<line x1="202" y1="589.9" x2="200.6" y2="589.9" stroke="#000" stroke-width="0.8"/>
<line x1="36.2" y1="579.45" x2="37.6" y2="579.45" stroke="#000" stroke-width="0.8"/>
<line x1="202" y1="579.45" x2="200.6" y2="579.45" stroke="#000" stroke-width="0.8"/>
<line x1="36.2" y1="569" x2="37.6" y2="569" stroke="#000" stroke-width="0.8"/>
<line x1="202" y1="569" x2="200.6" y2="569" stroke="#000" stroke-width="0.8"/>
<line x1="36.2" y1="558.55" x2="37.6" y2="558.55" stroke="#000" stroke-width="0.8"/>
<line x1="202" y1="558.55" x2="200.6" y2="558.55" stroke="#000" stroke-width="0.8"/>
<line x1="36.2" y1="548.1" x2="37.6" y2="548.1" stroke="#000" stroke-width="0.8"/>
<line x1="202" y1="548.1" x2="200.6" y2="548.1" stroke="#000" stroke-width="0.8"/>
<line x1="38.87" y1="660.42" x2="188.63" y2="555.2" stroke="#0000ff" stroke-width="1.1"/>
<rect x="37.47" y="663.74" width="2.8" height="2.8" fill="#ff0000"/>
<rect x="42.82" y="659.14" width="2.8" height="2.8" fill="#ff0000"/>
<rect x="58.87" y="644.51" width="2.8" height="2.8" fill="#ff0000"/>
<rect x="74.91" y="629.46" width="2.8" height="2.8" fill="#ff0000"/>
<rect x="90.96" y="617.34" width="2.8" height="2.8" fill="#ff0000"/>
<rect x="107" y="606.89" width="2.8" height="2.8" fill="#ff0000"/>
<rect x="123.05" y="596.44" width="2.8" height="2.8" fill="#ff0000"/>
<rect x="139.09" y="584.74" width="2.8" height="2.8" fill="#ff0000"/>
<rect x="155.14" y="574.71" width="2.8" height="2.8" fill="#ff0000"/>
<rect x="171.18" y="567.6" width="2.8" height="2.8" fill="#ff0000"/>
<rect x="187.23" y="559.24" width="2.8" height="2.8" fill="#ff0000"/>
<line x1="36.2" y1="673.5" x2="202" y2="673.5" stroke="#444" stroke-width="1.4" stroke-linecap="square"/>
<line x1="36.2" y1="548.1" x2="36.2" y2="673.5" stroke="#444" stroke-width="1.4" stroke-linecap="square"/>
<line x1="36.2" y1="548.1" x2="202" y2="548.1" stroke="#444" stroke-width="1.4" stroke-linecap="square"/>
<line x1="202" y1="548.1" x2="202" y2="673.5" stroke="#444" stroke-width="1.4" stroke-linecap="square"/>
<text x="32.2" y="676.02" font-size="7" stroke="#000" stroke-width="0.22" text-anchor="end" textLength="11.5" lengthAdjust="spacingAndGlyphs">640</text>
<text x="32.2" y="655.12" font-size="7" stroke="#000" stroke-width="0.22" text-anchor="end" textLength="11.5" lengthAdjust="spacingAndGlyphs">645</text>
<text x="32.2" y="634.22" font-size="7" stroke="#000" stroke-width="0.22" text-anchor="end" textLength="11.5" lengthAdjust="spacingAndGlyphs">650</text>
<text x="32.2" y="613.32" font-size="7" stroke="#000" stroke-width="0.22" text-anchor="end" textLength="11.5" lengthAdjust="spacingAndGlyphs">655</text>
<text x="32.2" y="592.42" font-size="7" stroke="#000" stroke-width="0.22" text-anchor="end" textLength="11.5" lengthAdjust="spacingAndGlyphs">660</text>
<text x="32.2" y="571.52" font-size="7" stroke="#000" stroke-width="0.22" text-anchor="end" textLength="11.5" lengthAdjust="spacingAndGlyphs">665</text>
<text x="32.2" y="550.62" font-size="7" stroke="#000" stroke-width="0.22" text-anchor="end" textLength="11.5" lengthAdjust="spacingAndGlyphs">670</text>
<text x="40.87" y="679.3" font-size="7.2" stroke="#000" stroke-width="0.22" text-anchor="end" dominant-baseline="central" transform="rotate(-45 40.87 679.3)">2.0</text>
<text x="51.57" y="679.3" font-size="7.2" stroke="#000" stroke-width="0.22" text-anchor="end" dominant-baseline="central" transform="rotate(-45 51.57 679.3)">2.2</text>
<text x="62.27" y="679.3" font-size="7.2" stroke="#000" stroke-width="0.22" text-anchor="end" dominant-baseline="central" transform="rotate(-45 62.27 679.3)">2.4</text>
<text x="72.96" y="679.3" font-size="7.2" stroke="#000" stroke-width="0.22" text-anchor="end" dominant-baseline="central" transform="rotate(-45 72.96 679.3)">2.6</text>
<text x="83.66" y="679.3" font-size="7.2" stroke="#000" stroke-width="0.22" text-anchor="end" dominant-baseline="central" transform="rotate(-45 83.66 679.3)">2.8</text>
<text x="94.36" y="679.3" font-size="7.2" stroke="#000" stroke-width="0.22" text-anchor="end" dominant-baseline="central" transform="rotate(-45 94.36 679.3)">3.0</text>
<text x="105.05" y="679.3" font-size="7.2" stroke="#000" stroke-width="0.22" text-anchor="end" dominant-baseline="central" transform="rotate(-45 105.05 679.3)">3.2</text>
<text x="115.75" y="679.3" font-size="7.2" stroke="#000" stroke-width="0.22" text-anchor="end" dominant-baseline="central" transform="rotate(-45 115.75 679.3)">3.4</text>
<text x="126.45" y="679.3" font-size="7.2" stroke="#000" stroke-width="0.22" text-anchor="end" dominant-baseline="central" transform="rotate(-45 126.45 679.3)">3.6</text>
<text x="137.15" y="679.3" font-size="7.2" stroke="#000" stroke-width="0.22" text-anchor="end" dominant-baseline="central" transform="rotate(-45 137.15 679.3)">3.8</text>
<text x="147.84" y="679.3" font-size="7.2" stroke="#000" stroke-width="0.22" text-anchor="end" dominant-baseline="central" transform="rotate(-45 147.84 679.3)">4.0</text>
<text x="158.54" y="679.3" font-size="7.2" stroke="#000" stroke-width="0.22" text-anchor="end" dominant-baseline="central" transform="rotate(-45 158.54 679.3)">4.2</text>
<text x="169.24" y="679.3" font-size="7.2" stroke="#000" stroke-width="0.22" text-anchor="end" dominant-baseline="central" transform="rotate(-45 169.24 679.3)">4.4</text>
<text x="179.93" y="679.3" font-size="7.2" stroke="#000" stroke-width="0.22" text-anchor="end" dominant-baseline="central" transform="rotate(-45 179.93 679.3)">4.6</text>
<text x="190.63" y="679.3" font-size="7.2" stroke="#000" stroke-width="0.22" text-anchor="end" dominant-baseline="central" transform="rotate(-45 190.63 679.3)">4.8</text>
<text x="201.33" y="679.3" font-size="7.2" stroke="#000" stroke-width="0.22" text-anchor="end" dominant-baseline="central" transform="rotate(-45 201.33 679.3)">5.0</text>
<text x="13.9" y="610.8" font-size="7.2" font-weight="bold" text-anchor="middle" transform="rotate(-90 13.9 610.8)">Capacitance (pF)</text>
<text x="118.2" y="698.7" font-size="7.2" font-weight="bold" text-anchor="middle">Pressure (MPa)</text>
<rect x="38.6" y="550.8" width="73.9" height="22.9" fill="#fff" stroke="#444" stroke-width="0.8"/>
<rect x="48.4" y="555.6" width="2.6" height="2.6" fill="#ff0000"/>
<text x="63.8" y="559" font-size="5.8" font-weight="bold" fill="#ff0000" textLength="20.5" lengthAdjust="spacingAndGlyphs">Testing</text>
<line x1="39.3" y1="568.6" x2="58.9" y2="568.6" stroke="#0000ff" stroke-width="1.1"/>
<text x="63.8" y="570.7" font-size="5.8" font-weight="bold" fill="#0000ff" textLength="35.2" lengthAdjust="spacingAndGlyphs">Linear fitting</text>
<text x="118.2" y="564.7" font-size="7.1" font-weight="bold" fill="#ff0000" textLength="26.8" lengthAdjust="spacingAndGlyphs">2-5 MPa</text>
<text x="97.4" y="636.8" font-size="5.6" font-weight="bold" fill="#0000ff" textLength="49.3" lengthAdjust="spacingAndGlyphs"><tspan font-style="italic">y</tspan> = 625.15 + 8.99<tspan font-style="italic">x</tspan></text>
<text x="97.4" y="648.5" font-size="5.6" font-weight="bold" fill="#0000ff" textLength="30.2" lengthAdjust="spacingAndGlyphs"><tspan font-style="italic">R</tspan><tspan font-size="3.6" dy="-2">2</tspan><tspan dy="2"> = 0.9903</tspan></text>
<line x1="268.04" y1="548.2" x2="268.04" y2="673.7" stroke="#ececec" stroke-width="0.5"/>
<line x1="274.4" y1="548.2" x2="274.4" y2="673.7" stroke="#ececec" stroke-width="0.5"/>
<line x1="280.76" y1="548.2" x2="280.76" y2="673.7" stroke="#ececec" stroke-width="0.5"/>
<line x1="287.11" y1="548.2" x2="287.11" y2="673.7" stroke="#ececec" stroke-width="0.5"/>
<line x1="293.47" y1="548.2" x2="293.47" y2="673.7" stroke="#ececec" stroke-width="0.5"/>
<line x1="299.83" y1="548.2" x2="299.83" y2="673.7" stroke="#ececec" stroke-width="0.5"/>
<line x1="306.18" y1="548.2" x2="306.18" y2="673.7" stroke="#ececec" stroke-width="0.5"/>
<line x1="312.54" y1="548.2" x2="312.54" y2="673.7" stroke="#ececec" stroke-width="0.5"/>
<line x1="318.9" y1="548.2" x2="318.9" y2="673.7" stroke="#ececec" stroke-width="0.5"/>
<line x1="325.25" y1="548.2" x2="325.25" y2="673.7" stroke="#ececec" stroke-width="0.5"/>
<line x1="331.61" y1="548.2" x2="331.61" y2="673.7" stroke="#ececec" stroke-width="0.5"/>
<line x1="337.97" y1="548.2" x2="337.97" y2="673.7" stroke="#ececec" stroke-width="0.5"/>
<line x1="344.32" y1="548.2" x2="344.32" y2="673.7" stroke="#ececec" stroke-width="0.5"/>
<line x1="350.68" y1="548.2" x2="350.68" y2="673.7" stroke="#ececec" stroke-width="0.5"/>
<line x1="357.03" y1="548.2" x2="357.03" y2="673.7" stroke="#ececec" stroke-width="0.5"/>
<line x1="363.39" y1="548.2" x2="363.39" y2="673.7" stroke="#ececec" stroke-width="0.5"/>
<line x1="369.75" y1="548.2" x2="369.75" y2="673.7" stroke="#ececec" stroke-width="0.5"/>
<line x1="376.1" y1="548.2" x2="376.1" y2="673.7" stroke="#ececec" stroke-width="0.5"/>
<line x1="382.46" y1="548.2" x2="382.46" y2="673.7" stroke="#ececec" stroke-width="0.5"/>
<line x1="388.82" y1="548.2" x2="388.82" y2="673.7" stroke="#ececec" stroke-width="0.5"/>
<line x1="395.17" y1="548.2" x2="395.17" y2="673.7" stroke="#ececec" stroke-width="0.5"/>
<line x1="401.53" y1="548.2" x2="401.53" y2="673.7" stroke="#ececec" stroke-width="0.5"/>
<line x1="407.89" y1="548.2" x2="407.89" y2="673.7" stroke="#ececec" stroke-width="0.5"/>
<line x1="414.24" y1="548.2" x2="414.24" y2="673.7" stroke="#ececec" stroke-width="0.5"/>
<line x1="420.6" y1="548.2" x2="420.6" y2="673.7" stroke="#ececec" stroke-width="0.5"/>
<line x1="426.96" y1="548.2" x2="426.96" y2="673.7" stroke="#ececec" stroke-width="0.5"/>
<line x1="265.5" y1="668" x2="429.5" y2="668" stroke="#ececec" stroke-width="0.5"/>
<line x1="265.5" y1="662.29" x2="429.5" y2="662.29" stroke="#ececec" stroke-width="0.5"/>
<line x1="265.5" y1="656.59" x2="429.5" y2="656.59" stroke="#ececec" stroke-width="0.5"/>
<line x1="265.5" y1="650.88" x2="429.5" y2="650.88" stroke="#ececec" stroke-width="0.5"/>
<line x1="265.5" y1="645.18" x2="429.5" y2="645.18" stroke="#ececec" stroke-width="0.5"/>
<line x1="265.5" y1="639.47" x2="429.5" y2="639.47" stroke="#ececec" stroke-width="0.5"/>
<line x1="265.5" y1="633.77" x2="429.5" y2="633.77" stroke="#ececec" stroke-width="0.5"/>
<line x1="265.5" y1="628.06" x2="429.5" y2="628.06" stroke="#ececec" stroke-width="0.5"/>
<line x1="265.5" y1="622.36" x2="429.5" y2="622.36" stroke="#ececec" stroke-width="0.5"/>
<line x1="265.5" y1="616.65" x2="429.5" y2="616.65" stroke="#ececec" stroke-width="0.5"/>
<line x1="265.5" y1="610.95" x2="429.5" y2="610.95" stroke="#ececec" stroke-width="0.5"/>
<line x1="265.5" y1="605.25" x2="429.5" y2="605.25" stroke="#ececec" stroke-width="0.5"/>
<line x1="265.5" y1="599.54" x2="429.5" y2="599.54" stroke="#ececec" stroke-width="0.5"/>
<line x1="265.5" y1="593.84" x2="429.5" y2="593.84" stroke="#ececec" stroke-width="0.5"/>
<line x1="265.5" y1="588.13" x2="429.5" y2="588.13" stroke="#ececec" stroke-width="0.5"/>
<line x1="265.5" y1="582.43" x2="429.5" y2="582.43" stroke="#ececec" stroke-width="0.5"/>
<line x1="265.5" y1="576.72" x2="429.5" y2="576.72" stroke="#ececec" stroke-width="0.5"/>
<line x1="265.5" y1="571.02" x2="429.5" y2="571.02" stroke="#ececec" stroke-width="0.5"/>
<line x1="265.5" y1="565.31" x2="429.5" y2="565.31" stroke="#ececec" stroke-width="0.5"/>
<line x1="265.5" y1="559.61" x2="429.5" y2="559.61" stroke="#ececec" stroke-width="0.5"/>
<line x1="265.5" y1="553.9" x2="429.5" y2="553.9" stroke="#ececec" stroke-width="0.5"/>
<line x1="274.4" y1="548.2" x2="274.4" y2="673.7" stroke="#dadada" stroke-width="0.7"/>
<line x1="287.11" y1="548.2" x2="287.11" y2="673.7" stroke="#dadada" stroke-width="0.7"/>
<line x1="299.83" y1="548.2" x2="299.83" y2="673.7" stroke="#dadada" stroke-width="0.7"/>
<line x1="312.54" y1="548.2" x2="312.54" y2="673.7" stroke="#dadada" stroke-width="0.7"/>
<line x1="325.25" y1="548.2" x2="325.25" y2="673.7" stroke="#dadada" stroke-width="0.7"/>
<line x1="337.97" y1="548.2" x2="337.97" y2="673.7" stroke="#dadada" stroke-width="0.7"/>
<line x1="350.68" y1="548.2" x2="350.68" y2="673.7" stroke="#dadada" stroke-width="0.7"/>
<line x1="363.39" y1="548.2" x2="363.39" y2="673.7" stroke="#dadada" stroke-width="0.7"/>
<line x1="376.1" y1="548.2" x2="376.1" y2="673.7" stroke="#dadada" stroke-width="0.7"/>
<line x1="388.82" y1="548.2" x2="388.82" y2="673.7" stroke="#dadada" stroke-width="0.7"/>
<line x1="401.53" y1="548.2" x2="401.53" y2="673.7" stroke="#dadada" stroke-width="0.7"/>
<line x1="414.24" y1="548.2" x2="414.24" y2="673.7" stroke="#dadada" stroke-width="0.7"/>
<line x1="426.96" y1="548.2" x2="426.96" y2="673.7" stroke="#dadada" stroke-width="0.7"/>
<line x1="265.5" y1="662.29" x2="429.5" y2="662.29" stroke="#dadada" stroke-width="0.7"/>
<line x1="265.5" y1="650.88" x2="429.5" y2="650.88" stroke="#dadada" stroke-width="0.7"/>
<line x1="265.5" y1="639.47" x2="429.5" y2="639.47" stroke="#dadada" stroke-width="0.7"/>
<line x1="265.5" y1="628.06" x2="429.5" y2="628.06" stroke="#dadada" stroke-width="0.7"/>
<line x1="265.5" y1="616.65" x2="429.5" y2="616.65" stroke="#dadada" stroke-width="0.7"/>
<line x1="265.5" y1="605.25" x2="429.5" y2="605.25" stroke="#dadada" stroke-width="0.7"/>
<line x1="265.5" y1="593.84" x2="429.5" y2="593.84" stroke="#dadada" stroke-width="0.7"/>
<line x1="265.5" y1="582.43" x2="429.5" y2="582.43" stroke="#dadada" stroke-width="0.7"/>
<line x1="265.5" y1="571.02" x2="429.5" y2="571.02" stroke="#dadada" stroke-width="0.7"/>
<line x1="265.5" y1="559.61" x2="429.5" y2="559.61" stroke="#dadada" stroke-width="0.7"/>
<line x1="274.4" y1="673.7" x2="274.4" y2="671.3" stroke="#000" stroke-width="0.8"/>
<line x1="274.4" y1="548.2" x2="274.4" y2="550.6" stroke="#000" stroke-width="0.8"/>
<line x1="287.11" y1="673.7" x2="287.11" y2="671.3" stroke="#000" stroke-width="0.8"/>
<line x1="287.11" y1="548.2" x2="287.11" y2="550.6" stroke="#000" stroke-width="0.8"/>
<line x1="299.83" y1="673.7" x2="299.83" y2="671.3" stroke="#000" stroke-width="0.8"/>
<line x1="299.83" y1="548.2" x2="299.83" y2="550.6" stroke="#000" stroke-width="0.8"/>
<line x1="312.54" y1="673.7" x2="312.54" y2="671.3" stroke="#000" stroke-width="0.8"/>
<line x1="312.54" y1="548.2" x2="312.54" y2="550.6" stroke="#000" stroke-width="0.8"/>
<line x1="325.25" y1="673.7" x2="325.25" y2="671.3" stroke="#000" stroke-width="0.8"/>
<line x1="325.25" y1="548.2" x2="325.25" y2="550.6" stroke="#000" stroke-width="0.8"/>
<line x1="337.97" y1="673.7" x2="337.97" y2="671.3" stroke="#000" stroke-width="0.8"/>
<line x1="337.97" y1="548.2" x2="337.97" y2="550.6" stroke="#000" stroke-width="0.8"/>
<line x1="350.68" y1="673.7" x2="350.68" y2="671.3" stroke="#000" stroke-width="0.8"/>
<line x1="350.68" y1="548.2" x2="350.68" y2="550.6" stroke="#000" stroke-width="0.8"/>
<line x1="363.39" y1="673.7" x2="363.39" y2="671.3" stroke="#000" stroke-width="0.8"/>
<line x1="363.39" y1="548.2" x2="363.39" y2="550.6" stroke="#000" stroke-width="0.8"/>
<line x1="376.1" y1="673.7" x2="376.1" y2="671.3" stroke="#000" stroke-width="0.8"/>
<line x1="376.1" y1="548.2" x2="376.1" y2="550.6" stroke="#000" stroke-width="0.8"/>
<line x1="388.82" y1="673.7" x2="388.82" y2="671.3" stroke="#000" stroke-width="0.8"/>
<line x1="388.82" y1="548.2" x2="388.82" y2="550.6" stroke="#000" stroke-width="0.8"/>
<line x1="401.53" y1="673.7" x2="401.53" y2="671.3" stroke="#000" stroke-width="0.8"/>
<line x1="401.53" y1="548.2" x2="401.53" y2="550.6" stroke="#000" stroke-width="0.8"/>
<line x1="414.24" y1="673.7" x2="414.24" y2="671.3" stroke="#000" stroke-width="0.8"/>
<line x1="414.24" y1="548.2" x2="414.24" y2="550.6" stroke="#000" stroke-width="0.8"/>
<line x1="426.96" y1="673.7" x2="426.96" y2="671.3" stroke="#000" stroke-width="0.8"/>
<line x1="426.96" y1="548.2" x2="426.96" y2="550.6" stroke="#000" stroke-width="0.8"/>
<line x1="268.04" y1="673.7" x2="268.04" y2="672.3" stroke="#000" stroke-width="0.8"/>
<line x1="268.04" y1="548.2" x2="268.04" y2="549.6" stroke="#000" stroke-width="0.8"/>
<line x1="274.4" y1="673.7" x2="274.4" y2="672.3" stroke="#000" stroke-width="0.8"/>
<line x1="274.4" y1="548.2" x2="274.4" y2="549.6" stroke="#000" stroke-width="0.8"/>
<line x1="280.76" y1="673.7" x2="280.76" y2="672.3" stroke="#000" stroke-width="0.8"/>
<line x1="280.76" y1="548.2" x2="280.76" y2="549.6" stroke="#000" stroke-width="0.8"/>
<line x1="287.11" y1="673.7" x2="287.11" y2="672.3" stroke="#000" stroke-width="0.8"/>
<line x1="287.11" y1="548.2" x2="287.11" y2="549.6" stroke="#000" stroke-width="0.8"/>
<line x1="293.47" y1="673.7" x2="293.47" y2="672.3" stroke="#000" stroke-width="0.8"/>
<line x1="293.47" y1="548.2" x2="293.47" y2="549.6" stroke="#000" stroke-width="0.8"/>
<line x1="299.83" y1="673.7" x2="299.83" y2="672.3" stroke="#000" stroke-width="0.8"/>
<line x1="299.83" y1="548.2" x2="299.83" y2="549.6" stroke="#000" stroke-width="0.8"/>
<line x1="306.18" y1="673.7" x2="306.18" y2="672.3" stroke="#000" stroke-width="0.8"/>
<line x1="306.18" y1="548.2" x2="306.18" y2="549.6" stroke="#000" stroke-width="0.8"/>
<line x1="312.54" y1="673.7" x2="312.54" y2="672.3" stroke="#000" stroke-width="0.8"/>
<line x1="312.54" y1="548.2" x2="312.54" y2="549.6" stroke="#000" stroke-width="0.8"/>
<line x1="318.9" y1="673.7" x2="318.9" y2="672.3" stroke="#000" stroke-width="0.8"/>
<line x1="318.9" y1="548.2" x2="318.9" y2="549.6" stroke="#000" stroke-width="0.8"/>
<line x1="325.25" y1="673.7" x2="325.25" y2="672.3" stroke="#000" stroke-width="0.8"/>
<line x1="325.25" y1="548.2" x2="325.25" y2="549.6" stroke="#000" stroke-width="0.8"/>
<line x1="331.61" y1="673.7" x2="331.61" y2="672.3" stroke="#000" stroke-width="0.8"/>
<line x1="331.61" y1="548.2" x2="331.61" y2="549.6" stroke="#000" stroke-width="0.8"/>
<line x1="337.97" y1="673.7" x2="337.97" y2="672.3" stroke="#000" stroke-width="0.8"/>
<line x1="337.97" y1="548.2" x2="337.97" y2="549.6" stroke="#000" stroke-width="0.8"/>
<line x1="344.32" y1="673.7" x2="344.32" y2="672.3" stroke="#000" stroke-width="0.8"/>
<line x1="344.32" y1="548.2" x2="344.32" y2="549.6" stroke="#000" stroke-width="0.8"/>
<line x1="350.68" y1="673.7" x2="350.68" y2="672.3" stroke="#000" stroke-width="0.8"/>
<line x1="350.68" y1="548.2" x2="350.68" y2="549.6" stroke="#000" stroke-width="0.8"/>
<line x1="357.03" y1="673.7" x2="357.03" y2="672.3" stroke="#000" stroke-width="0.8"/>
<line x1="357.03" y1="548.2" x2="357.03" y2="549.6" stroke="#000" stroke-width="0.8"/>
<line x1="363.39" y1="673.7" x2="363.39" y2="672.3" stroke="#000" stroke-width="0.8"/>
<line x1="363.39" y1="548.2" x2="363.39" y2="549.6" stroke="#000" stroke-width="0.8"/>
<line x1="369.75" y1="673.7" x2="369.75" y2="672.3" stroke="#000" stroke-width="0.8"/>
<line x1="369.75" y1="548.2" x2="369.75" y2="549.6" stroke="#000" stroke-width="0.8"/>
<line x1="376.1" y1="673.7" x2="376.1" y2="672.3" stroke="#000" stroke-width="0.8"/>
<line x1="376.1" y1="548.2" x2="376.1" y2="549.6" stroke="#000" stroke-width="0.8"/>
<line x1="382.46" y1="673.7" x2="382.46" y2="672.3" stroke="#000" stroke-width="0.8"/>
<line x1="382.46" y1="548.2" x2="382.46" y2="549.6" stroke="#000" stroke-width="0.8"/>
<line x1="388.82" y1="673.7" x2="388.82" y2="672.3" stroke="#000" stroke-width="0.8"/>
<line x1="388.82" y1="548.2" x2="388.82" y2="549.6" stroke="#000" stroke-width="0.8"/>
<line x1="395.17" y1="673.7" x2="395.17" y2="672.3" stroke="#000" stroke-width="0.8"/>
<line x1="395.17" y1="548.2" x2="395.17" y2="549.6" stroke="#000" stroke-width="0.8"/>
<line x1="401.53" y1="673.7" x2="401.53" y2="672.3" stroke="#000" stroke-width="0.8"/>
<line x1="401.53" y1="548.2" x2="401.53" y2="549.6" stroke="#000" stroke-width="0.8"/>
<line x1="407.89" y1="673.7" x2="407.89" y2="672.3" stroke="#000" stroke-width="0.8"/>
<line x1="407.89" y1="548.2" x2="407.89" y2="549.6" stroke="#000" stroke-width="0.8"/>
<line x1="414.24" y1="673.7" x2="414.24" y2="672.3" stroke="#000" stroke-width="0.8"/>
<line x1="414.24" y1="548.2" x2="414.24" y2="549.6" stroke="#000" stroke-width="0.8"/>
<line x1="420.6" y1="673.7" x2="420.6" y2="672.3" stroke="#000" stroke-width="0.8"/>
<line x1="420.6" y1="548.2" x2="420.6" y2="549.6" stroke="#000" stroke-width="0.8"/>
<line x1="426.96" y1="673.7" x2="426.96" y2="672.3" stroke="#000" stroke-width="0.8"/>
<line x1="426.96" y1="548.2" x2="426.96" y2="549.6" stroke="#000" stroke-width="0.8"/>
<line x1="265.5" y1="673.7" x2="267.9" y2="673.7" stroke="#000" stroke-width="0.8"/>
<line x1="429.5" y1="673.7" x2="427.1" y2="673.7" stroke="#000" stroke-width="0.8"/>
<line x1="265.5" y1="662.29" x2="267.9" y2="662.29" stroke="#000" stroke-width="0.8"/>
<line x1="429.5" y1="662.29" x2="427.1" y2="662.29" stroke="#000" stroke-width="0.8"/>
<line x1="265.5" y1="650.88" x2="267.9" y2="650.88" stroke="#000" stroke-width="0.8"/>
<line x1="429.5" y1="650.88" x2="427.1" y2="650.88" stroke="#000" stroke-width="0.8"/>
<line x1="265.5" y1="639.47" x2="267.9" y2="639.47" stroke="#000" stroke-width="0.8"/>
<line x1="429.5" y1="639.47" x2="427.1" y2="639.47" stroke="#000" stroke-width="0.8"/>
<line x1="265.5" y1="628.06" x2="267.9" y2="628.06" stroke="#000" stroke-width="0.8"/>
<line x1="429.5" y1="628.06" x2="427.1" y2="628.06" stroke="#000" stroke-width="0.8"/>
<line x1="265.5" y1="616.65" x2="267.9" y2="616.65" stroke="#000" stroke-width="0.8"/>
<line x1="429.5" y1="616.65" x2="427.1" y2="616.65" stroke="#000" stroke-width="0.8"/>
<line x1="265.5" y1="605.25" x2="267.9" y2="605.25" stroke="#000" stroke-width="0.8"/>
<line x1="429.5" y1="605.25" x2="427.1" y2="605.25" stroke="#000" stroke-width="0.8"/>
<line x1="265.5" y1="593.84" x2="267.9" y2="593.84" stroke="#000" stroke-width="0.8"/>
<line x1="429.5" y1="593.84" x2="427.1" y2="593.84" stroke="#000" stroke-width="0.8"/>
<line x1="265.5" y1="582.43" x2="267.9" y2="582.43" stroke="#000" stroke-width="0.8"/>
<line x1="429.5" y1="582.43" x2="427.1" y2="582.43" stroke="#000" stroke-width="0.8"/>
<line x1="265.5" y1="571.02" x2="267.9" y2="571.02" stroke="#000" stroke-width="0.8"/>
<line x1="429.5" y1="571.02" x2="427.1" y2="571.02" stroke="#000" stroke-width="0.8"/>
<line x1="265.5" y1="559.61" x2="267.9" y2="559.61" stroke="#000" stroke-width="0.8"/>
<line x1="429.5" y1="559.61" x2="427.1" y2="559.61" stroke="#000" stroke-width="0.8"/>
<line x1="265.5" y1="548.2" x2="267.9" y2="548.2" stroke="#000" stroke-width="0.8"/>
<line x1="429.5" y1="548.2" x2="427.1" y2="548.2" stroke="#000" stroke-width="0.8"/>
<line x1="265.5" y1="673.7" x2="266.9" y2="673.7" stroke="#000" stroke-width="0.8"/>
<line x1="429.5" y1="673.7" x2="428.1" y2="673.7" stroke="#000" stroke-width="0.8"/>
<line x1="265.5" y1="668" x2="266.9" y2="668" stroke="#000" stroke-width="0.8"/>
<line x1="429.5" y1="668" x2="428.1" y2="668" stroke="#000" stroke-width="0.8"/>
<line x1="265.5" y1="662.29" x2="266.9" y2="662.29" stroke="#000" stroke-width="0.8"/>
<line x1="429.5" y1="662.29" x2="428.1" y2="662.29" stroke="#000" stroke-width="0.8"/>
<line x1="265.5" y1="656.59" x2="266.9" y2="656.59" stroke="#000" stroke-width="0.8"/>
<line x1="429.5" y1="656.59" x2="428.1" y2="656.59" stroke="#000" stroke-width="0.8"/>
<line x1="265.5" y1="650.88" x2="266.9" y2="650.88" stroke="#000" stroke-width="0.8"/>
<line x1="429.5" y1="650.88" x2="428.1" y2="650.88" stroke="#000" stroke-width="0.8"/>
<line x1="265.5" y1="645.18" x2="266.9" y2="645.18" stroke="#000" stroke-width="0.8"/>
<line x1="429.5" y1="645.18" x2="428.1" y2="645.18" stroke="#000" stroke-width="0.8"/>
<line x1="265.5" y1="639.47" x2="266.9" y2="639.47" stroke="#000" stroke-width="0.8"/>
<line x1="429.5" y1="639.47" x2="428.1" y2="639.47" stroke="#000" stroke-width="0.8"/>
<line x1="265.5" y1="633.77" x2="266.9" y2="633.77" stroke="#000" stroke-width="0.8"/>
<line x1="429.5" y1="633.77" x2="428.1" y2="633.77" stroke="#000" stroke-width="0.8"/>
<line x1="265.5" y1="628.06" x2="266.9" y2="628.06" stroke="#000" stroke-width="0.8"/>
<line x1="429.5" y1="628.06" x2="428.1" y2="628.06" stroke="#000" stroke-width="0.8"/>
<line x1="265.5" y1="622.36" x2="266.9" y2="622.36" stroke="#000" stroke-width="0.8"/>
<line x1="429.5" y1="622.36" x2="428.1" y2="622.36" stroke="#000" stroke-width="0.8"/>
<line x1="265.5" y1="616.65" x2="266.9" y2="616.65" stroke="#000" stroke-width="0.8"/>
<line x1="429.5" y1="616.65" x2="428.1" y2="616.65" stroke="#000" stroke-width="0.8"/>
<line x1="265.5" y1="610.95" x2="266.9" y2="610.95" stroke="#000" stroke-width="0.8"/>
<line x1="429.5" y1="610.95" x2="428.1" y2="610.95" stroke="#000" stroke-width="0.8"/>
<line x1="265.5" y1="605.25" x2="266.9" y2="605.25" stroke="#000" stroke-width="0.8"/>
<line x1="429.5" y1="605.25" x2="428.1" y2="605.25" stroke="#000" stroke-width="0.8"/>
<line x1="265.5" y1="599.54" x2="266.9" y2="599.54" stroke="#000" stroke-width="0.8"/>
<line x1="429.5" y1="599.54" x2="428.1" y2="599.54" stroke="#000" stroke-width="0.8"/>
<line x1="265.5" y1="593.84" x2="266.9" y2="593.84" stroke="#000" stroke-width="0.8"/>
<line x1="429.5" y1="593.84" x2="428.1" y2="593.84" stroke="#000" stroke-width="0.8"/>
<line x1="265.5" y1="588.13" x2="266.9" y2="588.13" stroke="#000" stroke-width="0.8"/>
<line x1="429.5" y1="588.13" x2="428.1" y2="588.13" stroke="#000" stroke-width="0.8"/>
<line x1="265.5" y1="582.43" x2="266.9" y2="582.43" stroke="#000" stroke-width="0.8"/>
<line x1="429.5" y1="582.43" x2="428.1" y2="582.43" stroke="#000" stroke-width="0.8"/>
<line x1="265.5" y1="576.72" x2="266.9" y2="576.72" stroke="#000" stroke-width="0.8"/>
<line x1="429.5" y1="576.72" x2="428.1" y2="576.72" stroke="#000" stroke-width="0.8"/>
<line x1="265.5" y1="571.02" x2="266.9" y2="571.02" stroke="#000" stroke-width="0.8"/>
<line x1="429.5" y1="571.02" x2="428.1" y2="571.02" stroke="#000" stroke-width="0.8"/>
<line x1="265.5" y1="565.31" x2="266.9" y2="565.31" stroke="#000" stroke-width="0.8"/>
<line x1="429.5" y1="565.31" x2="428.1" y2="565.31" stroke="#000" stroke-width="0.8"/>
<line x1="265.5" y1="559.61" x2="266.9" y2="559.61" stroke="#000" stroke-width="0.8"/>
<line x1="429.5" y1="559.61" x2="428.1" y2="559.61" stroke="#000" stroke-width="0.8"/>
<line x1="265.5" y1="553.9" x2="266.9" y2="553.9" stroke="#000" stroke-width="0.8"/>
<line x1="429.5" y1="553.9" x2="428.1" y2="553.9" stroke="#000" stroke-width="0.8"/>
<line x1="265.5" y1="548.2" x2="266.9" y2="548.2" stroke="#000" stroke-width="0.8"/>
<line x1="429.5" y1="548.2" x2="428.1" y2="548.2" stroke="#000" stroke-width="0.8"/>
<line x1="270.55" y1="663.24" x2="424.76" y2="549.76" stroke="#0000ff" stroke-width="1.1"/>
<rect x="269.15" y="667.91" width="2.8" height="2.8" fill="#ff0000"/>
<rect x="278.91" y="658.21" width="2.8" height="2.8" fill="#ff0000"/>
<rect x="288.38" y="650.11" width="2.8" height="2.8" fill="#ff0000"/>
<rect x="298.17" y="641.21" width="2.8" height="2.8" fill="#ff0000"/>
<rect x="307.61" y="632.31" width="2.8" height="2.8" fill="#ff0000"/>
<rect x="317.4" y="624.44" width="2.8" height="2.8" fill="#ff0000"/>
<rect x="326.87" y="615.54" width="2.8" height="2.8" fill="#ff0000"/>
<rect x="336.63" y="609.26" width="2.8" height="2.8" fill="#ff0000"/>
<rect x="346.1" y="601.39" width="2.8" height="2.8" fill="#ff0000"/>
<rect x="355.89" y="595.35" width="2.8" height="2.8" fill="#ff0000"/>
<rect x="365.65" y="589.07" width="2.8" height="2.8" fill="#ff0000"/>
<rect x="375.12" y="582.57" width="2.8" height="2.8" fill="#ff0000"/>
<rect x="387.74" y="574.41" width="2.8" height="2.8" fill="#ff0000"/>
<rect x="397.81" y="569.45" width="2.8" height="2.8" fill="#ff0000"/>
<rect x="407.28" y="564.48" width="2.8" height="2.8" fill="#ff0000"/>
<rect x="417.07" y="558.44" width="2.8" height="2.8" fill="#ff0000"/>
<rect x="423.36" y="554.56" width="2.8" height="2.8" fill="#ff0000"/>
<line x1="265.5" y1="673.7" x2="429.5" y2="673.7" stroke="#444" stroke-width="1.4" stroke-linecap="square"/>
<line x1="265.5" y1="548.2" x2="265.5" y2="673.7" stroke="#444" stroke-width="1.4" stroke-linecap="square"/>
<line x1="265.5" y1="548.2" x2="429.5" y2="548.2" stroke="#444" stroke-width="1.4" stroke-linecap="square"/>
<line x1="429.5" y1="548.2" x2="429.5" y2="673.7" stroke="#444" stroke-width="1.4" stroke-linecap="square"/>
<text x="261.5" y="676.22" font-size="7" stroke="#000" stroke-width="0.22" text-anchor="end" textLength="11.9" lengthAdjust="spacingAndGlyphs">668</text>
<text x="261.5" y="664.81" font-size="7" stroke="#000" stroke-width="0.22" text-anchor="end" textLength="11.9" lengthAdjust="spacingAndGlyphs">670</text>
<text x="261.5" y="653.4" font-size="7" stroke="#000" stroke-width="0.22" text-anchor="end" textLength="11.9" lengthAdjust="spacingAndGlyphs">672</text>
<text x="261.5" y="641.99" font-size="7" stroke="#000" stroke-width="0.22" text-anchor="end" textLength="11.9" lengthAdjust="spacingAndGlyphs">674</text>
<text x="261.5" y="630.58" font-size="7" stroke="#000" stroke-width="0.22" text-anchor="end" textLength="11.9" lengthAdjust="spacingAndGlyphs">676</text>
<text x="261.5" y="619.17" font-size="7" stroke="#000" stroke-width="0.22" text-anchor="end" textLength="11.9" lengthAdjust="spacingAndGlyphs">678</text>
<text x="261.5" y="607.77" font-size="7" stroke="#000" stroke-width="0.22" text-anchor="end" textLength="11.9" lengthAdjust="spacingAndGlyphs">680</text>
<text x="261.5" y="596.36" font-size="7" stroke="#000" stroke-width="0.22" text-anchor="end" textLength="11.9" lengthAdjust="spacingAndGlyphs">682</text>
<text x="261.5" y="584.95" font-size="7" stroke="#000" stroke-width="0.22" text-anchor="end" textLength="11.9" lengthAdjust="spacingAndGlyphs">684</text>
<text x="261.5" y="573.54" font-size="7" stroke="#000" stroke-width="0.22" text-anchor="end" textLength="11.9" lengthAdjust="spacingAndGlyphs">686</text>
<text x="261.5" y="562.13" font-size="7" stroke="#000" stroke-width="0.22" text-anchor="end" textLength="11.9" lengthAdjust="spacingAndGlyphs">688</text>
<text x="261.5" y="550.72" font-size="7" stroke="#000" stroke-width="0.22" text-anchor="end" textLength="11.9" lengthAdjust="spacingAndGlyphs">690</text>
<text x="276.4" y="679.5" font-size="7.2" stroke="#000" stroke-width="0.22" text-anchor="end" dominant-baseline="central" transform="rotate(-45 276.4 679.5)">5.2</text>
<text x="289.11" y="679.5" font-size="7.2" stroke="#000" stroke-width="0.22" text-anchor="end" dominant-baseline="central" transform="rotate(-45 289.11 679.5)">5.6</text>
<text x="301.83" y="679.5" font-size="7.2" stroke="#000" stroke-width="0.22" text-anchor="end" dominant-baseline="central" transform="rotate(-45 301.83 679.5)">6.0</text>
<text x="314.54" y="679.5" font-size="7.2" stroke="#000" stroke-width="0.22" text-anchor="end" dominant-baseline="central" transform="rotate(-45 314.54 679.5)">6.4</text>
<text x="327.25" y="679.5" font-size="7.2" stroke="#000" stroke-width="0.22" text-anchor="end" dominant-baseline="central" transform="rotate(-45 327.25 679.5)">6.8</text>
<text x="339.97" y="679.5" font-size="7.2" stroke="#000" stroke-width="0.22" text-anchor="end" dominant-baseline="central" transform="rotate(-45 339.97 679.5)">7.2</text>
<text x="352.68" y="679.5" font-size="7.2" stroke="#000" stroke-width="0.22" text-anchor="end" dominant-baseline="central" transform="rotate(-45 352.68 679.5)">7.6</text>
<text x="365.39" y="679.5" font-size="7.2" stroke="#000" stroke-width="0.22" text-anchor="end" dominant-baseline="central" transform="rotate(-45 365.39 679.5)">8.0</text>
<text x="378.1" y="679.5" font-size="7.2" stroke="#000" stroke-width="0.22" text-anchor="end" dominant-baseline="central" transform="rotate(-45 378.1 679.5)">8.4</text>
<text x="390.82" y="679.5" font-size="7.2" stroke="#000" stroke-width="0.22" text-anchor="end" dominant-baseline="central" transform="rotate(-45 390.82 679.5)">8.8</text>
<text x="403.53" y="679.5" font-size="7.2" stroke="#000" stroke-width="0.22" text-anchor="end" dominant-baseline="central" transform="rotate(-45 403.53 679.5)">9.2</text>
<text x="416.24" y="679.5" font-size="7.2" stroke="#000" stroke-width="0.22" text-anchor="end" dominant-baseline="central" transform="rotate(-45 416.24 679.5)">9.6</text>
<text x="428.96" y="679.5" font-size="7.2" stroke="#000" stroke-width="0.22" text-anchor="end" dominant-baseline="central" transform="rotate(-45 428.96 679.5)">10.0</text>
<text x="242.6" y="610.95" font-size="7.2" font-weight="bold" text-anchor="middle" transform="rotate(-90 242.6 610.95)">Capacitance (pF)</text>
<text x="347.8" y="699.6" font-size="7.2" font-weight="bold" text-anchor="middle">Pressure (MPa)</text>
<rect x="268.5" y="551.4" width="74.2" height="23.2" fill="#fff" stroke="#444" stroke-width="0.8"/>
<rect x="277.9" y="556.1" width="2.6" height="2.6" fill="#ff0000"/>
<text x="293.6" y="559.5" font-size="5.8" font-weight="bold" fill="#ff0000" textLength="20.5" lengthAdjust="spacingAndGlyphs">Testing</text>
<line x1="269.2" y1="568.8" x2="288.8" y2="568.8" stroke="#0000ff" stroke-width="1.1"/>
<text x="293.6" y="570.9" font-size="5.8" font-weight="bold" fill="#0000ff" textLength="35.2" lengthAdjust="spacingAndGlyphs">Linear fitting</text>
<text x="347.5" y="565.4" font-size="7.1" font-weight="bold" fill="#ff0000" textLength="30.8" lengthAdjust="spacingAndGlyphs">5-10 MPa</text>
<text x="346.8" y="641.8" font-size="5.6" font-weight="bold" fill="#0000ff" textLength="46.3" lengthAdjust="spacingAndGlyphs"><tspan font-style="italic">y</tspan> = 649.01 + 4.1<tspan font-style="italic">x</tspan></text>
<text x="346.1" y="651.4" font-size="5.6" font-weight="bold" fill="#0000ff" textLength="30.9" lengthAdjust="spacingAndGlyphs"><tspan font-style="italic">R</tspan><tspan font-size="3.6" dy="-2">2</tspan><tspan dy="2"> = 0.9911</tspan></text>
<line x1="505.76" y1="549" x2="505.76" y2="673.7" stroke="#ececec" stroke-width="0.5"/>
<line x1="513.64" y1="549" x2="513.64" y2="673.7" stroke="#ececec" stroke-width="0.5"/>
<line x1="521.52" y1="549" x2="521.52" y2="673.7" stroke="#ececec" stroke-width="0.5"/>
<line x1="529.4" y1="549" x2="529.4" y2="673.7" stroke="#ececec" stroke-width="0.5"/>
<line x1="537.29" y1="549" x2="537.29" y2="673.7" stroke="#ececec" stroke-width="0.5"/>
<line x1="545.17" y1="549" x2="545.17" y2="673.7" stroke="#ececec" stroke-width="0.5"/>
<line x1="553.05" y1="549" x2="553.05" y2="673.7" stroke="#ececec" stroke-width="0.5"/>
<line x1="560.93" y1="549" x2="560.93" y2="673.7" stroke="#ececec" stroke-width="0.5"/>
<line x1="568.82" y1="549" x2="568.82" y2="673.7" stroke="#ececec" stroke-width="0.5"/>
<line x1="576.7" y1="549" x2="576.7" y2="673.7" stroke="#ececec" stroke-width="0.5"/>
<line x1="584.58" y1="549" x2="584.58" y2="673.7" stroke="#ececec" stroke-width="0.5"/>
<line x1="592.46" y1="549" x2="592.46" y2="673.7" stroke="#ececec" stroke-width="0.5"/>
<line x1="600.34" y1="549" x2="600.34" y2="673.7" stroke="#ececec" stroke-width="0.5"/>
<line x1="608.23" y1="549" x2="608.23" y2="673.7" stroke="#ececec" stroke-width="0.5"/>
<line x1="616.11" y1="549" x2="616.11" y2="673.7" stroke="#ececec" stroke-width="0.5"/>
<line x1="623.99" y1="549" x2="623.99" y2="673.7" stroke="#ececec" stroke-width="0.5"/>
<line x1="631.87" y1="549" x2="631.87" y2="673.7" stroke="#ececec" stroke-width="0.5"/>
<line x1="639.75" y1="549" x2="639.75" y2="673.7" stroke="#ececec" stroke-width="0.5"/>
<line x1="647.64" y1="549" x2="647.64" y2="673.7" stroke="#ececec" stroke-width="0.5"/>
<line x1="655.52" y1="549" x2="655.52" y2="673.7" stroke="#ececec" stroke-width="0.5"/>
<line x1="496.3" y1="668.03" x2="663.4" y2="668.03" stroke="#ececec" stroke-width="0.5"/>
<line x1="496.3" y1="662.36" x2="663.4" y2="662.36" stroke="#ececec" stroke-width="0.5"/>
<line x1="496.3" y1="656.7" x2="663.4" y2="656.7" stroke="#ececec" stroke-width="0.5"/>
<line x1="496.3" y1="651.03" x2="663.4" y2="651.03" stroke="#ececec" stroke-width="0.5"/>
<line x1="496.3" y1="645.36" x2="663.4" y2="645.36" stroke="#ececec" stroke-width="0.5"/>
<line x1="496.3" y1="639.69" x2="663.4" y2="639.69" stroke="#ececec" stroke-width="0.5"/>
<line x1="496.3" y1="634.02" x2="663.4" y2="634.02" stroke="#ececec" stroke-width="0.5"/>
<line x1="496.3" y1="628.35" x2="663.4" y2="628.35" stroke="#ececec" stroke-width="0.5"/>
<line x1="496.3" y1="622.69" x2="663.4" y2="622.69" stroke="#ececec" stroke-width="0.5"/>
<line x1="496.3" y1="617.02" x2="663.4" y2="617.02" stroke="#ececec" stroke-width="0.5"/>
<line x1="496.3" y1="611.35" x2="663.4" y2="611.35" stroke="#ececec" stroke-width="0.5"/>
<line x1="496.3" y1="605.68" x2="663.4" y2="605.68" stroke="#ececec" stroke-width="0.5"/>
<line x1="496.3" y1="600.01" x2="663.4" y2="600.01" stroke="#ececec" stroke-width="0.5"/>
<line x1="496.3" y1="594.35" x2="663.4" y2="594.35" stroke="#ececec" stroke-width="0.5"/>
<line x1="496.3" y1="588.68" x2="663.4" y2="588.68" stroke="#ececec" stroke-width="0.5"/>
<line x1="496.3" y1="583.01" x2="663.4" y2="583.01" stroke="#ececec" stroke-width="0.5"/>
<line x1="496.3" y1="577.34" x2="663.4" y2="577.34" stroke="#ececec" stroke-width="0.5"/>
<line x1="496.3" y1="571.67" x2="663.4" y2="571.67" stroke="#ececec" stroke-width="0.5"/>
<line x1="496.3" y1="566" x2="663.4" y2="566" stroke="#ececec" stroke-width="0.5"/>
<line x1="496.3" y1="560.34" x2="663.4" y2="560.34" stroke="#ececec" stroke-width="0.5"/>
<line x1="496.3" y1="554.67" x2="663.4" y2="554.67" stroke="#ececec" stroke-width="0.5"/>
<line x1="497.88" y1="549" x2="497.88" y2="673.7" stroke="#dadada" stroke-width="0.7"/>
<line x1="513.64" y1="549" x2="513.64" y2="673.7" stroke="#dadada" stroke-width="0.7"/>
<line x1="529.4" y1="549" x2="529.4" y2="673.7" stroke="#dadada" stroke-width="0.7"/>
<line x1="545.17" y1="549" x2="545.17" y2="673.7" stroke="#dadada" stroke-width="0.7"/>
<line x1="560.93" y1="549" x2="560.93" y2="673.7" stroke="#dadada" stroke-width="0.7"/>
<line x1="576.7" y1="549" x2="576.7" y2="673.7" stroke="#dadada" stroke-width="0.7"/>
<line x1="592.46" y1="549" x2="592.46" y2="673.7" stroke="#dadada" stroke-width="0.7"/>
<line x1="608.23" y1="549" x2="608.23" y2="673.7" stroke="#dadada" stroke-width="0.7"/>
<line x1="623.99" y1="549" x2="623.99" y2="673.7" stroke="#dadada" stroke-width="0.7"/>
<line x1="639.75" y1="549" x2="639.75" y2="673.7" stroke="#dadada" stroke-width="0.7"/>
<line x1="655.52" y1="549" x2="655.52" y2="673.7" stroke="#dadada" stroke-width="0.7"/>
<line x1="496.3" y1="662.36" x2="663.4" y2="662.36" stroke="#dadada" stroke-width="0.7"/>
<line x1="496.3" y1="651.03" x2="663.4" y2="651.03" stroke="#dadada" stroke-width="0.7"/>
<line x1="496.3" y1="639.69" x2="663.4" y2="639.69" stroke="#dadada" stroke-width="0.7"/>
<line x1="496.3" y1="628.35" x2="663.4" y2="628.35" stroke="#dadada" stroke-width="0.7"/>
<line x1="496.3" y1="617.02" x2="663.4" y2="617.02" stroke="#dadada" stroke-width="0.7"/>
<line x1="496.3" y1="605.68" x2="663.4" y2="605.68" stroke="#dadada" stroke-width="0.7"/>
<line x1="496.3" y1="594.35" x2="663.4" y2="594.35" stroke="#dadada" stroke-width="0.7"/>
<line x1="496.3" y1="583.01" x2="663.4" y2="583.01" stroke="#dadada" stroke-width="0.7"/>
<line x1="496.3" y1="571.67" x2="663.4" y2="571.67" stroke="#dadada" stroke-width="0.7"/>
<line x1="496.3" y1="560.34" x2="663.4" y2="560.34" stroke="#dadada" stroke-width="0.7"/>
<line x1="497.88" y1="673.7" x2="497.88" y2="671.3" stroke="#000" stroke-width="0.8"/>
<line x1="497.88" y1="549" x2="497.88" y2="551.4" stroke="#000" stroke-width="0.8"/>
<line x1="513.64" y1="673.7" x2="513.64" y2="671.3" stroke="#000" stroke-width="0.8"/>
<line x1="513.64" y1="549" x2="513.64" y2="551.4" stroke="#000" stroke-width="0.8"/>
<line x1="529.4" y1="673.7" x2="529.4" y2="671.3" stroke="#000" stroke-width="0.8"/>
<line x1="529.4" y1="549" x2="529.4" y2="551.4" stroke="#000" stroke-width="0.8"/>
<line x1="545.17" y1="673.7" x2="545.17" y2="671.3" stroke="#000" stroke-width="0.8"/>
<line x1="545.17" y1="549" x2="545.17" y2="551.4" stroke="#000" stroke-width="0.8"/>
<line x1="560.93" y1="673.7" x2="560.93" y2="671.3" stroke="#000" stroke-width="0.8"/>
<line x1="560.93" y1="549" x2="560.93" y2="551.4" stroke="#000" stroke-width="0.8"/>
<line x1="576.7" y1="673.7" x2="576.7" y2="671.3" stroke="#000" stroke-width="0.8"/>
<line x1="576.7" y1="549" x2="576.7" y2="551.4" stroke="#000" stroke-width="0.8"/>
<line x1="592.46" y1="673.7" x2="592.46" y2="671.3" stroke="#000" stroke-width="0.8"/>
<line x1="592.46" y1="549" x2="592.46" y2="551.4" stroke="#000" stroke-width="0.8"/>
<line x1="608.23" y1="673.7" x2="608.23" y2="671.3" stroke="#000" stroke-width="0.8"/>
<line x1="608.23" y1="549" x2="608.23" y2="551.4" stroke="#000" stroke-width="0.8"/>
<line x1="623.99" y1="673.7" x2="623.99" y2="671.3" stroke="#000" stroke-width="0.8"/>
<line x1="623.99" y1="549" x2="623.99" y2="551.4" stroke="#000" stroke-width="0.8"/>
<line x1="639.75" y1="673.7" x2="639.75" y2="671.3" stroke="#000" stroke-width="0.8"/>
<line x1="639.75" y1="549" x2="639.75" y2="551.4" stroke="#000" stroke-width="0.8"/>
<line x1="655.52" y1="673.7" x2="655.52" y2="671.3" stroke="#000" stroke-width="0.8"/>
<line x1="655.52" y1="549" x2="655.52" y2="551.4" stroke="#000" stroke-width="0.8"/>
<line x1="505.76" y1="673.7" x2="505.76" y2="672.3" stroke="#000" stroke-width="0.8"/>
<line x1="505.76" y1="549" x2="505.76" y2="550.4" stroke="#000" stroke-width="0.8"/>
<line x1="513.64" y1="673.7" x2="513.64" y2="672.3" stroke="#000" stroke-width="0.8"/>
<line x1="513.64" y1="549" x2="513.64" y2="550.4" stroke="#000" stroke-width="0.8"/>
<line x1="521.52" y1="673.7" x2="521.52" y2="672.3" stroke="#000" stroke-width="0.8"/>
<line x1="521.52" y1="549" x2="521.52" y2="550.4" stroke="#000" stroke-width="0.8"/>
<line x1="529.4" y1="673.7" x2="529.4" y2="672.3" stroke="#000" stroke-width="0.8"/>
<line x1="529.4" y1="549" x2="529.4" y2="550.4" stroke="#000" stroke-width="0.8"/>
<line x1="537.29" y1="673.7" x2="537.29" y2="672.3" stroke="#000" stroke-width="0.8"/>
<line x1="537.29" y1="549" x2="537.29" y2="550.4" stroke="#000" stroke-width="0.8"/>
<line x1="545.17" y1="673.7" x2="545.17" y2="672.3" stroke="#000" stroke-width="0.8"/>
<line x1="545.17" y1="549" x2="545.17" y2="550.4" stroke="#000" stroke-width="0.8"/>
<line x1="553.05" y1="673.7" x2="553.05" y2="672.3" stroke="#000" stroke-width="0.8"/>
<line x1="553.05" y1="549" x2="553.05" y2="550.4" stroke="#000" stroke-width="0.8"/>
<line x1="560.93" y1="673.7" x2="560.93" y2="672.3" stroke="#000" stroke-width="0.8"/>
<line x1="560.93" y1="549" x2="560.93" y2="550.4" stroke="#000" stroke-width="0.8"/>
<line x1="568.82" y1="673.7" x2="568.82" y2="672.3" stroke="#000" stroke-width="0.8"/>
<line x1="568.82" y1="549" x2="568.82" y2="550.4" stroke="#000" stroke-width="0.8"/>
<line x1="576.7" y1="673.7" x2="576.7" y2="672.3" stroke="#000" stroke-width="0.8"/>
<line x1="576.7" y1="549" x2="576.7" y2="550.4" stroke="#000" stroke-width="0.8"/>
<line x1="584.58" y1="673.7" x2="584.58" y2="672.3" stroke="#000" stroke-width="0.8"/>
<line x1="584.58" y1="549" x2="584.58" y2="550.4" stroke="#000" stroke-width="0.8"/>
<line x1="592.46" y1="673.7" x2="592.46" y2="672.3" stroke="#000" stroke-width="0.8"/>
<line x1="592.46" y1="549" x2="592.46" y2="550.4" stroke="#000" stroke-width="0.8"/>
<line x1="600.34" y1="673.7" x2="600.34" y2="672.3" stroke="#000" stroke-width="0.8"/>
<line x1="600.34" y1="549" x2="600.34" y2="550.4" stroke="#000" stroke-width="0.8"/>
<line x1="608.23" y1="673.7" x2="608.23" y2="672.3" stroke="#000" stroke-width="0.8"/>
<line x1="608.23" y1="549" x2="608.23" y2="550.4" stroke="#000" stroke-width="0.8"/>
<line x1="616.11" y1="673.7" x2="616.11" y2="672.3" stroke="#000" stroke-width="0.8"/>
<line x1="616.11" y1="549" x2="616.11" y2="550.4" stroke="#000" stroke-width="0.8"/>
<line x1="623.99" y1="673.7" x2="623.99" y2="672.3" stroke="#000" stroke-width="0.8"/>
<line x1="623.99" y1="549" x2="623.99" y2="550.4" stroke="#000" stroke-width="0.8"/>
<line x1="631.87" y1="673.7" x2="631.87" y2="672.3" stroke="#000" stroke-width="0.8"/>
<line x1="631.87" y1="549" x2="631.87" y2="550.4" stroke="#000" stroke-width="0.8"/>
<line x1="639.75" y1="673.7" x2="639.75" y2="672.3" stroke="#000" stroke-width="0.8"/>
<line x1="639.75" y1="549" x2="639.75" y2="550.4" stroke="#000" stroke-width="0.8"/>
<line x1="647.64" y1="673.7" x2="647.64" y2="672.3" stroke="#000" stroke-width="0.8"/>
<line x1="647.64" y1="549" x2="647.64" y2="550.4" stroke="#000" stroke-width="0.8"/>
<line x1="655.52" y1="673.7" x2="655.52" y2="672.3" stroke="#000" stroke-width="0.8"/>
<line x1="655.52" y1="549" x2="655.52" y2="550.4" stroke="#000" stroke-width="0.8"/>
<line x1="663.4" y1="673.7" x2="663.4" y2="672.3" stroke="#000" stroke-width="0.8"/>
<line x1="663.4" y1="549" x2="663.4" y2="550.4" stroke="#000" stroke-width="0.8"/>
<line x1="496.3" y1="673.7" x2="498.7" y2="673.7" stroke="#000" stroke-width="0.8"/>
<line x1="663.4" y1="673.7" x2="661" y2="673.7" stroke="#000" stroke-width="0.8"/>
<line x1="496.3" y1="662.36" x2="498.7" y2="662.36" stroke="#000" stroke-width="0.8"/>
<line x1="663.4" y1="662.36" x2="661" y2="662.36" stroke="#000" stroke-width="0.8"/>
<line x1="496.3" y1="651.03" x2="498.7" y2="651.03" stroke="#000" stroke-width="0.8"/>
<line x1="663.4" y1="651.03" x2="661" y2="651.03" stroke="#000" stroke-width="0.8"/>
<line x1="496.3" y1="639.69" x2="498.7" y2="639.69" stroke="#000" stroke-width="0.8"/>
<line x1="663.4" y1="639.69" x2="661" y2="639.69" stroke="#000" stroke-width="0.8"/>
<line x1="496.3" y1="628.35" x2="498.7" y2="628.35" stroke="#000" stroke-width="0.8"/>
<line x1="663.4" y1="628.35" x2="661" y2="628.35" stroke="#000" stroke-width="0.8"/>
<line x1="496.3" y1="617.02" x2="498.7" y2="617.02" stroke="#000" stroke-width="0.8"/>
<line x1="663.4" y1="617.02" x2="661" y2="617.02" stroke="#000" stroke-width="0.8"/>
<line x1="496.3" y1="605.68" x2="498.7" y2="605.68" stroke="#000" stroke-width="0.8"/>
<line x1="663.4" y1="605.68" x2="661" y2="605.68" stroke="#000" stroke-width="0.8"/>
<line x1="496.3" y1="594.35" x2="498.7" y2="594.35" stroke="#000" stroke-width="0.8"/>
<line x1="663.4" y1="594.35" x2="661" y2="594.35" stroke="#000" stroke-width="0.8"/>
<line x1="496.3" y1="583.01" x2="498.7" y2="583.01" stroke="#000" stroke-width="0.8"/>
<line x1="663.4" y1="583.01" x2="661" y2="583.01" stroke="#000" stroke-width="0.8"/>
<line x1="496.3" y1="571.67" x2="498.7" y2="571.67" stroke="#000" stroke-width="0.8"/>
<line x1="663.4" y1="571.67" x2="661" y2="571.67" stroke="#000" stroke-width="0.8"/>
<line x1="496.3" y1="560.34" x2="498.7" y2="560.34" stroke="#000" stroke-width="0.8"/>
<line x1="663.4" y1="560.34" x2="661" y2="560.34" stroke="#000" stroke-width="0.8"/>
<line x1="496.3" y1="549" x2="498.7" y2="549" stroke="#000" stroke-width="0.8"/>
<line x1="663.4" y1="549" x2="661" y2="549" stroke="#000" stroke-width="0.8"/>
<line x1="496.3" y1="673.7" x2="497.7" y2="673.7" stroke="#000" stroke-width="0.8"/>
<line x1="663.4" y1="673.7" x2="662" y2="673.7" stroke="#000" stroke-width="0.8"/>
<line x1="496.3" y1="668.03" x2="497.7" y2="668.03" stroke="#000" stroke-width="0.8"/>
<line x1="663.4" y1="668.03" x2="662" y2="668.03" stroke="#000" stroke-width="0.8"/>
<line x1="496.3" y1="662.36" x2="497.7" y2="662.36" stroke="#000" stroke-width="0.8"/>
<line x1="663.4" y1="662.36" x2="662" y2="662.36" stroke="#000" stroke-width="0.8"/>
<line x1="496.3" y1="656.7" x2="497.7" y2="656.7" stroke="#000" stroke-width="0.8"/>
<line x1="663.4" y1="656.7" x2="662" y2="656.7" stroke="#000" stroke-width="0.8"/>
<line x1="496.3" y1="651.03" x2="497.7" y2="651.03" stroke="#000" stroke-width="0.8"/>
<line x1="663.4" y1="651.03" x2="662" y2="651.03" stroke="#000" stroke-width="0.8"/>
<line x1="496.3" y1="645.36" x2="497.7" y2="645.36" stroke="#000" stroke-width="0.8"/>
<line x1="663.4" y1="645.36" x2="662" y2="645.36" stroke="#000" stroke-width="0.8"/>
<line x1="496.3" y1="639.69" x2="497.7" y2="639.69" stroke="#000" stroke-width="0.8"/>
<line x1="663.4" y1="639.69" x2="662" y2="639.69" stroke="#000" stroke-width="0.8"/>
<line x1="496.3" y1="634.02" x2="497.7" y2="634.02" stroke="#000" stroke-width="0.8"/>
<line x1="663.4" y1="634.02" x2="662" y2="634.02" stroke="#000" stroke-width="0.8"/>
<line x1="496.3" y1="628.35" x2="497.7" y2="628.35" stroke="#000" stroke-width="0.8"/>
<line x1="663.4" y1="628.35" x2="662" y2="628.35" stroke="#000" stroke-width="0.8"/>
<line x1="496.3" y1="622.69" x2="497.7" y2="622.69" stroke="#000" stroke-width="0.8"/>
<line x1="663.4" y1="622.69" x2="662" y2="622.69" stroke="#000" stroke-width="0.8"/>
<line x1="496.3" y1="617.02" x2="497.7" y2="617.02" stroke="#000" stroke-width="0.8"/>
<line x1="663.4" y1="617.02" x2="662" y2="617.02" stroke="#000" stroke-width="0.8"/>
<line x1="496.3" y1="611.35" x2="497.7" y2="611.35" stroke="#000" stroke-width="0.8"/>
<line x1="663.4" y1="611.35" x2="662" y2="611.35" stroke="#000" stroke-width="0.8"/>
<line x1="496.3" y1="605.68" x2="497.7" y2="605.68" stroke="#000" stroke-width="0.8"/>
<line x1="663.4" y1="605.68" x2="662" y2="605.68" stroke="#000" stroke-width="0.8"/>
<line x1="496.3" y1="600.01" x2="497.7" y2="600.01" stroke="#000" stroke-width="0.8"/>
<line x1="663.4" y1="600.01" x2="662" y2="600.01" stroke="#000" stroke-width="0.8"/>
<line x1="496.3" y1="594.35" x2="497.7" y2="594.35" stroke="#000" stroke-width="0.8"/>
<line x1="663.4" y1="594.35" x2="662" y2="594.35" stroke="#000" stroke-width="0.8"/>
<line x1="496.3" y1="588.68" x2="497.7" y2="588.68" stroke="#000" stroke-width="0.8"/>
<line x1="663.4" y1="588.68" x2="662" y2="588.68" stroke="#000" stroke-width="0.8"/>
<line x1="496.3" y1="583.01" x2="497.7" y2="583.01" stroke="#000" stroke-width="0.8"/>
<line x1="663.4" y1="583.01" x2="662" y2="583.01" stroke="#000" stroke-width="0.8"/>
<line x1="496.3" y1="577.34" x2="497.7" y2="577.34" stroke="#000" stroke-width="0.8"/>
<line x1="663.4" y1="577.34" x2="662" y2="577.34" stroke="#000" stroke-width="0.8"/>
<line x1="496.3" y1="571.67" x2="497.7" y2="571.67" stroke="#000" stroke-width="0.8"/>
<line x1="663.4" y1="571.67" x2="662" y2="571.67" stroke="#000" stroke-width="0.8"/>
<line x1="496.3" y1="566" x2="497.7" y2="566" stroke="#000" stroke-width="0.8"/>
<line x1="663.4" y1="566" x2="662" y2="566" stroke="#000" stroke-width="0.8"/>
<line x1="496.3" y1="560.34" x2="497.7" y2="560.34" stroke="#000" stroke-width="0.8"/>
<line x1="663.4" y1="560.34" x2="662" y2="560.34" stroke="#000" stroke-width="0.8"/>
<line x1="496.3" y1="554.67" x2="497.7" y2="554.67" stroke="#000" stroke-width="0.8"/>
<line x1="663.4" y1="554.67" x2="662" y2="554.67" stroke="#000" stroke-width="0.8"/>
<line x1="496.3" y1="549" x2="497.7" y2="549" stroke="#000" stroke-width="0.8"/>
<line x1="663.4" y1="549" x2="662" y2="549" stroke="#000" stroke-width="0.8"/>
<line x1="503.08" y1="655.18" x2="655.52" y2="557.62" stroke="#0000ff" stroke-width="1.1"/>
<rect x="501.68" y="660.79" width="2.8" height="2.8" fill="#ff0000"/>
<rect x="506.72" y="655.81" width="2.8" height="2.8" fill="#ff0000"/>
<rect x="512.71" y="650.53" width="2.8" height="2.8" fill="#ff0000"/>
<rect x="517.6" y="645.04" width="2.8" height="2.8" fill="#ff0000"/>
<rect x="522.33" y="641.07" width="2.8" height="2.8" fill="#ff0000"/>
<rect x="527.69" y="636.87" width="2.8" height="2.8" fill="#ff0000"/>
<rect x="532.89" y="632.68" width="2.8" height="2.8" fill="#ff0000"/>
<rect x="538.09" y="628.2" width="2.8" height="2.8" fill="#ff0000"/>
<rect x="543.14" y="624.8" width="2.8" height="2.8" fill="#ff0000"/>
<rect x="547.87" y="621.63" width="2.8" height="2.8" fill="#ff0000"/>
<rect x="552.44" y="620.32" width="2.8" height="2.8" fill="#ff0000"/>
<rect x="557.48" y="614.03" width="2.8" height="2.8" fill="#ff0000"/>
<rect x="562.53" y="611.14" width="2.8" height="2.8" fill="#ff0000"/>
<rect x="566.94" y="607.97" width="2.8" height="2.8" fill="#ff0000"/>
<rect x="571.67" y="604.85" width="2.8" height="2.8" fill="#ff0000"/>
<rect x="574.82" y="602.47" width="2.8" height="2.8" fill="#ff0000"/>
<rect x="580.81" y="599.35" width="2.8" height="2.8" fill="#ff0000"/>
<rect x="584.44" y="597.2" width="2.8" height="2.8" fill="#ff0000"/>
<rect x="590.43" y="592.78" width="2.8" height="2.8" fill="#ff0000"/>
<rect x="595.16" y="591.19" width="2.8" height="2.8" fill="#ff0000"/>
<rect x="600.2" y="587.79" width="2.8" height="2.8" fill="#ff0000"/>
<rect x="605.25" y="585.12" width="2.8" height="2.8" fill="#ff0000"/>
<rect x="609.82" y="582.8" width="2.8" height="2.8" fill="#ff0000"/>
<rect x="614.55" y="580.14" width="2.8" height="2.8" fill="#ff0000"/>
<rect x="619.28" y="578.04" width="2.8" height="2.8" fill="#ff0000"/>
<rect x="624.01" y="575.94" width="2.8" height="2.8" fill="#ff0000"/>
<rect x="629.05" y="573.84" width="2.8" height="2.8" fill="#ff0000"/>
<rect x="633.47" y="571.46" width="2.8" height="2.8" fill="#ff0000"/>
<rect x="638.2" y="569.14" width="2.8" height="2.8" fill="#ff0000"/>
<rect x="643.4" y="567.27" width="2.8" height="2.8" fill="#ff0000"/>
<rect x="649.23" y="563.87" width="2.8" height="2.8" fill="#ff0000"/>
<rect x="654.12" y="561.26" width="2.8" height="2.8" fill="#ff0000"/>
<line x1="496.3" y1="673.7" x2="663.4" y2="673.7" stroke="#444" stroke-width="1.4" stroke-linecap="square"/>
<line x1="496.3" y1="549" x2="496.3" y2="673.7" stroke="#444" stroke-width="1.4" stroke-linecap="square"/>
<line x1="496.3" y1="549" x2="663.4" y2="549" stroke="#444" stroke-width="1.4" stroke-linecap="square"/>
<line x1="663.4" y1="549" x2="663.4" y2="673.7" stroke="#444" stroke-width="1.4" stroke-linecap="square"/>
<text x="492.3" y="676.22" font-size="7" font-weight="bold" text-anchor="end">688</text>
<text x="492.3" y="664.88" font-size="7" font-weight="bold" text-anchor="end">690</text>
<text x="492.3" y="653.55" font-size="7" font-weight="bold" text-anchor="end">692</text>
<text x="492.3" y="642.21" font-size="7" font-weight="bold" text-anchor="end">694</text>
<text x="492.3" y="630.87" font-size="7" font-weight="bold" text-anchor="end">696</text>
<text x="492.3" y="619.54" font-size="7" font-weight="bold" text-anchor="end">698</text>
<text x="492.3" y="608.2" font-size="7" font-weight="bold" text-anchor="end">700</text>
<text x="492.3" y="596.87" font-size="7" font-weight="bold" text-anchor="end">702</text>
<text x="492.3" y="585.53" font-size="7" font-weight="bold" text-anchor="end">704</text>
<text x="492.3" y="574.19" font-size="7" font-weight="bold" text-anchor="end">706</text>
<text x="492.3" y="562.86" font-size="7" font-weight="bold" text-anchor="end">708</text>
<text x="492.3" y="551.52" font-size="7" font-weight="bold" text-anchor="end">710</text>
<text x="499.88" y="679.5" font-size="7.2" font-weight="bold" text-anchor="end" dominant-baseline="central" transform="rotate(-45 499.88 679.5)">10</text>
<text x="515.64" y="679.5" font-size="7.2" font-weight="bold" text-anchor="end" dominant-baseline="central" transform="rotate(-45 515.64 679.5)">11</text>
<text x="531.4" y="679.5" font-size="7.2" font-weight="bold" text-anchor="end" dominant-baseline="central" transform="rotate(-45 531.4 679.5)">12</text>
<text x="547.17" y="679.5" font-size="7.2" font-weight="bold" text-anchor="end" dominant-baseline="central" transform="rotate(-45 547.17 679.5)">13</text>
<text x="562.93" y="679.5" font-size="7.2" font-weight="bold" text-anchor="end" dominant-baseline="central" transform="rotate(-45 562.93 679.5)">14</text>
<text x="578.7" y="679.5" font-size="7.2" font-weight="bold" text-anchor="end" dominant-baseline="central" transform="rotate(-45 578.7 679.5)">15</text>
<text x="594.46" y="679.5" font-size="7.2" font-weight="bold" text-anchor="end" dominant-baseline="central" transform="rotate(-45 594.46 679.5)">16</text>
<text x="610.23" y="679.5" font-size="7.2" font-weight="bold" text-anchor="end" dominant-baseline="central" transform="rotate(-45 610.23 679.5)">17</text>
<text x="625.99" y="679.5" font-size="7.2" font-weight="bold" text-anchor="end" dominant-baseline="central" transform="rotate(-45 625.99 679.5)">18</text>
<text x="641.75" y="679.5" font-size="7.2" font-weight="bold" text-anchor="end" dominant-baseline="central" transform="rotate(-45 641.75 679.5)">19</text>
<text x="657.52" y="679.5" font-size="7.2" font-weight="bold" text-anchor="end" dominant-baseline="central" transform="rotate(-45 657.52 679.5)">20</text>
<text x="473.4" y="611.35" font-size="7.2" font-weight="bold" text-anchor="middle" transform="rotate(-90 473.4 611.35)">Capacitance (pF)</text>
<text x="579.9" y="698.7" font-size="7.2" font-weight="bold" text-anchor="middle">Pressure (MPa)</text>
<rect x="499.5" y="552.3" width="73.7" height="22.4" fill="#fff" stroke="#444" stroke-width="0.8"/>
<rect x="509.1" y="556.9" width="2.6" height="2.6" fill="#ff0000"/>
<text x="524.8" y="560.3" font-size="5.8" font-weight="bold" fill="#ff0000" textLength="20.5" lengthAdjust="spacingAndGlyphs">Testing</text>
<line x1="500.2" y1="569.6" x2="519.8" y2="569.6" stroke="#0000ff" stroke-width="1.1"/>
<text x="524.8" y="571.7" font-size="5.8" font-weight="bold" fill="#0000ff" textLength="35.2" lengthAdjust="spacingAndGlyphs">Linear fitting</text>
<text x="577.6" y="566.4" font-size="7.1" font-weight="bold" fill="#ff0000" textLength="34.6" lengthAdjust="spacingAndGlyphs">10-20 MPa</text>
<text x="578.6" y="636.8" font-size="5.6" font-weight="bold" fill="#0000ff" textLength="49.3" lengthAdjust="spacingAndGlyphs"><tspan font-style="italic">y</tspan> = 672.88 + 1.78<tspan font-style="italic">x</tspan></text>
<text x="578.6" y="648.5" font-size="5.6" font-weight="bold" fill="#0000ff" textLength="28.2" lengthAdjust="spacingAndGlyphs"><tspan font-style="italic">R</tspan><tspan font-size="3.6" dy="-2">2</tspan><tspan dy="2"> = 0.987</tspan></text>
<text x="-0.5" y="378" font-size="16" font-weight="bold">g</text>
</svg></body></html>
